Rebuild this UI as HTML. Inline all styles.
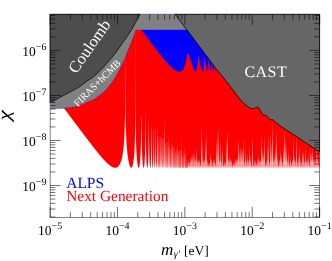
<!DOCTYPE html><html><head><meta charset="utf-8"><style>html,body{margin:0;padding:0;background:#fff}svg{display:block;will-change:transform}.s{font-family:"Liberation Serif",serif;text-rendering:geometricPrecision}</style></head><body><svg width="332" height="261" viewBox="0 0 332 261">
<rect x="0" y="0" width="332" height="261" fill="#fff"/>
<rect x="50.1" y="14.3" width="269.5" height="203.1" fill="none" stroke="#000" stroke-width="0.48"/>
<polygon points="50.40,29.70 50.40,89.98 50.58,90.22 50.76,90.47 50.94,90.71 51.12,90.95 51.30,91.19 51.48,91.43 51.66,91.67 51.84,91.91 52.02,92.15 52.20,92.39 52.38,92.63 52.56,92.87 52.74,93.11 52.92,93.35 53.10,93.59 53.28,93.83 53.46,94.07 53.64,94.31 53.82,94.55 54.00,94.79 54.18,95.03 54.36,95.28 54.54,95.52 54.72,95.76 54.90,96.00 55.08,96.24 55.26,96.48 55.44,96.72 55.62,96.96 55.80,97.20 55.98,97.44 56.16,97.68 56.34,97.92 56.52,98.16 56.70,98.40 56.88,98.64 57.06,98.88 57.24,99.12 57.42,99.36 57.60,99.60 57.78,99.84 57.96,100.09 58.14,100.33 58.32,100.57 58.50,100.81 58.68,101.05 58.86,101.29 59.04,101.53 59.22,101.77 59.40,102.01 59.58,102.25 59.76,102.49 59.94,102.73 60.12,102.97 60.30,103.21 60.48,103.45 60.66,103.69 60.84,103.93 61.02,104.17 61.20,104.41 61.38,104.65 61.56,104.89 61.74,105.13 61.92,105.38 62.10,105.62 62.28,105.86 62.46,106.10 62.64,106.34 62.82,106.58 63.00,106.82 63.18,107.06 63.36,107.30 63.54,107.54 63.72,107.78 63.90,108.02 64.08,108.26 64.26,108.50 64.44,108.74 64.62,108.98 64.80,109.22 64.98,109.46 65.16,109.70 65.34,109.94 65.52,110.18 65.70,110.42 65.88,110.66 66.06,110.90 66.24,111.14 66.42,111.38 66.60,111.62 66.78,111.86 66.96,112.11 67.14,112.35 67.32,112.59 67.50,112.83 67.68,113.07 67.86,113.31 68.04,113.55 68.22,113.79 68.40,114.03 68.58,114.27 68.76,114.51 68.94,114.75 69.12,114.99 69.30,115.23 69.48,115.47 69.66,115.71 69.84,115.95 70.02,116.19 70.20,116.43 70.38,116.67 70.56,116.91 70.74,117.15 70.92,117.39 71.10,117.63 71.28,117.87 71.46,118.11 71.64,118.35 71.82,118.59 72.00,118.83 72.18,119.07 72.36,119.31 72.54,119.55 72.72,119.79 72.90,120.03 73.08,120.28 73.27,120.52 73.45,120.76 73.63,121.00 73.81,121.24 73.99,121.48 74.17,121.72 74.35,121.96 74.53,122.21 74.71,122.45 74.89,122.69 75.08,122.93 75.26,123.17 75.44,123.41 75.62,123.65 75.80,123.89 75.98,124.13 76.16,124.37 76.34,124.62 76.52,124.86 76.70,125.10 76.89,125.34 77.07,125.58 77.25,125.82 77.43,126.06 77.61,126.30 77.79,126.54 77.97,126.78 78.15,127.02 78.33,127.26 78.51,127.50 78.70,127.75 78.88,127.99 79.06,128.23 79.24,128.47 79.42,128.71 79.60,128.95 79.78,129.19 79.96,129.43 80.14,129.67 80.32,129.91 80.51,130.15 80.69,130.39 80.87,130.63 81.05,130.87 81.23,131.11 81.41,131.35 81.59,131.59 81.77,131.83 81.95,132.07 82.13,132.31 82.32,132.55 82.50,132.79 82.68,133.03 82.86,133.27 83.04,133.51 83.22,133.75 83.40,133.98 83.58,134.22 83.76,134.46 83.95,134.70 84.13,134.94 84.31,135.19 84.49,135.43 84.67,135.67 84.86,135.91 85.04,136.15 85.22,136.39 85.40,136.63 85.58,136.87 85.77,137.10 85.95,137.34 86.13,137.58 86.31,137.82 86.49,138.06 86.68,138.30 86.86,138.54 87.04,138.78 87.22,139.02 87.40,139.26 87.59,139.50 87.77,139.73 87.95,139.97 88.13,140.21 88.32,140.45 88.50,140.69 88.68,140.93 88.87,141.17 89.05,141.41 89.23,141.65 89.42,141.89 89.60,142.13 89.78,142.36 89.96,142.60 90.15,142.84 90.33,143.08 90.51,143.32 90.70,143.56 90.88,143.79 91.07,144.03 91.25,144.27 91.43,144.51 91.62,144.75 91.80,144.99 91.99,145.22 92.17,145.46 92.35,145.70 92.54,145.93 92.72,146.17 92.91,146.41 93.09,146.65 93.28,146.88 93.46,147.12 93.65,147.36 93.83,147.59 94.02,147.83 94.21,148.07 94.39,148.30 94.58,148.54 94.76,148.78 94.95,149.01 95.14,149.25 95.32,149.49 95.51,149.72 95.70,149.96 95.89,150.19 96.07,150.43 96.26,150.66 96.45,150.90 96.64,151.13 96.82,151.37 97.01,151.60 97.20,151.84 97.39,152.07 97.58,152.30 97.77,152.54 97.96,152.77 98.15,153.00 98.34,153.24 98.53,153.47 98.72,153.70 98.91,153.94 99.10,154.17 99.29,154.40 99.49,154.63 99.68,154.86 99.87,155.09 100.06,155.32 100.26,155.55 100.45,155.78 100.64,156.01 100.84,156.24 101.03,156.47 101.23,156.70 101.42,156.93 101.62,157.16 101.82,157.38 102.01,157.61 102.21,157.84 102.41,158.06 102.61,158.29 102.81,158.52 103.01,158.74 103.21,158.96 103.41,159.19 103.61,159.41 103.81,159.63 104.02,159.85 104.22,160.08 104.43,160.30 104.63,160.52 104.84,160.73 105.04,160.95 105.25,161.17 105.46,161.39 105.67,161.60 105.88,161.82 106.09,162.03 106.31,162.24 106.52,162.45 106.74,162.66 106.95,162.87 107.17,163.08 107.39,163.28 107.61,163.49 107.83,163.69 108.06,163.89 108.28,164.09 108.51,164.29 108.74,164.48 108.97,164.68 109.20,164.87 109.44,165.06 109.67,165.24 109.91,165.42 110.16,165.60 110.40,165.78 110.65,165.95 110.90,166.12 111.15,166.28 111.41,166.44 111.66,166.59 111.93,166.74 112.19,166.88 112.46,167.01 112.74,167.13 113.02,167.25 113.30,167.35 113.58,167.45 113.87,167.53 114.17,167.60 114.46,167.65 114.76,167.68 115.06,167.70 115.16,167.70 115.46,167.69 115.76,167.66 116.05,167.60 116.34,167.53 116.63,167.43 116.90,167.31 117.17,167.17 117.43,167.01 117.67,166.84 117.91,166.65 118.13,166.45 118.34,166.24 118.54,166.02 118.74,165.79 118.92,165.55 119.10,165.30 119.26,165.05 119.42,164.80 119.57,164.54 119.72,164.28 119.86,164.01 119.99,163.74 120.12,163.47 120.25,163.19 120.37,162.91 120.48,162.63 120.59,162.36 120.70,162.07 120.80,161.79 120.90,161.51 120.99,161.22 121.09,160.93 121.18,160.65 121.26,160.36 121.35,160.07 121.43,159.78 121.51,159.48 121.59,159.19 121.66,158.90 121.74,158.61 121.81,158.31 121.88,158.02 121.94,157.72 122.01,157.43 122.07,157.13 122.13,156.84 122.20,156.54 122.25,156.24 122.31,155.95 122.37,155.65 122.42,155.35 122.48,155.05 122.53,154.75 122.58,154.46 122.63,154.16 122.68,153.86 122.73,153.56 122.77,153.25 122.82,152.95 122.87,152.65 122.91,152.35 122.95,152.04 122.99,151.74 123.04,151.44 123.08,151.14 123.11,150.84 123.15,150.54 123.19,150.24 123.23,149.93 123.26,149.63 123.30,149.33 123.33,149.03 123.37,148.73 123.40,148.43 123.43,148.12 123.47,147.82 123.50,147.52 123.53,147.22 123.56,146.91 123.59,146.61 123.62,146.31 123.65,146.00 123.67,145.69 123.70,145.38 123.73,145.08 123.76,144.77 123.78,144.46 123.81,144.15 123.83,143.85 123.86,143.54 123.88,143.24 123.91,142.93 123.93,142.62 123.95,142.32 123.97,142.02 124.00,141.71 124.02,141.40 124.04,141.10 124.06,140.79 124.08,140.48 124.10,140.18 124.12,139.87 124.14,139.55 124.16,139.25 124.18,138.94 124.20,138.62 124.22,138.31 124.23,138.00 124.25,137.69 124.27,137.38 124.29,137.08 124.30,136.76 124.32,136.46 124.33,136.15 124.35,135.84 124.37,135.52 124.38,135.22 124.40,134.91 124.41,134.60 124.43,134.28 124.44,133.97 124.45,133.67 124.47,133.35 124.48,133.03 124.50,132.73 124.51,132.42 124.52,132.11 124.53,131.79 124.55,131.47 124.56,131.16 124.57,130.85 124.58,130.54 124.60,130.22 124.61,129.89 124.62,129.59 124.63,129.28 124.64,128.97 124.65,128.65 124.66,128.32 124.67,128.02 124.68,127.71 124.69,127.40 124.70,127.09 124.71,126.77 124.72,126.44 124.73,126.14 124.74,125.83 124.75,125.52 124.76,125.21 124.77,124.89 124.78,124.56 124.79,124.23 124.79,123.93 124.80,123.62 124.81,123.31 124.82,123.00 124.83,122.68 124.83,122.35 124.84,122.02 124.85,121.68 124.86,121.38 124.86,121.07 124.87,120.76 124.88,120.45 124.88,120.12 124.89,119.80 124.90,119.46 124.91,119.13 124.91,118.78 124.92,118.48 124.92,118.17 124.93,117.86 124.94,117.55 124.94,117.23 124.95,116.90 124.95,116.57 124.96,116.23 124.97,115.88 124.97,115.53 124.98,115.18 124.98,114.87 124.99,114.56 124.99,114.25 125.00,113.93 125.00,113.61 125.01,113.28 125.01,112.94 125.02,112.60 125.02,112.26 125.03,111.90 125.03,111.54 125.04,111.17 125.04,110.80 125.05,110.50 125.05,110.19 125.06,109.87 125.06,109.55 125.06,109.22 125.07,108.89 125.07,108.56 125.08,108.21 125.08,107.86 125.08,107.51 125.09,107.15 125.09,106.78 125.10,106.40 125.10,106.01 125.10,105.62 125.11,105.22 125.11,104.92 125.11,104.61 125.12,104.29 125.12,103.97 125.12,103.64 125.13,103.31 125.13,102.97 125.13,102.63 125.13,102.28 125.14,101.92 125.14,101.56 125.14,101.19 125.15,100.81 125.15,100.43 125.15,100.03 125.16,99.63 125.16,99.22 125.16,98.80 125.16,98.38 125.17,97.94 125.17,97.49 125.17,97.19 125.17,96.88 125.18,96.57 125.18,96.25 125.18,95.92 125.18,95.59 125.18,95.26 125.19,94.91 125.19,94.57 125.19,94.21 125.19,93.85 125.19,93.48 125.20,93.11 125.20,92.73 125.20,92.34 125.20,91.94 125.20,91.53 125.21,91.12 125.21,90.70 125.21,90.26 125.21,89.82 125.21,89.37 125.22,88.90 125.22,88.43 125.22,87.94 125.22,87.44 125.22,86.93 125.23,86.40 125.23,85.86 125.23,85.30 125.23,84.73 125.23,84.14 125.24,83.83 125.24,83.53 125.24,83.21 125.24,82.90 125.24,82.57 125.24,82.25 125.24,81.91 125.24,81.57 125.24,81.23 125.24,80.88 125.25,80.52 125.25,80.15 125.25,79.78 125.25,79.40 125.25,79.02 125.25,78.62 125.25,78.22 125.25,77.81 125.25,77.39 125.25,76.96 125.26,76.52 125.26,76.07 125.26,75.61 125.26,75.14 125.26,74.66 125.26,74.17 125.26,73.66 125.26,73.14 125.26,72.60 125.26,72.05 125.27,71.49 125.27,70.90 125.27,70.30 125.27,69.68 125.27,69.04 125.27,68.38 125.27,67.69 125.27,66.98 125.27,66.25 125.27,65.48 125.28,64.68 125.28,63.85 125.28,62.98 125.28,62.07 125.28,61.12 125.28,60.12 125.28,59.06 125.28,57.95 125.28,56.76 125.28,55.50 125.29,54.15 125.29,52.70 125.29,51.14 125.29,49.44 125.29,47.58 125.29,45.52 125.29,43.21 125.29,40.60 125.29,37.59 125.29,34.03 125.30,29.70 125.30,29.70 125.30,34.03 125.31,37.60 125.31,40.61 125.31,43.22 125.31,45.53 125.31,47.59 125.31,49.45 125.31,51.15 125.31,52.72 125.31,54.17 125.31,55.52 125.32,56.78 125.32,57.97 125.32,59.09 125.32,60.14 125.32,61.15 125.32,62.10 125.32,63.01 125.32,63.88 125.32,64.72 125.32,65.51 125.33,66.28 125.33,67.02 125.33,67.73 125.33,68.42 125.33,69.08 125.33,69.72 125.33,70.35 125.33,70.95 125.33,71.53 125.33,72.10 125.34,72.65 125.34,73.19 125.34,73.71 125.34,74.22 125.34,74.71 125.34,75.20 125.34,75.67 125.34,76.13 125.34,76.58 125.34,77.02 125.35,77.45 125.35,77.87 125.35,78.28 125.35,78.69 125.35,79.08 125.35,79.47 125.35,79.85 125.35,80.22 125.35,80.59 125.35,80.95 125.36,81.30 125.36,81.65 125.36,81.99 125.36,82.32 125.36,82.65 125.36,82.98 125.36,83.30 125.36,83.61 125.36,83.92 125.36,84.22 125.37,84.82 125.37,85.39 125.37,85.95 125.37,86.50 125.37,87.03 125.38,87.54 125.38,88.05 125.38,88.54 125.38,89.01 125.38,89.48 125.39,89.94 125.39,90.38 125.39,90.82 125.39,91.24 125.39,91.66 125.40,92.07 125.40,92.47 125.40,92.86 125.40,93.25 125.40,93.62 125.41,93.99 125.41,94.36 125.41,94.71 125.41,95.07 125.41,95.41 125.42,95.75 125.42,96.08 125.42,96.41 125.42,96.73 125.42,97.05 125.43,97.36 125.43,97.66 125.43,97.97 125.43,98.41 125.44,98.85 125.44,99.27 125.44,99.69 125.45,100.10 125.45,100.50 125.45,100.89 125.45,101.27 125.46,101.65 125.46,102.02 125.46,102.38 125.47,102.74 125.47,103.09 125.47,103.43 125.48,103.77 125.48,104.10 125.48,104.43 125.48,104.75 125.49,105.06 125.49,105.38 125.49,105.68 125.50,105.98 125.50,106.38 125.50,106.77 125.51,107.15 125.51,107.52 125.52,107.89 125.52,108.25 125.52,108.60 125.53,108.95 125.53,109.29 125.54,109.62 125.54,109.95 125.54,110.28 125.55,110.60 125.55,110.91 125.56,111.22 125.56,111.52 125.57,111.90 125.57,112.26 125.58,112.62 125.58,112.98 125.59,113.33 125.59,113.67 125.60,114.00 125.60,114.33 125.61,114.66 125.61,114.98 125.62,115.29 125.62,115.60 125.63,115.91 125.63,116.21 125.64,116.56 125.64,116.91 125.65,117.25 125.65,117.59 125.66,117.92 125.67,118.25 125.67,118.57 125.68,118.88 125.68,119.19 125.69,119.50 125.70,119.80 125.70,120.15 125.71,120.49 125.72,120.82 125.72,121.15 125.73,121.47 125.74,121.79 125.75,122.10 125.75,122.41 125.76,122.71 125.77,123.06 125.78,123.39 125.78,123.72 125.79,124.05 125.80,124.37 125.81,124.68 125.82,124.99 125.82,125.29 125.83,125.59 125.84,125.93 125.85,126.25 125.86,126.58 125.87,126.89 125.88,127.20 125.89,127.51 125.89,127.81 125.90,128.14 125.91,128.47 125.92,128.79 125.93,129.11 125.94,129.42 125.95,129.72 125.96,130.02 125.98,130.35 125.99,130.67 126.00,130.98 126.01,131.29 126.02,131.60 126.03,131.90 126.04,132.23 126.05,132.54 126.07,132.86 126.08,133.17 126.09,133.47 126.10,133.79 126.12,134.11 126.13,134.43 126.14,134.74 126.16,135.04 126.17,135.34 126.18,135.66 126.20,135.97 126.21,136.28 126.22,136.58 126.24,136.90 126.25,137.22 126.27,137.53 126.28,137.83 126.30,138.13 126.32,138.45 126.33,138.76 126.35,139.07 126.36,139.37 126.38,139.68 126.40,139.99 126.41,140.30 126.43,140.60 126.45,140.91 126.47,141.22 126.49,141.53 126.50,141.84 126.52,142.15 126.54,142.46 126.56,142.76 126.58,143.07 126.60,143.38 126.62,143.68 126.64,143.99 126.66,144.30 126.68,144.60 126.71,144.92 126.73,145.22 126.75,145.53 126.77,145.84 126.80,146.14 126.82,146.45 126.84,146.76 126.87,147.06 126.89,147.36 126.92,147.67 126.94,147.97 126.97,148.28 126.99,148.58 127.02,148.88 127.05,149.19 127.07,149.49 127.10,149.80 127.13,150.10 127.16,150.41 127.19,150.71 127.22,151.02 127.25,151.32 127.28,151.63 127.31,151.93 127.34,152.23 127.37,152.54 127.41,152.84 127.44,153.14 127.47,153.44 127.51,153.74 127.54,154.04 127.58,154.35 127.61,154.65 127.65,154.95 127.69,155.25 127.73,155.55 127.77,155.85 127.81,156.15 127.85,156.46 127.89,156.76 127.93,157.06 127.97,157.36 128.02,157.66 128.06,157.96 128.11,158.26 128.16,158.56 128.20,158.86 128.25,159.16 128.30,159.46 128.35,159.76 128.41,160.06 128.46,160.36 128.51,160.65 128.57,160.95 128.63,161.25 128.69,161.55 128.75,161.85 128.81,162.14 128.87,162.43 128.94,162.73 129.01,163.02 129.08,163.32 129.15,163.61 129.23,163.90 129.31,164.20 129.39,164.49 129.47,164.78 129.56,165.07 129.66,165.35 129.76,165.64 129.86,165.92 129.98,166.20 130.10,166.47 130.23,166.74 130.38,167.00 130.55,167.25 130.75,167.48 131.00,167.65 131.23,167.70 131.52,167.61 131.75,167.42 131.93,167.18 132.08,166.92 132.21,166.65 132.32,166.37 132.43,166.08 132.52,165.80 132.61,165.51 132.69,165.22 132.76,164.92 132.84,164.63 132.90,164.33 132.97,164.04 133.03,163.74 133.08,163.44 133.14,163.15 133.19,162.85 133.24,162.55 133.29,162.24 133.34,161.94 133.38,161.65 133.43,161.34 133.47,161.04 133.51,160.74 133.55,160.44 133.59,160.14 133.63,159.84 133.66,159.54 133.70,159.23 133.73,158.93 133.76,158.63 133.80,158.33 133.83,158.03 133.86,157.72 133.89,157.42 133.92,157.12 133.95,156.82 133.97,156.51 134.00,156.21 134.03,155.91 134.05,155.60 134.08,155.30 134.10,154.99 134.13,154.68 134.15,154.37 134.17,154.07 134.20,153.75 134.22,153.45 134.24,153.14 134.26,152.83 134.28,152.52 134.30,152.22 134.32,151.91 134.34,151.61 134.36,151.31 134.38,150.99 134.40,150.69 134.42,150.38 134.43,150.07 134.45,149.77 134.47,149.46 134.48,149.14 134.50,148.84 134.52,148.53 134.53,148.21 134.55,147.91 134.56,147.61 134.58,147.29 134.59,146.98 134.61,146.67 134.62,146.36 134.63,146.05 134.65,145.73 134.66,145.42 134.67,145.12 134.69,144.80 134.70,144.48 134.71,144.18 134.72,143.87 134.74,143.56 134.75,143.24 134.76,142.91 134.77,142.61 134.78,142.30 134.79,141.99 134.80,141.67 134.82,141.34 134.83,141.04 134.84,140.73 134.85,140.42 134.86,140.10 134.87,139.78 134.88,139.45 134.88,139.15 134.89,138.84 134.90,138.53 134.91,138.21 134.92,137.88 134.93,137.55 134.94,137.22 134.95,136.91 134.95,136.60 134.96,136.29 134.97,135.97 134.98,135.64 134.99,135.31 134.99,134.97 135.00,134.67 135.01,134.36 135.02,134.05 135.02,133.74 135.03,133.41 135.04,133.09 135.04,132.75 135.05,132.41 135.06,132.07 135.06,131.76 135.07,131.46 135.08,131.14 135.08,130.83 135.09,130.50 135.09,130.17 135.10,129.84 135.11,129.50 135.11,129.15 135.12,128.80 135.12,128.44 135.13,128.13 135.13,127.82 135.14,127.51 135.14,127.18 135.15,126.86 135.15,126.52 135.16,126.19 135.16,125.84 135.17,125.49 135.17,125.13 135.18,124.77 135.18,124.40 135.19,124.09 135.19,123.78 135.20,123.47 135.20,123.15 135.20,122.83 135.21,122.50 135.21,122.17 135.22,121.83 135.22,121.48 135.22,121.12 135.23,120.76 135.23,120.40 135.24,120.02 135.24,119.64 135.24,119.25 135.25,118.85 135.25,118.55 135.25,118.24 135.26,117.93 135.26,117.61 135.26,117.28 135.27,116.96 135.27,116.62 135.27,116.28 135.27,115.93 135.28,115.58 135.28,115.22 135.28,114.85 135.29,114.47 135.29,114.09 135.29,113.70 135.30,113.30 135.30,112.90 135.30,112.48 135.30,112.06 135.31,111.62 135.31,111.18 135.31,110.88 135.31,110.57 135.32,110.26 135.32,109.94 135.32,109.62 135.32,109.29 135.32,108.96 135.33,108.62 135.33,108.28 135.33,107.93 135.33,107.57 135.33,107.21 135.34,106.84 135.34,106.46 135.34,106.07 135.34,105.68 135.34,105.28 135.35,104.87 135.35,104.45 135.35,104.02 135.35,103.58 135.35,103.13 135.36,102.67 135.36,102.20 135.36,101.72 135.36,101.23 135.36,100.72 135.37,100.20 135.37,99.67 135.37,99.12 135.37,98.55 135.37,97.97 135.38,97.37 135.38,97.06 135.38,96.75 135.38,96.43 135.38,96.11 135.38,95.78 135.38,95.45 135.38,95.11 135.38,94.76 135.39,94.41 135.39,94.05 135.39,93.69 135.39,93.31 135.39,92.93 135.39,92.55 135.39,92.15 135.39,91.75 135.39,91.34 135.39,90.92 135.40,90.49 135.40,90.05 135.40,89.60 135.40,89.14 135.40,88.67 135.40,88.19 135.40,87.69 135.40,87.18 135.40,86.66 135.40,86.13 135.41,85.58 135.41,85.01 135.41,84.42 135.41,83.82 135.41,83.20 135.41,82.56 135.41,81.90 135.41,81.21 135.41,80.50 135.41,79.76 135.42,78.99 135.42,78.19 135.42,77.36 135.42,76.49 135.42,75.58 135.42,74.62 135.42,73.62 135.42,72.56 135.42,71.44 135.42,70.25 135.43,68.98 135.43,67.63 135.43,66.18 135.43,64.61 135.43,62.90 135.43,61.03 135.43,58.95 135.43,56.64 135.43,54.01 135.43,50.97 135.44,47.37 135.44,42.96 135.44,37.25 135.44,29.70 135.44,29.70 135.44,30.17 135.44,37.93 135.44,43.47 135.45,47.79 135.45,51.32 135.45,54.31 135.45,56.90 135.45,59.19 135.45,61.24 135.45,63.10 135.45,64.79 135.45,66.35 135.45,67.79 135.46,69.14 135.46,70.40 135.46,71.58 135.46,72.70 135.46,73.75 135.46,74.75 135.46,75.70 135.46,76.61 135.46,77.48 135.46,78.31 135.47,79.11 135.47,79.87 135.47,80.61 135.47,81.32 135.47,82.01 135.47,82.67 135.47,83.31 135.47,83.93 135.47,84.53 135.47,85.11 135.48,85.68 135.48,86.23 135.48,86.77 135.48,87.29 135.48,87.80 135.48,88.29 135.48,88.77 135.48,89.24 135.48,89.70 135.48,90.15 135.49,90.59 135.49,91.02 135.49,91.44 135.49,91.86 135.49,92.26 135.49,92.65 135.49,93.04 135.49,93.42 135.49,93.79 135.49,94.16 135.50,94.52 135.50,94.87 135.50,95.22 135.50,95.56 135.50,95.89 135.50,96.22 135.50,96.55 135.50,96.86 135.50,97.18 135.50,97.48 135.51,97.79 135.51,98.38 135.51,98.96 135.51,99.52 135.51,100.06 135.52,100.59 135.52,101.11 135.52,101.61 135.52,102.10 135.52,102.57 135.53,103.04 135.53,103.50 135.53,103.94 135.53,104.38 135.53,104.80 135.54,105.22 135.54,105.63 135.54,106.03 135.54,106.42 135.54,106.80 135.55,107.18 135.55,107.55 135.55,107.91 135.55,108.27 135.55,108.62 135.56,108.96 135.56,109.30 135.56,109.64 135.56,109.96 135.56,110.28 135.57,110.60 135.57,110.91 135.57,111.22 135.57,111.52 135.57,111.96 135.58,112.40 135.58,112.82 135.58,113.24 135.59,113.65 135.59,114.04 135.59,114.44 135.60,114.82 135.60,115.19 135.60,115.56 135.60,115.93 135.61,116.28 135.61,116.63 135.61,116.97 135.62,117.31 135.62,117.64 135.62,117.97 135.63,118.29 135.63,118.61 135.63,118.92 135.63,119.22 135.64,119.52 135.64,119.92 135.65,120.31 135.65,120.69 135.65,121.06 135.66,121.42 135.66,121.78 135.67,122.13 135.67,122.48 135.67,122.82 135.68,123.15 135.68,123.48 135.69,123.81 135.69,124.12 135.69,124.44 135.70,124.75 135.70,125.05 135.71,125.42 135.71,125.79 135.72,126.15 135.72,126.50 135.73,126.84 135.73,127.19 135.74,127.52 135.74,127.85 135.75,128.17 135.75,128.49 135.76,128.80 135.76,129.11 135.77,129.42 135.77,129.77 135.78,130.13 135.78,130.47 135.79,130.81 135.80,131.14 135.80,131.47 135.81,131.79 135.81,132.11 135.82,132.42 135.83,132.73 135.83,133.03 135.84,133.38 135.85,133.72 135.85,134.06 135.86,134.39 135.87,134.71 135.87,135.03 135.88,135.34 135.89,135.65 135.90,135.96 135.90,136.30 135.91,136.63 135.92,136.96 135.93,137.29 135.94,137.61 135.94,137.92 135.95,138.23 135.96,138.53 135.97,138.87 135.98,139.20 135.99,139.52 136.00,139.84 136.00,140.16 136.01,140.47 136.02,140.77 136.03,141.10 136.04,141.43 136.05,141.75 136.06,142.07 136.07,142.38 136.08,142.68 136.09,142.98 136.10,143.31 136.11,143.63 136.13,143.94 136.14,144.25 136.15,144.55 136.16,144.88 136.17,145.20 136.18,145.52 136.20,145.83 136.21,146.13 136.22,146.45 136.23,146.77 136.25,147.09 136.26,147.39 136.27,147.70 136.29,148.02 136.30,148.33 136.31,148.64 136.33,148.94 136.34,149.26 136.36,149.58 136.37,149.89 136.39,150.19 136.40,150.51 136.42,150.82 136.44,151.12 136.45,151.42 136.47,151.74 136.49,152.05 136.50,152.35 136.52,152.66 136.54,152.97 136.56,153.27 136.58,153.59 136.60,153.89 136.61,154.19 136.63,154.51 136.65,154.81 136.68,155.12 136.70,155.43 136.72,155.73 136.74,156.04 136.76,156.34 136.78,156.65 136.81,156.96 136.83,157.27 136.86,157.57 136.88,157.88 136.91,158.18 136.93,158.49 136.96,158.78 136.98,159.09 137.01,159.39 137.04,159.69 137.07,160.00 137.10,160.30 137.13,160.61 137.16,160.91 137.19,161.21 137.23,161.51 137.26,161.81 137.30,162.11 137.33,162.42 137.37,162.72 137.41,163.02 137.45,163.32 137.49,163.62 137.54,163.92 137.58,164.22 137.63,164.52 137.68,164.82 137.74,165.12 137.79,165.42 137.86,165.71 137.92,166.01 137.99,166.30 138.07,166.59 138.16,166.88 138.26,167.16 138.39,167.43 138.59,167.66 138.71,167.70 138.95,167.53 139.09,167.26 139.20,166.98 139.29,166.69 139.36,166.40 139.43,166.10 139.49,165.81 139.55,165.51 139.60,165.20 139.65,164.91 139.69,164.61 139.73,164.30 139.77,164.01 139.81,163.71 139.85,163.40 139.88,163.10 139.92,162.79 139.95,162.49 139.98,162.19 140.01,161.89 140.04,161.58 140.07,161.28 140.10,160.97 140.12,160.67 140.15,160.37 140.17,160.05 140.20,159.75 140.22,159.44 140.24,159.13 140.26,158.82 140.28,158.52 140.31,158.21 140.33,157.90 140.35,157.59 140.36,157.29 140.38,156.98 140.40,156.67 140.42,156.36 140.44,156.06 140.45,155.76 140.47,155.44 140.49,155.14 140.50,154.83 140.52,154.51 140.53,154.20 140.55,153.89 140.56,153.58 140.58,153.27 140.59,152.96 140.61,152.64 140.62,152.34 140.63,152.04 140.64,151.72 140.66,151.40 140.67,151.10 140.68,150.80 140.69,150.48 140.71,150.16 140.72,149.84 140.73,149.53 140.74,149.22 140.75,148.90 140.76,148.58 140.77,148.28 140.78,147.97 140.79,147.66 140.80,147.34 140.81,147.02 140.82,146.69 140.83,146.38 140.84,146.07 140.85,145.76 140.86,145.44 140.87,145.11 140.88,144.78 140.88,144.48 140.89,144.17 140.90,143.86 140.91,143.54 140.92,143.21 140.92,142.88 140.93,142.55 140.94,142.25 140.95,141.94 140.95,141.63 140.96,141.31 140.97,140.99 140.97,140.66 140.98,140.33 140.99,139.99 140.99,139.64 141.00,139.34 141.01,139.03 141.01,138.72 141.02,138.40 141.02,138.07 141.03,137.74 141.04,137.41 141.04,137.06 141.05,136.71 141.05,136.36 141.06,136.05 141.06,135.75 141.07,135.43 141.07,135.12 141.08,134.79 141.08,134.46 141.09,134.13 141.09,133.79 141.10,133.44 141.10,133.08 141.11,132.72 141.11,132.35 141.12,132.05 141.12,131.75 141.13,131.44 141.13,131.12 141.13,130.80 141.14,130.48 141.14,130.14 141.15,129.81 141.15,129.46 141.15,129.11 141.16,128.76 141.16,128.39 141.17,128.02 141.17,127.64 141.17,127.26 141.18,126.86 141.18,126.56 141.18,126.25 141.19,125.94 141.19,125.63 141.19,125.31 141.20,124.98 141.20,124.65 141.20,124.31 141.21,123.96 141.21,123.61 141.21,123.25 141.21,122.89 141.22,122.52 141.22,122.14 141.22,121.75 141.23,121.36 141.23,120.96 141.23,120.54 141.24,120.12 141.24,119.69 141.24,119.25 141.24,118.80 141.25,118.50 141.25,118.19 141.25,117.87 141.25,117.55 141.25,117.22 141.26,116.89 141.26,116.55 141.26,116.50 141.48,116.50 141.49,116.87 141.49,117.21 141.49,117.54 141.49,117.87 141.50,118.19 141.50,118.50 141.50,118.81 141.50,119.12 141.50,119.42 141.51,119.87 141.51,120.30 141.51,120.72 141.52,121.14 141.52,121.55 141.52,121.95 141.52,122.34 141.53,122.72 141.53,123.09 141.53,123.46 141.54,123.82 141.54,124.18 141.54,124.53 141.55,124.87 141.55,125.21 141.55,125.54 141.55,125.86 141.56,126.18 141.56,126.50 141.56,126.81 141.57,127.11 141.57,127.42 141.57,127.81 141.58,128.19 141.58,128.57 141.59,128.94 141.59,129.31 141.59,129.67 141.60,130.02 141.60,130.36 141.61,130.70 141.61,131.03 141.61,131.36 141.62,131.68 141.62,132.00 141.63,132.31 141.63,132.62 141.63,132.92 141.64,133.29 141.64,133.65 141.65,134.01 141.65,134.36 141.66,134.70 141.66,135.04 141.67,135.38 141.67,135.70 141.68,136.02 141.68,136.34 141.69,136.65 141.69,136.96 141.70,137.26 141.70,137.61 141.71,137.96 141.72,138.30 141.72,138.64 141.73,138.97 141.73,139.29 141.74,139.61 141.75,139.93 141.75,140.24 141.76,140.54 141.77,140.89 141.77,141.23 141.78,141.57 141.79,141.90 141.79,142.22 141.80,142.54 141.81,142.85 141.81,143.16 141.82,143.46 141.83,143.80 141.84,144.14 141.85,144.47 141.85,144.79 141.86,145.11 141.87,145.42 141.88,145.72 141.89,146.02 141.89,146.36 141.90,146.68 141.91,147.00 141.92,147.32 141.93,147.63 141.94,147.93 141.95,148.27 141.96,148.59 141.97,148.91 141.98,149.23 141.99,149.53 142.00,149.84 142.01,150.16 142.02,150.48 142.03,150.80 142.04,151.11 142.05,151.41 142.07,151.74 142.08,152.06 142.09,152.37 142.10,152.67 142.11,152.98 142.13,153.29 142.14,153.61 142.15,153.91 142.17,154.22 142.18,154.53 142.19,154.84 142.21,155.15 142.22,155.47 142.24,155.78 142.25,156.09 142.27,156.39 142.28,156.70 142.30,157.01 142.32,157.32 142.33,157.63 142.35,157.94 142.37,158.25 142.39,158.56 142.41,158.87 142.43,159.18 142.44,159.48 142.46,159.79 142.49,160.10 142.51,160.41 142.53,160.72 142.55,161.02 142.57,161.32 142.60,161.63 142.62,161.93 142.65,162.24 142.67,162.54 142.70,162.84 142.73,163.15 142.76,163.45 142.79,163.75 142.82,164.06 142.85,164.36 142.89,164.66 142.92,164.96 142.96,165.26 143.00,165.57 143.05,165.87 143.10,166.17 143.15,166.47 143.21,166.76 143.28,167.06 143.37,167.34 143.50,167.62 143.63,167.70 143.83,167.48 143.93,167.19 144.00,166.90 144.06,166.60 144.12,166.30 144.16,166.00 144.21,165.70 144.25,165.40 144.28,165.10 144.32,164.80 144.35,164.50 144.38,164.19 144.41,163.89 144.44,163.58 144.46,163.28 144.49,162.98 144.51,162.68 144.54,162.38 144.56,162.07 144.58,161.76 144.60,161.45 144.62,161.15 144.64,160.84 144.66,160.53 144.68,160.23 144.70,159.92 144.71,159.62 144.73,159.31 144.75,159.00 144.76,158.69 144.78,158.37 144.80,158.06 144.81,157.75 144.82,157.45 144.84,157.14 144.85,156.83 144.87,156.53 144.88,156.22 144.89,155.91 144.90,155.58 144.92,155.28 144.93,154.97 144.94,154.65 144.95,154.32 144.96,154.01 144.97,153.70 144.99,153.38 145.00,153.05 145.01,152.75 145.02,152.44 145.03,152.12 145.04,151.80 145.05,151.47 145.06,151.17 145.06,150.86 145.07,150.54 145.08,150.22 145.09,149.89 145.10,149.55 145.11,149.25 145.12,148.94 145.12,148.62 145.13,148.30 145.14,147.97 145.15,147.63 145.16,147.33 145.16,147.02 145.17,146.71 145.18,146.39 145.18,146.07 145.19,145.74 145.20,145.41 145.20,145.06 145.21,144.71 145.22,144.41 145.22,144.10 145.23,143.78 145.24,143.46 145.24,143.13 145.25,142.79 145.25,142.45 145.26,142.11 145.27,141.75 145.27,141.45 145.28,141.14 145.28,140.83 145.29,140.51 145.29,140.19 145.30,139.86 145.30,139.53 145.31,139.19 145.31,138.84 145.32,138.48 145.32,138.12 145.33,137.75 145.33,137.45 145.33,137.15 145.34,136.84 145.34,136.52 145.35,136.20 145.35,135.87 145.35,135.54 145.36,135.20 145.36,134.85 145.37,134.50 145.37,134.14 145.37,133.77 145.38,133.40 145.38,133.02 145.39,132.63 145.39,132.23 145.39,131.93 145.40,131.62 145.40,131.31 145.40,130.99 145.40,130.67 145.41,130.34 145.41,130.00 145.41,129.66 145.42,129.31 145.42,128.96 145.42,128.59 145.43,128.23 145.43,127.85 145.43,127.47 145.43,127.08 145.44,126.68 145.44,126.27 145.44,125.85 145.45,125.43 145.45,124.99 145.45,124.54 145.45,124.24 145.46,123.93 145.46,123.62 145.46,123.30 145.46,122.98 145.46,122.65 145.47,122.31 145.47,121.97 145.47,121.63 145.47,121.27 145.47,120.91 145.48,120.54 145.48,120.17 145.48,119.79 145.48,119.40 145.48,119.00 145.49,118.60 145.49,118.18 145.49,117.76 145.49,117.33 145.49,116.88 145.50,116.43 145.50,115.97 145.50,115.49 145.50,115.00 145.50,114.50 145.51,113.99 145.51,113.46 145.51,112.92 145.51,112.36 145.51,111.79 145.52,111.20 145.52,111.00 145.64,111.00 145.65,111.35 145.65,111.94 145.65,112.52 145.65,113.07 145.65,113.62 145.66,114.15 145.66,114.66 145.66,115.16 145.66,115.65 145.66,116.13 145.67,116.59 145.67,117.05 145.67,117.49 145.67,117.93 145.67,118.35 145.68,118.77 145.68,119.17 145.68,119.57 145.68,119.96 145.68,120.35 145.69,120.72 145.69,121.09 145.69,121.45 145.69,121.81 145.69,122.16 145.70,122.50 145.70,122.84 145.70,123.17 145.70,123.50 145.70,123.82 145.71,124.13 145.71,124.44 145.71,124.75 145.71,125.05 145.72,125.49 145.72,125.92 145.72,126.35 145.72,126.76 145.73,127.17 145.73,127.56 145.73,127.95 145.74,128.33 145.74,128.71 145.74,129.08 145.75,129.44 145.75,129.79 145.75,130.14 145.75,130.48 145.76,130.81 145.76,131.14 145.76,131.47 145.77,131.79 145.77,132.10 145.77,132.41 145.78,132.71 145.78,133.11 145.78,133.50 145.79,133.88 145.79,134.26 145.80,134.62 145.80,134.98 145.80,135.34 145.81,135.68 145.81,136.03 145.82,136.36 145.82,136.69 145.82,137.01 145.83,137.33 145.83,137.64 145.84,137.95 145.84,138.26 145.84,138.63 145.85,138.99 145.85,139.35 145.86,139.70 145.86,140.05 145.87,140.38 145.87,140.72 145.88,141.04 145.88,141.36 145.89,141.68 145.89,141.99 145.90,142.30 145.90,142.60 145.91,142.95 145.92,143.30 145.92,143.64 145.93,143.97 145.93,144.30 145.94,144.62 145.95,144.94 145.95,145.25 145.96,145.56 145.96,145.86 145.97,146.21 145.98,146.54 145.99,146.88 145.99,147.20 146.00,147.52 146.01,147.84 146.01,148.15 146.02,148.45 146.03,148.79 146.04,149.12 146.04,149.45 146.05,149.77 146.06,150.09 146.07,150.40 146.08,150.70 146.09,151.04 146.09,151.36 146.10,151.69 146.11,152.00 146.12,152.31 146.13,152.62 146.14,152.95 146.15,153.27 146.16,153.59 146.17,153.90 146.18,154.20 146.19,154.53 146.20,154.85 146.21,155.17 146.22,155.48 146.24,155.78 146.25,156.10 146.26,156.41 146.27,156.72 146.28,157.02 146.30,157.34 146.31,157.65 146.32,157.96 146.34,158.28 146.35,158.59 146.36,158.89 146.38,159.21 146.39,159.52 146.41,159.82 146.43,160.13 146.44,160.43 146.46,160.75 146.48,161.05 146.49,161.36 146.51,161.67 146.53,161.97 146.55,162.29 146.57,162.59 146.59,162.90 146.61,163.21 146.64,163.52 146.66,163.83 146.69,164.13 146.71,164.44 146.74,164.74 146.77,165.04 146.80,165.35 146.83,165.65 146.87,165.96 146.91,166.26 146.95,166.55 147.00,166.86 147.06,167.15 147.14,167.44 147.29,167.70 147.30,167.70 147.47,167.45 147.55,167.16 147.60,166.86 147.65,166.56 147.69,166.26 147.73,165.96 147.76,165.65 147.79,165.35 147.82,165.05 147.85,164.74 147.87,164.44 147.90,164.14 147.92,163.83 147.94,163.52 147.96,163.21 147.98,162.90 148.00,162.59 148.02,162.29 148.04,161.98 148.06,161.67 148.07,161.35 148.09,161.04 148.10,160.74 148.12,160.44 148.13,160.12 148.15,159.81 148.16,159.49 148.18,159.19 148.19,158.88 148.20,158.56 148.21,158.25 148.23,157.94 148.24,157.62 148.25,157.32 148.26,157.01 148.27,156.69 148.28,156.37 148.29,156.07 148.30,155.76 148.31,155.44 148.32,155.12 148.33,154.79 148.34,154.48 148.35,154.17 148.36,153.85 148.37,153.52 148.38,153.19 148.38,152.88 148.39,152.57 148.40,152.26 148.41,151.93 148.42,151.60 148.42,151.27 148.43,150.97 148.44,150.66 148.45,150.34 148.45,150.02 148.46,149.70 148.47,149.37 148.47,149.03 148.48,148.68 148.49,148.37 148.49,148.06 148.50,147.75 148.50,147.43 148.51,147.10 148.52,146.77 148.52,146.43 148.53,146.08 148.53,145.72 148.54,145.42 148.54,145.11 148.55,144.80 148.55,144.48 148.56,144.16 148.56,143.83 148.57,143.49 148.57,143.15 148.58,142.80 148.58,142.44 148.59,142.08 148.59,141.70 148.60,141.40 148.60,141.09 148.61,140.78 148.61,140.46 148.61,140.13 148.62,139.80 148.62,139.46 148.63,139.12 148.63,138.77 148.63,138.41 148.64,138.05 148.64,137.68 148.65,137.30 148.65,136.91 148.65,136.51 148.66,136.21 148.66,135.90 148.66,135.59 148.67,135.27 148.67,134.95 148.67,134.62 148.68,134.29 148.68,133.94 148.68,133.60 148.68,133.24 148.69,132.88 148.69,132.51 148.69,132.14 148.70,131.76 148.70,131.36 148.70,130.97 148.71,130.56 148.71,130.14 148.71,129.71 148.71,129.28 148.72,128.83 148.72,128.53 148.72,128.22 148.72,127.91 148.73,127.59 148.73,127.27 148.73,126.94 148.73,126.60 148.73,126.26 148.74,125.91 148.74,125.56 148.74,125.20 148.74,124.83 148.74,124.45 148.75,124.07 148.75,123.68 148.75,123.28 148.75,122.88 148.75,122.46 148.76,122.04 148.76,121.80 148.93,121.80 148.94,122.14 148.94,122.56 148.94,122.98 148.94,123.39 148.94,123.79 148.95,124.19 148.95,124.57 148.95,124.95 148.95,125.32 148.95,125.68 148.96,126.04 148.96,126.39 148.96,126.74 148.96,127.07 148.96,127.41 148.97,127.73 148.97,128.05 148.97,128.37 148.97,128.68 148.97,128.99 148.98,129.29 148.98,129.73 148.98,130.17 148.99,130.59 148.99,131.01 148.99,131.41 148.99,131.81 149.00,132.20 149.00,132.58 149.00,132.96 149.01,133.32 149.01,133.68 149.01,134.04 149.02,134.38 149.02,134.73 149.02,135.06 149.02,135.39 149.03,135.71 149.03,136.03 149.03,136.35 149.04,136.65 149.04,136.96 149.04,137.35 149.05,137.74 149.05,138.12 149.06,138.50 149.06,138.86 149.06,139.22 149.07,139.57 149.07,139.92 149.08,140.26 149.08,140.59 149.08,140.92 149.09,141.24 149.09,141.56 149.10,141.87 149.10,142.18 149.10,142.48 149.11,142.85 149.11,143.21 149.12,143.56 149.12,143.91 149.13,144.25 149.13,144.59 149.14,144.92 149.14,145.24 149.15,145.56 149.15,145.87 149.16,146.18 149.16,146.48 149.17,146.83 149.18,147.18 149.18,147.52 149.19,147.86 149.19,148.19 149.20,148.51 149.21,148.83 149.21,149.14 149.22,149.44 149.22,149.79 149.23,150.13 149.24,150.47 149.25,150.79 149.25,151.12 149.26,151.43 149.27,151.74 149.27,152.05 149.28,152.39 149.29,152.72 149.30,153.05 149.31,153.37 149.31,153.68 149.32,153.99 149.33,154.29 149.34,154.62 149.35,154.94 149.36,155.26 149.37,155.57 149.37,155.87 149.38,156.20 149.39,156.53 149.40,156.84 149.41,157.15 149.42,157.45 149.44,157.77 149.45,158.09 149.46,158.39 149.47,158.69 149.48,159.01 149.49,159.32 149.50,159.63 149.52,159.95 149.53,160.26 149.54,160.56 149.56,160.87 149.57,161.18 149.59,161.49 149.60,161.80 149.62,162.12 149.63,162.42 149.65,162.74 149.67,163.04 149.69,163.34 149.70,163.65 149.72,163.96 149.75,164.27 149.77,164.58 149.79,164.89 149.81,165.19 149.84,165.50 149.87,165.80 149.90,166.10 149.93,166.41 149.97,166.71 150.01,167.01 150.07,167.30 150.15,167.59 150.24,167.70 150.38,167.43 150.44,167.14 150.49,166.83 150.53,166.53 150.56,166.23 150.59,165.93 150.62,165.62 150.64,165.32 150.67,165.01 150.69,164.70 150.71,164.39 150.73,164.08 150.75,163.77 150.77,163.46 150.79,163.15 150.80,162.85 150.82,162.54 150.83,162.23 150.85,161.91 150.86,161.61 150.88,161.29 150.89,160.98 150.90,160.66 150.91,160.36 150.93,160.05 150.94,159.73 150.95,159.42 150.96,159.11 150.97,158.79 150.98,158.49 150.99,158.18 151.00,157.87 151.01,157.54 151.02,157.21 151.03,156.90 151.04,156.59 151.05,156.26 151.06,155.93 151.06,155.63 151.07,155.32 151.08,155.00 151.09,154.68 151.10,154.35 151.10,154.01 151.11,153.71 151.12,153.40 151.13,153.08 151.13,152.76 151.14,152.43 151.15,152.09 151.15,151.75 151.16,151.45 151.17,151.14 151.17,150.82 151.18,150.50 151.18,150.18 151.19,149.84 151.20,149.50 151.20,149.15 151.21,148.80 151.21,148.49 151.22,148.19 151.22,147.87 151.23,147.55 151.23,147.22 151.24,146.89 151.24,146.55 151.25,146.21 151.25,145.85 151.26,145.49 151.26,145.12 151.27,144.82 151.27,144.51 151.27,144.20 151.28,143.89 151.28,143.56 151.29,143.23 151.29,142.90 151.29,142.56 151.30,142.21 151.30,141.85 151.31,141.49 151.31,141.12 151.31,140.74 151.32,140.36 151.32,139.96 151.33,139.66 151.33,139.35 151.33,139.04 151.33,138.72 151.34,138.40 151.34,138.07 151.34,137.74 151.35,137.40 151.35,137.05 151.35,136.70 151.36,136.34 151.36,135.97 151.36,135.59 151.36,135.21 151.37,134.82 151.37,134.42 151.37,134.01 151.38,133.59 151.38,133.17 151.38,132.73 151.39,132.28 151.39,131.98 151.39,131.67 151.39,131.36 151.39,131.04 151.40,130.71 151.40,130.38 151.40,130.05 151.40,129.70 151.40,129.35 151.41,129.00 151.41,128.64 151.41,128.27 151.41,127.89 151.41,127.51 151.42,127.20 151.61,127.20 151.61,127.65 151.62,128.04 151.62,128.42 151.62,128.79 151.62,129.15 151.62,129.51 151.63,129.86 151.63,130.21 151.63,130.55 151.63,130.88 151.63,131.21 151.64,131.53 151.64,131.84 151.64,132.16 151.64,132.46 151.64,132.76 151.65,133.21 151.65,133.64 151.65,134.06 151.66,134.48 151.66,134.89 151.66,135.28 151.66,135.67 151.67,136.05 151.67,136.43 151.67,136.79 151.68,137.15 151.68,137.51 151.68,137.85 151.69,138.19 151.69,138.53 151.69,138.86 151.69,139.18 151.70,139.50 151.70,139.81 151.70,140.12 151.71,140.42 151.71,140.81 151.71,141.20 151.72,141.58 151.72,141.95 151.73,142.31 151.73,142.67 151.73,143.02 151.74,143.36 151.74,143.70 151.75,144.03 151.75,144.36 151.75,144.68 151.76,144.99 151.76,145.30 151.77,145.60 151.77,145.97 151.78,146.34 151.78,146.69 151.79,147.04 151.79,147.39 151.80,147.72 151.80,148.05 151.81,148.37 151.81,148.69 151.82,149.00 151.82,149.31 151.83,149.61 151.83,149.96 151.84,150.31 151.84,150.65 151.85,150.98 151.86,151.31 151.86,151.63 151.87,151.94 151.87,152.25 151.88,152.55 151.89,152.89 151.89,153.23 151.90,153.56 151.91,153.88 151.92,154.20 151.92,154.51 151.93,154.81 151.94,155.15 151.95,155.48 151.95,155.81 151.96,156.12 151.97,156.43 151.98,156.74 151.99,157.07 152.00,157.39 152.00,157.71 152.01,158.02 152.02,158.32 152.03,158.65 152.04,158.96 152.05,159.27 152.06,159.58 152.07,159.90 152.08,160.21 152.10,160.52 152.11,160.84 152.12,161.15 152.13,161.45 152.14,161.77 152.16,162.08 152.17,162.40 152.19,162.71 152.20,163.02 152.22,163.33 152.23,163.64 152.25,163.95 152.27,164.25 152.28,164.55 152.30,164.86 152.32,165.16 152.34,165.46 152.37,165.78 152.39,166.09 152.42,166.39 152.45,166.69 152.49,166.99 152.54,167.29 152.61,167.58 152.68,167.70 152.80,167.42 152.86,167.12 152.90,166.82 152.93,166.51 152.96,166.21 152.98,165.90 153.01,165.59 153.03,165.28 153.05,164.97 153.07,164.66 153.09,164.35 153.10,164.04 153.12,163.73 153.13,163.42 153.15,163.10 153.16,162.79 153.18,162.49 153.19,162.17 153.20,161.87 153.21,161.56 153.23,161.24 153.24,160.93 153.25,160.61 153.26,160.28 153.27,159.98 153.28,159.66 153.29,159.34 153.30,159.03 153.31,158.72 153.32,158.41 153.32,158.08 153.33,157.74 153.34,157.43 153.35,157.12 153.36,156.79 153.37,156.46 153.37,156.12 153.38,155.82 153.39,155.51 153.39,155.19 153.40,154.86 153.41,154.52 153.42,154.18 153.42,153.88 153.43,153.57 153.43,153.26 153.44,152.94 153.45,152.61 153.45,152.28 153.46,151.94 153.46,151.59 153.47,151.23 153.47,150.92 153.48,150.61 153.48,150.30 153.49,149.97 153.49,149.64 153.50,149.31 153.50,148.96 153.51,148.61 153.51,148.25 153.52,147.89 153.52,147.51 153.53,147.20 153.53,146.89 153.54,146.58 153.54,146.25 153.54,145.92 153.55,145.59 153.55,145.24 153.56,144.89 153.56,144.54 153.56,144.17 153.57,143.80 153.57,143.42 153.58,143.03 153.58,142.63 153.58,142.33 153.59,142.02 153.59,141.70 153.59,141.38 153.60,141.06 153.60,140.73 153.60,140.39 153.60,140.04 153.61,139.69 153.61,139.33 153.61,138.97 153.62,138.59 153.62,138.21 153.62,137.83 153.63,137.43 153.63,137.02 153.63,136.61 153.63,136.18 153.64,135.75 153.64,135.31 153.64,135.00 153.64,134.70 153.65,134.38 153.65,134.07 153.65,133.74 153.65,133.41 153.65,133.08 153.66,132.74 153.66,132.39 153.66,132.04 153.66,131.68 153.66,131.31 153.67,130.94 153.67,130.55 153.67,130.16 153.67,129.77 153.67,129.50 153.86,129.50 153.87,130.00 153.87,130.40 153.87,130.79 153.87,131.17 153.87,131.55 153.88,131.91 153.88,132.28 153.88,132.63 153.88,132.98 153.88,133.32 153.89,133.65 153.89,133.98 153.89,134.31 153.89,134.63 153.89,134.94 153.90,135.25 153.90,135.55 153.90,136.00 153.90,136.44 153.91,136.86 153.91,137.28 153.91,137.69 153.92,138.09 153.92,138.48 153.92,138.86 153.92,139.24 153.93,139.60 153.93,139.96 153.93,140.32 153.94,140.67 153.94,141.01 153.94,141.34 153.95,141.67 153.95,141.99 153.95,142.31 153.95,142.62 153.96,142.93 153.96,143.23 153.96,143.63 153.97,144.01 153.97,144.39 153.98,144.76 153.98,145.12 153.98,145.48 153.99,145.83 153.99,146.17 154.00,146.50 154.00,146.83 154.00,147.16 154.01,147.47 154.01,147.79 154.02,148.09 154.02,148.39 154.03,148.76 154.03,149.12 154.04,149.47 154.04,149.82 154.05,150.16 154.05,150.49 154.06,150.82 154.06,151.14 154.07,151.45 154.07,151.76 154.08,152.06 154.08,152.41 154.09,152.76 154.09,153.10 154.10,153.43 154.11,153.75 154.11,154.07 154.12,154.38 154.12,154.69 154.13,155.03 154.14,155.37 154.14,155.70 154.15,156.03 154.16,156.34 154.17,156.65 154.17,156.96 154.18,157.29 154.19,157.62 154.20,157.94 154.20,158.26 154.21,158.56 154.22,158.90 154.23,159.22 154.24,159.54 154.25,159.85 154.26,160.18 154.27,160.50 154.28,160.81 154.29,161.12 154.30,161.44 154.31,161.75 154.32,162.05 154.33,162.37 154.35,162.68 154.36,163.00 154.37,163.30 154.39,163.62 154.40,163.92 154.41,164.23 154.43,164.54 154.45,164.85 154.47,165.17 154.48,165.47 154.50,165.77 154.53,166.08 154.55,166.38 154.58,166.69 154.61,166.99 154.65,167.29 154.71,167.58 154.78,167.70 154.88,167.42 154.93,167.11 154.96,166.81 154.99,166.50 155.02,166.20 155.04,165.90 155.06,165.59 155.08,165.28 155.10,164.96 155.11,164.66 155.13,164.36 155.14,164.05 155.16,163.73 155.17,163.43 155.18,163.11 155.19,162.80 155.21,162.48 155.22,162.18 155.23,161.86 155.24,161.53 155.25,161.22 155.26,160.90 155.27,160.57 155.28,160.26 155.29,159.94 155.30,159.62 155.30,159.32 155.31,159.01 155.32,158.69 155.33,158.37 155.34,158.03 155.34,157.73 155.35,157.42 155.36,157.10 155.36,156.78 155.37,156.44 155.38,156.10 155.38,155.80 155.39,155.50 155.40,155.18 155.40,154.86 155.41,154.53 155.41,154.19 155.42,153.85 155.43,153.50 155.43,153.20 155.44,152.89 155.44,152.58 155.45,152.26 155.45,151.93 155.46,151.59 155.46,151.25 155.47,150.90 155.47,150.55 155.48,150.18 155.48,149.81 155.48,149.50 155.49,149.19 155.49,148.87 155.50,148.55 155.50,148.22 155.50,147.89 155.51,147.54 155.51,147.19 155.52,146.83 155.52,146.47 155.52,146.09 155.53,145.71 155.53,145.32 155.54,144.92 155.54,144.62 155.54,144.31 155.55,143.99 155.55,143.67 155.55,143.34 155.55,143.00 155.56,142.66 155.56,142.31 155.56,141.96 155.57,141.60 155.57,141.23 155.57,140.85 155.58,140.47 155.58,140.07 155.58,139.67 155.58,139.26 155.59,138.84 155.59,138.41 155.59,137.97 155.60,137.52 155.60,137.21 155.60,136.90 155.60,136.58 155.60,136.26 155.61,135.93 155.61,135.59 155.61,135.25 155.61,134.91 155.61,134.55 155.62,134.19 155.62,133.82 155.62,133.45 155.62,133.07 155.62,132.68 155.63,132.28 155.63,131.87 155.63,131.45 155.63,131.03 155.63,130.59 155.64,130.15 155.64,129.69 155.64,129.22 155.64,128.76 155.80,128.76 155.80,129.17 155.81,129.64 155.81,130.10 155.81,130.56 155.81,131.00 155.81,131.43 155.82,131.85 155.82,132.26 155.82,132.67 155.82,133.06 155.82,133.45 155.83,133.83 155.83,134.21 155.83,134.57 155.83,134.93 155.83,135.28 155.84,135.63 155.84,135.97 155.84,136.30 155.84,136.63 155.84,136.95 155.85,137.27 155.85,137.58 155.85,137.88 155.85,138.19 155.85,138.63 155.86,139.06 155.86,139.49 155.86,139.90 155.87,140.30 155.87,140.70 155.87,141.09 155.88,141.47 155.88,141.84 155.88,142.20 155.88,142.56 155.89,142.91 155.89,143.26 155.89,143.60 155.90,143.93 155.90,144.25 155.90,144.57 155.91,144.89 155.91,145.19 155.91,145.50 155.92,145.89 155.92,146.28 155.92,146.66 155.93,147.03 155.93,147.40 155.94,147.75 155.94,148.10 155.94,148.45 155.95,148.78 155.95,149.11 155.96,149.43 155.96,149.75 155.96,150.06 155.97,150.36 155.97,150.74 155.98,151.10 155.98,151.46 155.99,151.81 155.99,152.15 156.00,152.49 156.00,152.81 156.01,153.13 156.01,153.45 156.02,153.76 156.02,154.06 156.03,154.41 156.03,154.76 156.04,155.10 156.05,155.43 156.05,155.75 156.06,156.06 156.06,156.37 156.07,156.67 156.08,157.02 156.08,157.35 156.09,157.68 156.10,158.00 156.11,158.31 156.11,158.61 156.12,158.95 156.13,159.28 156.14,159.59 156.14,159.90 156.15,160.20 156.16,160.53 156.17,160.85 156.18,161.16 156.19,161.49 156.20,161.82 156.21,162.12 156.22,162.45 156.23,162.77 156.24,163.07 156.25,163.39 156.27,163.70 156.28,164.01 156.29,164.33 156.31,164.64 156.32,164.95 156.34,165.26 156.36,165.56 156.37,165.86 156.39,166.17 156.42,166.47 156.44,166.77 156.47,167.07 156.51,167.37 156.58,167.66 156.61,167.70 156.70,167.41 156.74,167.11 156.77,166.81 156.80,166.51 156.82,166.20 156.84,165.89 156.86,165.58 156.87,165.27 156.89,164.97 156.90,164.65 156.92,164.33 156.93,164.02 156.94,163.72 156.96,163.40 156.97,163.09 156.98,162.77 156.99,162.47 157.00,162.16 157.01,161.83 157.02,161.52 157.03,161.21 157.03,160.88 157.04,160.55 157.05,160.24 157.06,159.92 157.07,159.59 157.08,159.25 157.08,158.94 157.09,158.62 157.10,158.30 157.10,157.97 157.11,157.62 157.12,157.32 157.12,157.01 157.13,156.70 157.13,156.37 157.14,156.04 157.15,155.70 157.15,155.35 157.16,154.99 157.16,154.69 157.17,154.38 157.17,154.06 157.18,153.73 157.18,153.39 157.19,153.05 157.19,152.70 157.20,152.34 157.20,151.98 157.21,151.68 157.21,151.37 157.22,151.06 157.22,150.74 157.22,150.42 157.23,150.08 157.23,149.75 157.24,149.40 157.24,149.05 157.24,148.69 157.25,148.32 157.25,147.94 157.26,147.55 157.26,147.16 157.26,146.86 157.27,146.55 157.27,146.23 157.27,145.91 157.27,145.59 157.28,145.26 157.28,144.92 157.28,144.57 157.29,144.22 157.29,143.86 157.29,143.50 157.30,143.12 157.30,142.74 157.30,142.35 157.30,141.95 157.31,141.54 157.31,141.13 157.31,140.70 157.32,140.26 157.32,139.81 157.32,139.51 157.32,139.20 157.33,138.88 157.33,138.56 157.33,138.23 157.33,137.90 157.33,137.56 157.34,137.21 157.34,136.86 157.34,136.70 157.55,136.70 157.55,137.17 157.56,137.52 157.56,137.86 157.56,138.20 157.56,138.53 157.56,138.86 157.57,139.18 157.57,139.50 157.57,139.81 157.57,140.11 157.57,140.42 157.58,140.86 157.58,141.29 157.58,141.71 157.59,142.12 157.59,142.53 157.59,142.92 157.60,143.31 157.60,143.68 157.60,144.06 157.60,144.42 157.61,144.77 157.61,145.12 157.61,145.46 157.62,145.80 157.62,146.13 157.62,146.45 157.63,146.77 157.63,147.08 157.63,147.39 157.63,147.69 157.64,148.08 157.64,148.47 157.65,148.84 157.65,149.21 157.65,149.57 157.66,149.92 157.66,150.27 157.67,150.60 157.67,150.93 157.67,151.26 157.68,151.58 157.68,151.89 157.69,152.19 157.69,152.57 157.70,152.93 157.70,153.29 157.71,153.64 157.71,153.98 157.72,154.31 157.72,154.64 157.73,154.96 157.73,155.27 157.74,155.58 157.74,155.93 157.75,156.28 157.75,156.62 157.76,156.95 157.77,157.28 157.77,157.59 157.78,157.90 157.78,158.20 157.79,158.55 157.80,158.88 157.81,159.20 157.81,159.52 157.82,159.82 157.83,160.16 157.84,160.49 157.84,160.81 157.85,161.12 157.86,161.46 157.87,161.78 157.88,162.10 157.89,162.40 157.90,162.72 157.91,163.03 157.92,163.36 157.93,163.68 157.94,164.00 157.95,164.31 157.97,164.63 157.98,164.93 157.99,165.23 158.01,165.54 158.02,165.84 158.04,166.15 158.06,166.46 158.09,166.77 158.11,167.07 158.15,167.38 158.21,167.67 158.24,167.70 158.32,167.41 158.36,167.10 158.38,166.80 158.41,166.49 158.43,166.17 158.44,165.86 158.46,165.55 158.48,165.24 158.49,164.92 158.50,164.61 158.51,164.31 158.53,163.98 158.54,163.67 158.55,163.34 158.56,163.03 158.57,162.70 158.58,162.40 158.59,162.08 158.60,161.75 158.60,161.45 158.61,161.13 158.62,160.80 158.63,160.47 158.63,160.16 158.64,159.85 158.65,159.52 158.66,159.19 158.66,158.85 158.67,158.54 158.67,158.23 158.68,157.91 158.69,157.59 158.69,157.25 158.70,156.90 158.70,156.55 158.71,156.24 158.71,155.93 158.72,155.61 158.72,155.29 158.73,154.95 158.73,154.61 158.74,154.26 158.74,153.90 158.75,153.53 158.75,153.23 158.76,152.93 158.76,152.61 158.77,152.29 158.77,151.96 158.77,151.63 158.78,151.29 158.78,150.94 158.79,150.58 158.79,150.21 158.79,149.84 158.80,149.46 158.80,149.07 158.80,148.77 158.81,148.46 158.81,148.15 158.81,147.83 158.82,147.51 158.82,147.18 158.82,146.84 158.83,146.50 158.83,146.15 158.83,145.79 158.83,145.42 158.84,145.05 158.84,144.67 158.84,144.28 158.85,143.88 158.85,143.47 158.85,143.06 158.86,142.63 158.86,142.19 158.86,141.74 158.86,141.44 158.87,141.13 158.87,140.81 158.87,140.49 158.87,140.16 158.87,139.83 158.88,139.49 158.88,139.14 158.88,138.79 158.88,138.43 158.88,138.07 158.89,137.69 158.89,137.31 158.89,136.92 158.89,136.52 158.89,136.18 159.08,136.18 159.08,136.65 159.08,137.05 159.09,137.44 159.09,137.82 159.09,138.20 159.09,138.57 159.09,138.93 159.10,139.29 159.10,139.64 159.10,139.98 159.10,140.31 159.10,140.64 159.11,140.97 159.11,141.29 159.11,141.60 159.11,141.91 159.11,142.21 159.12,142.66 159.12,143.09 159.12,143.51 159.13,143.93 159.13,144.33 159.13,144.73 159.14,145.12 159.14,145.50 159.14,145.87 159.14,146.23 159.15,146.59 159.15,146.94 159.15,147.28 159.16,147.61 159.16,147.94 159.16,148.27 159.17,148.58 159.17,148.89 159.17,149.20 159.17,149.50 159.18,149.89 159.18,150.27 159.19,150.65 159.19,151.01 159.19,151.37 159.20,151.72 159.20,152.06 159.21,152.40 159.21,152.73 159.21,153.05 159.22,153.36 159.22,153.67 159.23,153.97 159.23,154.34 159.24,154.70 159.24,155.06 159.25,155.40 159.25,155.73 159.26,156.06 159.26,156.38 159.27,156.69 159.27,157.00 159.28,157.36 159.28,157.70 159.29,158.04 159.30,158.37 159.30,158.69 159.31,159.00 159.31,159.31 159.32,159.65 159.33,159.99 159.33,160.31 159.34,160.63 159.35,160.93 159.36,161.27 159.36,161.60 159.37,161.91 159.38,162.22 159.39,162.55 159.40,162.87 159.41,163.17 159.42,163.49 159.43,163.80 159.44,164.13 159.45,164.44 159.46,164.76 159.47,165.08 159.49,165.38 159.50,165.68 159.52,166.00 159.53,166.31 159.55,166.61 159.58,166.92 159.60,167.22 159.64,167.52 159.70,167.70 159.78,167.40 159.81,167.10 159.83,166.80 159.85,166.49 159.87,166.18 159.89,165.87 159.90,165.55 159.92,165.23 159.93,164.91 159.94,164.59 159.95,164.28 159.96,163.95 159.97,163.63 159.98,163.30 159.99,162.99 160.00,162.67 160.01,162.36 160.02,162.05 160.03,161.73 160.03,161.39 160.04,161.08 160.05,160.77 160.06,160.44 160.06,160.10 160.07,159.76 160.08,159.45 160.08,159.13 160.09,158.80 160.09,158.47 160.10,158.12 160.11,157.77 160.11,157.46 160.12,157.15 160.12,156.83 160.13,156.50 160.13,156.17 160.14,155.82 160.14,155.47 160.15,155.10 160.15,154.73 160.15,154.42 160.16,154.11 160.16,153.79 160.17,153.47 160.17,153.13 160.17,152.79 160.18,152.44 160.18,152.08 160.19,151.72 160.19,151.34 160.19,150.96 160.20,150.57 160.20,150.26 160.20,149.96 160.21,149.64 160.21,149.32 160.21,149.00 160.22,148.67 160.22,148.33 160.22,147.98 160.23,147.63 160.23,147.26 160.23,146.90 160.23,146.52 160.24,146.13 160.24,145.74 160.24,145.34 160.25,144.92 160.25,144.50 160.25,144.07 160.26,143.62 160.26,143.32 160.26,143.01 160.26,142.70 160.26,142.38 160.27,142.05 160.27,141.72 160.27,141.39 160.27,141.04 160.27,140.69 160.28,140.34 160.28,139.97 160.28,139.60 160.28,139.22 160.28,138.83 160.29,138.44 160.29,138.04 160.29,137.62 160.29,137.20 160.29,136.77 160.29,136.73 160.47,136.73 160.47,137.14 160.47,137.57 160.47,137.99 160.48,138.40 160.48,138.80 160.48,139.19 160.48,139.58 160.48,139.95 160.49,140.32 160.49,140.68 160.49,141.04 160.49,141.39 160.49,141.73 160.50,142.07 160.50,142.40 160.50,142.72 160.50,143.04 160.50,143.35 160.51,143.66 160.51,143.96 160.51,144.40 160.51,144.84 160.52,145.26 160.52,145.67 160.52,146.08 160.53,146.47 160.53,146.86 160.53,147.23 160.54,147.60 160.54,147.96 160.54,148.32 160.54,148.67 160.55,149.01 160.55,149.34 160.55,149.67 160.56,149.99 160.56,150.30 160.56,150.61 160.57,150.91 160.57,151.31 160.57,151.69 160.58,152.07 160.58,152.44 160.59,152.80 160.59,153.15 160.59,153.49 160.60,153.83 160.60,154.15 160.61,154.47 160.61,154.79 160.61,155.10 160.62,155.40 160.62,155.77 160.63,156.12 160.63,156.47 160.64,156.81 160.64,157.15 160.65,157.47 160.65,157.78 160.66,158.09 160.66,158.39 160.67,158.74 160.67,159.09 160.68,159.42 160.69,159.74 160.69,160.05 160.70,160.36 160.71,160.70 160.71,161.03 160.72,161.35 160.73,161.66 160.73,161.97 160.74,162.30 160.75,162.62 160.76,162.92 160.77,163.25 160.78,163.57 160.78,163.87 160.79,164.19 160.80,164.50 160.82,164.81 160.83,165.14 160.84,165.44 160.85,165.74 160.87,166.04 160.88,166.35 160.90,166.66 160.92,166.97 160.95,167.28 160.99,167.58 161.03,167.70 161.10,167.41 161.13,167.10 161.15,166.80 161.17,166.48 161.19,166.18 161.20,165.86 161.22,165.56 161.23,165.26 161.24,164.94 161.25,164.62 161.26,164.31 161.27,163.99 161.28,163.68 161.29,163.36 161.30,163.06 161.31,162.74 161.31,162.42 161.32,162.08 161.33,161.77 161.34,161.45 161.34,161.11 161.35,160.77 161.36,160.46 161.36,160.15 161.37,159.82 161.37,159.49 161.38,159.14 161.39,158.79 161.39,158.48 161.40,158.17 161.40,157.85 161.41,157.51 161.41,157.17 161.42,156.83 161.42,156.47 161.43,156.10 161.43,155.79 161.43,155.49 161.44,155.17 161.44,154.84 161.45,154.51 161.45,154.17 161.45,153.83 161.46,153.47 161.46,153.10 161.47,152.73 161.47,152.35 161.47,151.95 161.48,151.65 161.48,151.34 161.48,151.03 161.49,150.71 161.49,150.38 161.49,150.05 161.49,149.71 161.50,149.36 161.50,149.01 161.50,148.64 161.51,148.27 161.51,147.89 161.51,147.50 161.52,147.11 161.52,146.70 161.52,146.28 161.52,145.85 161.53,145.42 161.53,144.97 161.53,144.66 161.53,144.35 161.54,144.03 161.54,143.71 161.54,143.38 161.54,143.04 161.54,142.70 161.55,142.35 161.55,142.00 161.55,141.64 161.55,141.27 161.55,140.89 161.56,140.50 161.56,140.11 161.56,139.71 161.56,139.30 161.56,138.97 161.74,138.97 161.75,139.45 161.75,139.86 161.75,140.27 161.75,140.66 161.75,141.05 161.76,141.43 161.76,141.80 161.76,142.17 161.76,142.52 161.76,142.87 161.77,143.22 161.77,143.55 161.77,143.89 161.77,144.21 161.77,144.53 161.78,144.84 161.78,145.15 161.78,145.45 161.78,145.90 161.79,146.33 161.79,146.76 161.79,147.17 161.80,147.57 161.80,147.97 161.80,148.35 161.80,148.73 161.81,149.10 161.81,149.46 161.81,149.81 161.82,150.16 161.82,150.50 161.82,150.83 161.83,151.15 161.83,151.47 161.83,151.79 161.83,152.09 161.84,152.39 161.84,152.79 161.85,153.17 161.85,153.54 161.85,153.91 161.86,154.26 161.86,154.61 161.87,154.95 161.87,155.28 161.87,155.60 161.88,155.92 161.88,156.23 161.89,156.53 161.89,156.90 161.90,157.26 161.90,157.61 161.91,157.95 161.91,158.28 161.92,158.60 161.92,158.91 161.93,159.22 161.93,159.58 161.94,159.92 161.94,160.25 161.95,160.58 161.96,160.89 161.96,161.20 161.97,161.54 161.98,161.87 161.98,162.19 161.99,162.50 162.00,162.84 162.01,163.16 162.01,163.47 162.02,163.81 162.03,164.12 162.04,164.43 162.05,164.74 162.06,165.07 162.07,165.38 162.08,165.69 162.10,165.99 162.11,166.30 162.13,166.60 162.15,166.92 162.17,167.22 162.20,167.52 162.25,167.70 162.32,167.40 162.34,167.10 162.36,166.78 162.38,166.48 162.40,166.17 162.41,165.85 162.42,165.54 162.43,165.24 162.44,164.92 162.45,164.60 162.46,164.30 162.47,163.98 162.48,163.65 162.49,163.34 162.50,163.01 162.51,162.66 162.51,162.35 162.52,162.03 162.53,161.69 162.53,161.39 162.54,161.08 162.54,160.76 162.55,160.42 162.56,160.08 162.56,159.72 162.57,159.42 162.57,159.10 162.58,158.78 162.58,158.45 162.59,158.11 162.59,157.76 162.60,157.39 162.60,157.02 162.61,156.71 162.61,156.40 162.61,156.08 162.62,155.75 162.62,155.41 162.63,155.07 162.63,154.71 162.63,154.35 162.64,153.98 162.64,153.59 162.65,153.20 162.65,152.90 162.65,152.59 162.66,152.28 162.66,151.96 162.66,151.63 162.66,151.30 162.67,150.95 162.67,150.61 162.67,150.25 162.68,149.88 162.68,149.51 162.68,149.13 162.69,148.74 162.69,148.34 162.69,147.93 162.69,147.51 162.70,147.07 162.70,146.63 162.70,146.33 162.70,146.02 162.71,145.71 162.71,145.39 162.71,145.07 162.71,144.74 162.71,144.40 162.72,144.06 162.72,143.71 162.72,143.35 162.72,142.99 162.72,142.61 162.73,142.23 162.73,141.85 162.73,141.45 162.73,141.05 162.73,140.63 162.74,140.21 162.74,139.77 162.74,139.33 162.74,138.87 162.74,138.84 162.91,138.84 162.91,139.23 162.91,139.68 162.91,140.12 162.92,140.55 162.92,140.97 162.92,141.39 162.92,141.79 162.92,142.18 162.93,142.57 162.93,142.95 162.93,143.32 162.93,143.68 162.93,144.04 162.94,144.38 162.94,144.73 162.94,145.06 162.94,145.39 162.94,145.71 162.95,146.03 162.95,146.34 162.95,146.65 162.95,146.95 162.95,147.39 162.96,147.82 162.96,148.24 162.96,148.66 162.97,149.06 162.97,149.45 162.97,149.83 162.98,150.20 162.98,150.57 162.98,150.93 162.98,151.28 162.99,151.62 162.99,151.95 162.99,152.28 163.00,152.60 163.00,152.92 163.00,153.23 163.01,153.53 163.01,153.92 163.01,154.31 163.02,154.68 163.02,155.04 163.03,155.40 163.03,155.75 163.03,156.09 163.04,156.42 163.04,156.74 163.05,157.05 163.05,157.36 163.05,157.66 163.06,158.03 163.06,158.38 163.07,158.73 163.07,159.06 163.08,159.39 163.08,159.71 163.09,160.01 163.09,160.37 163.10,160.72 163.11,161.05 163.11,161.38 163.12,161.69 163.12,161.99 163.13,162.33 163.14,162.66 163.15,162.98 163.15,163.28 163.16,163.61 163.17,163.92 163.18,164.26 163.19,164.58 163.20,164.88 163.21,165.19 163.22,165.51 163.23,165.83 163.24,166.15 163.26,166.46 163.27,166.77 163.29,167.07 163.32,167.38 163.36,167.68 163.38,167.70 163.44,167.40 163.46,167.10 163.48,166.79 163.50,166.48 163.51,166.17 163.52,165.85 163.54,165.52 163.55,165.20 163.56,164.88 163.57,164.57 163.58,164.24 163.58,163.93 163.59,163.61 163.60,163.27 163.61,162.96 163.61,162.63 163.62,162.29 163.63,161.99 163.63,161.68 163.64,161.35 163.64,161.01 163.65,160.66 163.66,160.36 163.66,160.05 163.67,159.73 163.67,159.41 163.68,159.07 163.68,158.72 163.69,158.36 163.69,157.98 163.69,157.68 163.70,157.36 163.70,157.04 163.71,156.71 163.71,156.37 163.71,156.03 163.72,155.67 163.72,155.30 163.73,154.93 163.73,154.54 163.73,154.14 163.74,153.84 163.74,153.53 163.74,153.21 163.75,152.89 163.75,152.55 163.75,152.21 163.76,151.87 163.76,151.51 163.76,151.15 163.76,150.78 163.77,150.39 163.77,150.00 163.77,149.60 163.78,149.19 163.78,148.77 163.78,148.34 163.79,147.90 163.79,147.60 163.79,147.29 163.79,146.98 163.79,146.66 163.80,146.34 163.80,146.01 163.80,145.67 163.80,145.32 163.80,144.97 163.81,144.61 163.81,144.25 163.81,143.88 163.81,143.49 163.81,143.11 163.82,142.71 163.82,142.30 163.82,141.88 163.82,141.46 163.82,141.02 163.83,140.57 163.83,140.11 163.83,139.64 163.83,139.16 163.83,138.66 163.83,138.61 163.98,138.61 163.99,138.92 163.99,139.41 163.99,139.90 163.99,140.37 163.99,140.82 164.00,141.27 164.00,141.71 164.00,142.13 164.00,142.55 164.00,142.96 164.01,143.35 164.01,143.74 164.01,144.12 164.01,144.50 164.01,144.86 164.02,145.22 164.02,145.57 164.02,145.92 164.02,146.25 164.02,146.59 164.03,146.91 164.03,147.23 164.03,147.54 164.03,147.85 164.03,148.15 164.04,148.60 164.04,149.03 164.04,149.45 164.05,149.86 164.05,150.26 164.05,150.65 164.06,151.04 164.06,151.41 164.06,151.77 164.06,152.13 164.07,152.48 164.07,152.82 164.07,153.15 164.08,153.48 164.08,153.80 164.08,154.11 164.09,154.42 164.09,154.72 164.09,155.11 164.10,155.49 164.10,155.86 164.10,156.22 164.11,156.57 164.11,156.92 164.12,157.25 164.12,157.58 164.12,157.89 164.13,158.20 164.13,158.51 164.14,158.87 164.14,159.23 164.15,159.57 164.15,159.91 164.16,160.23 164.16,160.55 164.17,160.86 164.17,161.21 164.18,161.55 164.19,161.88 164.19,162.20 164.20,162.51 164.20,162.85 164.21,163.18 164.22,163.50 164.23,163.80 164.23,164.12 164.24,164.44 164.25,164.77 164.26,165.08 164.27,165.40 164.28,165.73 164.29,166.03 164.30,166.35 164.32,166.65 164.34,166.97 164.36,167.28 164.39,167.58 164.42,167.70 164.48,167.40 164.50,167.09 164.52,166.78 164.54,166.47 164.55,166.16 164.56,165.83 164.57,165.51 164.58,165.19 164.59,164.88 164.60,164.55 164.61,164.24 164.62,163.91 164.62,163.60 164.63,163.28 164.64,162.95 164.64,162.60 164.65,162.28 164.66,161.96 164.66,161.62 164.67,161.27 164.67,160.97 164.68,160.65 164.68,160.33 164.69,160.00 164.69,159.65 164.70,159.29 164.70,158.93 164.71,158.62 164.71,158.31 164.71,157.99 164.72,157.66 164.72,157.33 164.73,156.98 164.73,156.62 164.73,156.26 164.74,155.88 164.74,155.50 164.75,155.10 164.75,154.79 164.75,154.48 164.76,154.16 164.76,153.83 164.76,153.50 164.76,153.16 164.77,152.81 164.77,152.45 164.77,152.08 164.78,151.70 164.78,151.32 164.78,150.92 164.79,150.52 164.79,150.10 164.79,149.68 164.79,149.24 164.80,148.79 164.80,148.48 164.80,148.17 164.80,147.85 164.81,147.53 164.81,147.20 164.81,146.86 164.81,146.52 164.81,146.16 164.82,145.81 164.82,145.44 164.82,145.07 164.82,144.68 164.82,144.29 164.83,143.89 164.83,143.48 164.83,143.07 164.83,142.64 164.83,142.20 164.84,141.75 164.84,141.29 164.84,140.82 164.84,140.33 164.84,139.83 164.85,139.32 164.85,138.79 164.85,138.25 164.85,137.69 164.85,137.65 164.99,137.65 164.99,138.02 164.99,138.57 164.99,139.11 164.99,139.64 165.00,140.15 165.00,140.64 165.00,141.12 165.00,141.59 165.00,142.05 165.01,142.50 165.01,142.94 165.01,143.36 165.01,143.78 165.01,144.19 165.02,144.58 165.02,144.97 165.02,145.36 165.02,145.73 165.02,146.09 165.03,146.45 165.03,146.80 165.03,147.15 165.03,147.48 165.03,147.81 165.04,148.14 165.04,148.45 165.04,148.77 165.04,149.07 165.04,149.37 165.05,149.82 165.05,150.25 165.05,150.67 165.06,151.07 165.06,151.47 165.06,151.86 165.06,152.24 165.07,152.61 165.07,152.97 165.07,153.33 165.08,153.67 165.08,154.01 165.08,154.34 165.09,154.66 165.09,154.98 165.09,155.29 165.09,155.59 165.10,155.98 165.10,156.37 165.11,156.74 165.11,157.10 165.11,157.45 165.12,157.80 165.12,158.13 165.13,158.46 165.13,158.77 165.13,159.08 165.14,159.38 165.14,159.74 165.15,160.10 165.15,160.44 165.16,160.77 165.16,161.09 165.17,161.40 165.17,161.76 165.18,162.10 165.19,162.43 165.19,162.75 165.20,163.06 165.21,163.40 165.21,163.73 165.22,164.04 165.23,164.37 165.24,164.69 165.24,164.99 165.25,165.31 165.26,165.64 165.27,165.96 165.29,166.29 165.30,166.60 165.31,166.91 165.33,167.21 165.36,167.52 165.40,167.70 165.45,167.40 165.47,167.09 165.49,166.77 165.50,166.46 165.52,166.15 165.53,165.83 165.54,165.52 165.55,165.21 165.56,164.88 165.56,164.57 165.57,164.23 165.58,163.92 165.59,163.60 165.59,163.26 165.60,162.95 165.60,162.63 165.61,162.30 165.62,161.95 165.62,161.65 165.63,161.34 165.63,161.02 165.64,160.68 165.64,160.34 165.65,159.98 165.65,159.61 165.66,159.31 165.66,158.99 165.66,158.67 165.67,158.34 165.67,158.00 165.68,157.65 165.68,157.29 165.68,156.92 165.69,156.54 165.69,156.14 165.69,155.84 165.70,155.53 165.70,155.21 165.70,154.89 165.71,154.56 165.71,154.22 165.71,153.87 165.72,153.51 165.72,153.15 165.72,152.77 165.72,152.39 165.73,151.99 165.73,151.59 165.73,151.18 165.74,150.75 165.74,150.31 165.74,149.86 165.74,149.56 165.75,149.25 165.75,148.93 165.75,148.60 165.75,148.27 165.75,147.93 165.76,147.59 165.76,147.24 165.76,146.88 165.76,146.51 165.76,146.13 165.77,145.75 165.77,145.36 165.77,144.96 165.77,144.61 165.95,144.61 165.96,144.96 165.96,145.36 165.96,145.76 165.96,146.15 165.96,146.53 165.97,146.90 165.97,147.26 165.97,147.62 165.97,147.97 165.97,148.31 165.98,148.65 165.98,148.98 165.98,149.30 165.98,149.62 165.98,149.93 165.99,150.23 165.99,150.68 165.99,151.11 165.99,151.54 166.00,151.95 166.00,152.35 166.00,152.74 166.01,153.13 166.01,153.50 166.01,153.86 166.02,154.22 166.02,154.56 166.02,154.90 166.02,155.23 166.03,155.56 166.03,155.87 166.03,156.18 166.04,156.49 166.04,156.88 166.04,157.26 166.05,157.63 166.05,157.99 166.06,158.34 166.06,158.68 166.06,159.01 166.07,159.33 166.07,159.65 166.08,159.95 166.08,160.32 166.09,160.67 166.09,161.02 166.10,161.35 166.10,161.67 166.11,161.98 166.11,162.34 166.12,162.68 166.12,163.01 166.13,163.33 166.14,163.63 166.14,163.96 166.15,164.28 166.16,164.58 166.17,164.91 166.17,165.21 166.18,165.53 166.19,165.86 166.20,166.19 166.22,166.51 166.23,166.81 166.24,167.11 166.27,167.42 166.31,167.70 166.36,167.40 166.38,167.09 166.40,166.77 166.41,166.46 166.42,166.13 166.43,165.83 166.44,165.53 166.45,165.20 166.46,164.89 166.47,164.55 166.48,164.24 166.48,163.92 166.49,163.57 166.50,163.26 166.50,162.93 166.51,162.59 166.51,162.23 166.52,161.92 166.52,161.60 166.53,161.27 166.53,160.92 166.54,160.57 166.54,160.19 166.55,159.89 166.55,159.57 166.56,159.25 166.56,158.91 166.56,158.57 166.57,158.21 166.57,157.84 166.58,157.47 166.58,157.08 166.58,156.78 166.59,156.47 166.59,156.15 166.59,155.83 166.59,155.50 166.60,155.16 166.60,154.82 166.60,154.46 166.61,154.10 166.61,153.73 166.61,153.34 166.62,152.95 166.62,152.55 166.62,152.13 166.62,151.71 166.63,151.27 166.63,150.82 166.63,150.51 166.63,150.20 166.64,149.88 166.64,149.55 166.64,149.22 166.64,148.88 166.64,148.53 166.65,148.18 166.65,147.82 166.65,147.45 166.65,147.07 166.65,146.69 166.66,146.29 166.66,145.89 166.66,145.47 166.66,145.05 166.66,144.61 166.67,144.17 166.67,143.71 166.67,143.24 166.67,142.76 166.67,142.27 166.68,142.15 166.82,142.15 166.83,142.49 166.83,142.99 166.83,143.47 166.83,143.94 166.83,144.39 166.84,144.84 166.84,145.27 166.84,145.69 166.84,146.11 166.84,146.51 166.85,146.91 166.85,147.29 166.85,147.67 166.85,148.04 166.85,148.40 166.86,148.76 166.86,149.10 166.86,149.44 166.86,149.78 166.86,150.10 166.87,150.42 166.87,150.74 166.87,151.05 166.87,151.35 166.88,151.79 166.88,152.22 166.88,152.64 166.88,153.05 166.89,153.45 166.89,153.83 166.89,154.21 166.90,154.58 166.90,154.94 166.90,155.29 166.91,155.63 166.91,155.97 166.91,156.29 166.91,156.61 166.92,156.92 166.92,157.22 166.92,157.62 166.93,158.00 166.93,158.37 166.94,158.73 166.94,159.08 166.94,159.42 166.95,159.75 166.95,160.07 166.96,160.38 166.96,160.68 166.97,161.04 166.97,161.40 166.98,161.73 166.98,162.06 166.99,162.37 166.99,162.68 167.00,163.03 167.00,163.36 167.01,163.68 167.01,163.98 167.02,164.32 167.03,164.64 167.04,164.94 167.04,165.26 167.05,165.59 167.06,165.90 167.07,166.21 167.08,166.52 167.10,166.83 167.11,167.13 167.13,167.43 167.17,167.70 167.22,167.40 167.24,167.09 167.26,166.77 167.27,166.47 167.28,166.15 167.29,165.83 167.30,165.51 167.31,165.20 167.31,164.87 167.32,164.56 167.33,164.23 167.33,163.88 167.34,163.56 167.35,163.23 167.35,162.88 167.36,162.58 167.36,162.26 167.37,161.94 167.37,161.60 167.38,161.24 167.38,160.88 167.39,160.57 167.39,160.26 167.39,159.94 167.40,159.60 167.40,159.26 167.41,158.90 167.41,158.54 167.41,158.16 167.42,157.77 167.42,157.47 167.42,157.16 167.43,156.84 167.43,156.52 167.43,156.19 167.44,155.84 167.44,155.50 167.44,155.14 167.45,154.77 167.45,154.39 167.45,154.00 167.45,153.61 167.46,153.20 167.46,152.78 167.46,152.34 167.47,151.90 167.47,151.59 167.47,151.28 167.47,150.97 167.47,150.64 167.48,150.31 167.48,149.98 167.48,149.64 167.48,149.28 167.48,148.93 167.49,148.56 167.49,148.19 167.49,147.80 167.49,147.41 167.49,147.01 167.50,146.60 167.50,146.18 167.50,145.75 167.50,145.30 167.50,144.85 167.51,144.39 167.51,143.91 167.51,143.42 167.51,142.91 167.51,142.47 167.66,142.47 167.66,143.01 167.66,143.52 167.66,144.01 167.67,144.49 167.67,144.96 167.67,145.42 167.67,145.86 167.67,146.29 167.68,146.72 167.68,147.13 167.68,147.53 167.68,147.93 167.68,148.31 167.69,148.69 167.69,149.06 167.69,149.42 167.69,149.77 167.69,150.12 167.70,150.46 167.70,150.79 167.70,151.11 167.70,151.43 167.70,151.74 167.71,152.05 167.71,152.35 167.71,152.79 167.71,153.22 167.72,153.63 167.72,154.04 167.72,154.43 167.73,154.81 167.73,155.19 167.73,155.55 167.74,155.91 167.74,156.25 167.74,156.59 167.74,156.92 167.75,157.24 167.75,157.55 167.75,157.86 167.76,158.26 167.76,158.64 167.77,159.01 167.77,159.37 167.77,159.72 167.78,160.06 167.78,160.39 167.79,160.71 167.79,161.02 167.79,161.39 167.80,161.75 167.80,162.09 167.81,162.42 167.81,162.74 167.82,163.05 167.83,163.40 167.83,163.73 167.84,164.05 167.84,164.35 167.85,164.69 167.86,165.00 167.87,165.33 167.87,165.64 167.88,165.97 167.89,166.29 167.90,166.60 167.92,166.92 167.93,167.23 167.95,167.53 167.99,167.70 168.03,167.40 168.05,167.10 168.06,166.79 168.08,166.47 168.09,166.16 168.09,165.86 168.10,165.52 168.11,165.20 168.12,164.89 168.13,164.56 168.13,164.22 168.14,163.90 168.14,163.57 168.15,163.22 168.16,162.91 168.16,162.59 168.17,162.26 168.17,161.91 168.18,161.55 168.18,161.17 168.18,160.86 168.19,160.54 168.19,160.21 168.20,159.86 168.20,159.51 168.20,159.14 168.21,158.76 168.21,158.37 168.22,158.07 168.22,157.76 168.22,157.44 168.22,157.11 168.23,156.78 168.23,156.43 168.23,156.08 168.24,155.72 168.24,155.34 168.24,154.96 168.25,154.57 168.25,154.16 168.25,153.75 168.25,153.32 168.26,152.88 168.26,152.58 168.26,152.27 168.26,151.95 168.27,151.63 168.27,151.31 168.27,150.97 168.27,150.63 168.27,150.28 168.28,149.93 168.28,149.57 168.28,149.19 168.28,148.81 168.28,148.42 168.29,148.02 168.29,147.62 168.29,147.20 168.29,146.79 168.46,146.79 168.46,147.09 168.47,147.52 168.47,147.93 168.47,148.34 168.47,148.73 168.47,149.12 168.48,149.50 168.48,149.87 168.48,150.23 168.48,150.59 168.48,150.93 168.49,151.27 168.49,151.61 168.49,151.93 168.49,152.25 168.49,152.56 168.50,152.87 168.50,153.17 168.50,153.61 168.50,154.04 168.51,154.45 168.51,154.86 168.51,155.25 168.52,155.63 168.52,156.00 168.52,156.37 168.53,156.72 168.53,157.06 168.53,157.40 168.53,157.72 168.54,158.04 168.54,158.35 168.54,158.65 168.55,159.05 168.55,159.43 168.56,159.79 168.56,160.15 168.56,160.49 168.57,160.82 168.57,161.14 168.58,161.45 168.58,161.75 168.58,162.12 168.59,162.46 168.59,162.80 168.60,163.12 168.60,163.42 168.61,163.78 168.62,164.11 168.62,164.42 168.63,164.77 168.64,165.10 168.64,165.40 168.65,165.72 168.66,166.05 168.67,166.38 168.68,166.70 168.69,167.01 168.71,167.32 168.74,167.62 168.76,167.70 168.80,167.40 168.82,167.10 168.83,166.79 168.84,166.49 168.85,166.17 168.86,165.85 168.87,165.53 168.88,165.19 168.88,164.87 168.89,164.52 168.90,164.20 168.90,163.87 168.91,163.52 168.91,163.21 168.92,162.88 168.92,162.55 168.93,162.19 168.93,161.83 168.94,161.52 168.94,161.20 168.94,160.88 168.95,160.54 168.95,160.19 168.96,159.82 168.96,159.45 168.96,159.06 168.97,158.76 168.97,158.45 168.97,158.13 168.98,157.80 168.98,157.47 168.98,157.13 168.99,156.77 168.99,156.41 168.99,156.04 168.99,155.65 169.00,155.26 169.00,154.85 169.00,154.44 169.01,154.01 169.01,153.56 169.01,153.26 169.01,152.95 169.02,152.63 169.02,152.31 169.02,151.98 169.02,151.64 169.02,151.30 169.03,150.95 169.03,150.59 169.03,150.22 169.03,150.04 169.22,150.04 169.23,150.36 169.23,150.73 169.23,151.09 169.23,151.45 169.23,151.79 169.24,152.13 169.24,152.46 169.24,152.79 169.24,153.11 169.24,153.42 169.25,153.72 169.25,154.17 169.25,154.60 169.26,155.02 169.26,155.43 169.26,155.83 169.26,156.21 169.27,156.59 169.27,156.95 169.27,157.31 169.28,157.65 169.28,157.99 169.28,158.32 169.29,158.64 169.29,158.95 169.29,159.25 169.30,159.64 169.30,160.02 169.30,160.38 169.31,160.74 169.31,161.08 169.32,161.41 169.32,161.72 169.32,162.03 169.33,162.40 169.33,162.75 169.34,163.09 169.34,163.41 169.35,163.72 169.35,164.08 169.36,164.41 169.37,164.72 169.37,165.07 169.38,165.39 169.39,165.73 169.40,166.04 169.41,166.35 169.42,166.66 169.43,166.97 169.44,167.29 169.46,167.58 169.49,167.70 169.53,167.39 169.55,167.07 169.56,166.74 169.57,166.41 169.58,166.10 169.59,165.80 169.60,165.46 169.60,165.14 169.61,164.80 169.62,164.48 169.62,164.14 169.63,163.79 169.63,163.48 169.64,163.15 169.64,162.81 169.65,162.45 169.65,162.07 169.66,161.76 169.66,161.44 169.66,161.10 169.67,160.75 169.67,160.39 169.68,160.02 169.68,159.63 169.68,159.33 169.69,159.02 169.69,158.70 169.69,158.38 169.70,158.04 169.70,157.70 169.70,157.34 169.70,156.98 169.71,156.60 169.71,156.21 169.71,155.82 169.72,155.41 169.72,154.98 169.72,154.55 169.73,154.10 169.73,153.79 169.73,153.48 169.73,153.16 169.73,152.83 169.74,152.50 169.74,152.15 169.74,151.80 169.74,151.45 169.74,151.08 169.75,150.71 169.75,150.32 169.75,149.93 169.75,149.53 169.75,149.11 169.76,148.69 169.76,148.25 169.76,147.81 169.76,147.35 169.76,146.88 169.77,146.39 169.77,145.90 169.77,145.38 169.77,144.85 169.77,144.31 169.78,143.75 169.78,143.17 169.78,142.57 169.78,142.26 169.78,141.95 169.78,141.87 169.90,141.87 169.90,142.17 169.90,142.49 169.90,142.79 169.91,143.09 169.91,143.68 169.91,144.25 169.91,144.80 169.91,145.34 169.92,145.86 169.92,146.36 169.92,146.85 169.92,147.33 169.92,147.79 169.93,148.24 169.93,148.68 169.93,149.11 169.93,149.53 169.93,149.94 169.94,150.34 169.94,150.73 169.94,151.10 169.94,151.48 169.94,151.84 169.95,152.19 169.95,152.54 169.95,152.88 169.95,153.21 169.95,153.53 169.96,153.85 169.96,154.16 169.96,154.46 169.96,154.91 169.97,155.34 169.97,155.76 169.97,156.17 169.97,156.56 169.98,156.95 169.98,157.32 169.98,157.68 169.99,158.03 169.99,158.37 169.99,158.71 170.00,159.03 170.00,159.35 170.00,159.65 170.01,160.05 170.01,160.43 170.01,160.80 170.02,161.15 170.02,161.50 170.03,161.83 170.03,162.14 170.03,162.45 170.04,162.82 170.04,163.17 170.05,163.50 170.05,163.82 170.06,164.13 170.06,164.48 170.07,164.80 170.08,165.11 170.08,165.44 170.09,165.75 170.10,166.07 170.11,166.39 170.12,166.71 170.13,167.03 170.14,167.34 170.17,167.64 170.19,167.70 170.22,167.39 170.24,167.07 170.25,166.76 170.26,166.45 170.27,166.13 170.28,165.81 170.29,165.50 170.29,165.17 170.30,164.86 170.31,164.53 170.31,164.19 170.32,163.88 170.32,163.56 170.33,163.22 170.33,162.86 170.34,162.49 170.34,162.17 170.34,161.85 170.35,161.51 170.35,161.16 170.36,160.80 170.36,160.42 170.36,160.03 170.37,159.73 170.37,159.42 170.37,159.10 170.38,158.76 170.38,158.42 170.38,158.07 170.39,157.71 170.39,157.34 170.39,156.96 170.39,156.57 170.40,156.16 170.40,155.74 170.40,155.31 170.41,154.86 170.41,154.56 170.41,154.24 170.41,153.92 170.41,153.60 170.42,153.27 170.42,152.92 170.42,152.58 170.42,152.22 170.42,151.85 170.43,151.48 170.43,151.10 170.43,150.70 170.43,150.30 170.43,149.89 170.44,149.46 170.44,149.03 170.44,148.58 170.44,148.49 170.60,148.49 170.61,148.97 170.61,149.42 170.61,149.85 170.61,150.26 170.61,150.67 170.62,151.07 170.62,151.46 170.62,151.84 170.62,152.21 170.62,152.57 170.63,152.93 170.63,153.27 170.63,153.61 170.63,153.94 170.63,154.26 170.64,154.58 170.64,154.89 170.64,155.19 170.64,155.64 170.65,156.06 170.65,156.48 170.65,156.88 170.65,157.28 170.66,157.66 170.66,158.03 170.66,158.38 170.67,158.73 170.67,159.07 170.67,159.40 170.68,159.72 170.68,160.03 170.68,160.33 170.69,160.72 170.69,161.09 170.69,161.45 170.70,161.80 170.70,162.13 170.71,162.46 170.71,162.76 170.71,163.13 170.72,163.49 170.72,163.82 170.73,164.14 170.73,164.44 170.74,164.79 170.75,165.11 170.75,165.45 170.76,165.77 170.77,166.11 170.78,166.44 170.79,166.76 170.80,167.09 170.81,167.39 170.85,167.69 170.85,167.70 170.89,167.40 170.90,167.09 170.91,166.77 170.92,166.44 170.93,166.10 170.94,165.76 170.95,165.44 170.95,165.13 170.96,164.81 170.97,164.47 170.97,164.16 170.98,163.84 170.98,163.50 170.99,163.14 170.99,162.84 170.99,162.52 171.00,162.20 171.00,161.86 171.01,161.51 171.01,161.14 171.01,160.76 171.02,160.36 171.02,160.06 171.02,159.74 171.03,159.41 171.03,159.08 171.03,158.73 171.04,158.37 171.04,158.01 171.04,157.63 171.05,157.23 171.05,156.83 171.05,156.41 171.05,155.98 171.06,155.54 171.06,155.24 171.06,154.92 171.06,154.61 171.07,154.28 171.07,153.95 171.07,153.61 171.07,153.26 171.07,152.90 171.08,152.54 171.08,152.16 171.08,151.78 171.08,151.38 171.08,150.98 171.09,150.57 171.09,150.14 171.09,149.71 171.09,149.26 171.09,148.85 171.25,148.85 171.25,149.27 171.26,149.72 171.26,150.16 171.26,150.59 171.26,151.01 171.26,151.42 171.27,151.81 171.27,152.20 171.27,152.58 171.27,152.95 171.27,153.31 171.28,153.66 171.28,154.01 171.28,154.34 171.28,154.67 171.28,154.99 171.29,155.31 171.29,155.61 171.29,155.91 171.29,156.35 171.30,156.78 171.30,157.19 171.30,157.59 171.30,157.98 171.31,158.35 171.31,158.72 171.31,159.07 171.32,159.42 171.32,159.75 171.32,160.07 171.33,160.39 171.33,160.69 171.33,161.08 171.34,161.46 171.34,161.82 171.34,162.17 171.35,162.50 171.35,162.82 171.36,163.13 171.36,163.50 171.37,163.85 171.37,164.18 171.38,164.49 171.38,164.85 171.39,165.18 171.39,165.49 171.40,165.82 171.41,166.12 171.42,166.43 171.43,166.74 171.44,167.05 171.45,167.36 171.48,167.67 171.49,167.70 171.52,167.39 171.54,167.09 171.55,166.78 171.56,166.48 171.56,166.17 171.57,165.87 171.58,165.54 171.58,165.23 171.59,164.90 171.60,164.55 171.60,164.23 171.61,163.90 171.61,163.54 171.62,163.17 171.62,162.86 171.62,162.53 171.63,162.20 171.63,161.84 171.64,161.47 171.64,161.09 171.64,160.69 171.65,160.38 171.65,160.06 171.65,159.73 171.66,159.38 171.66,159.03 171.66,158.67 171.67,158.29 171.67,157.91 171.67,157.51 171.67,157.09 171.68,156.67 171.68,156.23 171.68,155.92 171.68,155.61 171.69,155.30 171.69,154.97 171.69,154.64 171.69,154.30 171.69,153.96 171.70,153.60 171.70,153.24 171.70,152.87 171.70,152.48 171.70,152.09 171.71,151.69 171.71,151.27 171.71,150.85 171.71,150.41 171.71,149.97 171.72,149.51 171.72,149.03 171.72,148.54 171.72,148.04 171.72,147.52 171.73,146.99 171.73,146.44 171.73,145.87 171.73,145.28 171.73,144.98 171.73,144.67 171.74,144.36 171.74,144.12 171.85,144.12 171.86,144.52 171.86,144.83 171.86,145.14 171.86,145.44 171.86,146.03 171.86,146.60 171.86,147.15 171.87,147.69 171.87,148.20 171.87,148.71 171.87,149.19 171.87,149.67 171.88,150.13 171.88,150.58 171.88,151.01 171.88,151.44 171.88,151.85 171.89,152.26 171.89,152.65 171.89,153.03 171.89,153.41 171.89,153.77 171.90,154.13 171.90,154.48 171.90,154.82 171.90,155.15 171.90,155.47 171.91,155.79 171.91,156.10 171.91,156.40 171.91,156.84 171.92,157.27 171.92,157.69 171.92,158.09 171.93,158.47 171.93,158.85 171.93,159.21 171.93,159.57 171.94,159.91 171.94,160.24 171.94,160.56 171.95,160.88 171.95,161.18 171.95,161.57 171.96,161.94 171.96,162.30 171.97,162.64 171.97,162.97 171.97,163.28 171.98,163.59 171.98,163.94 171.99,164.28 171.99,164.60 172.00,164.91 172.00,165.25 172.01,165.56 172.02,165.90 172.02,166.21 172.03,166.52 172.04,166.83 172.05,167.14 172.07,167.45 172.10,167.70 172.13,167.39 172.14,167.08 172.16,166.76 172.16,166.44 172.17,166.11 172.18,165.79 172.19,165.49 172.19,165.16 172.20,164.81 172.20,164.50 172.21,164.17 172.21,163.81 172.22,163.44 172.22,163.13 172.23,162.80 172.23,162.46 172.23,162.10 172.24,161.73 172.24,161.34 172.24,161.03 172.25,160.72 172.25,160.40 172.25,160.06 172.26,159.72 172.26,159.36 172.26,158.99 172.27,158.61 172.27,158.22 172.27,157.81 172.27,157.39 172.28,156.96 172.28,156.51 172.28,156.20 172.28,155.89 172.29,155.56 172.29,155.23 172.29,154.89 172.29,154.55 172.29,154.19 172.30,153.83 172.30,153.45 172.30,153.07 172.30,152.68 172.30,152.27 172.31,151.86 172.31,151.43 172.31,150.99 172.31,150.54 172.31,150.08 172.32,149.60 172.32,149.11 172.32,148.61 172.32,148.08 172.32,147.55 172.33,147.32 172.46,147.32 172.46,147.85 172.46,148.38 172.47,148.90 172.47,149.40 172.47,149.89 172.47,150.36 172.47,150.82 172.48,151.27 172.48,151.71 172.48,152.13 172.48,152.54 172.48,152.94 172.49,153.34 172.49,153.72 172.49,154.09 172.49,154.45 172.49,154.81 172.50,155.15 172.50,155.49 172.50,155.82 172.50,156.14 172.50,156.46 172.51,156.76 172.51,157.06 172.51,157.50 172.51,157.92 172.52,158.33 172.52,158.73 172.52,159.11 172.53,159.48 172.53,159.84 172.53,160.19 172.53,160.53 172.54,160.85 172.54,161.17 172.54,161.47 172.55,161.86 172.55,162.24 172.56,162.60 172.56,162.94 172.56,163.27 172.57,163.59 172.57,163.89 172.58,164.24 172.58,164.58 172.59,164.89 172.59,165.25 172.60,165.58 172.60,165.88 172.61,166.20 172.62,166.52 172.63,166.84 172.64,167.16 172.65,167.47 172.68,167.70 172.71,167.39 172.73,167.09 172.74,166.79 172.75,166.46 172.75,166.12 172.76,165.79 172.77,165.48 172.77,165.14 172.78,164.83 172.78,164.51 172.79,164.16 172.79,163.80 172.80,163.49 172.80,163.16 172.81,162.82 172.81,162.47 172.81,162.10 172.82,161.71 172.82,161.40 172.82,161.09 172.83,160.77 172.83,160.43 172.83,160.08 172.84,159.73 172.84,159.36 172.84,158.97 172.84,158.58 172.85,158.17 172.85,157.74 172.85,157.30 172.86,157.00 172.86,156.69 172.86,156.37 172.86,156.05 172.86,155.72 172.87,155.38 172.87,155.03 172.87,154.67 172.87,154.30 172.87,153.93 172.88,153.54 172.88,153.14 172.88,152.74 172.88,152.32 172.88,151.89 172.89,151.44 172.89,150.99 172.89,150.52 172.89,150.04 172.89,149.54 172.90,149.03 172.90,148.75 173.04,148.75 173.04,149.16 173.04,149.67 173.04,150.17 173.04,150.66 173.05,151.13 173.05,151.58 173.05,152.03 173.05,152.46 173.05,152.88 173.06,153.29 173.06,153.68 173.06,154.07 173.06,154.45 173.06,154.82 173.07,155.18 173.07,155.53 173.07,155.87 173.07,156.20 173.07,156.53 173.08,156.84 173.08,157.15 173.08,157.46 173.08,157.90 173.09,158.32 173.09,158.74 173.09,159.13 173.09,159.52 173.10,159.89 173.10,160.25 173.10,160.60 173.11,160.93 173.11,161.26 173.11,161.57 173.12,161.88 173.12,162.26 173.12,162.64 173.13,162.99 173.13,163.33 173.14,163.66 173.14,163.96 173.14,164.33 173.15,164.67 173.15,165.00 173.16,165.30 173.17,165.63 173.17,165.94 173.18,166.27 173.19,166.60 173.20,166.91 173.21,167.23 173.22,167.54 173.25,167.70 173.28,167.39 173.29,167.07 173.30,166.74 173.31,166.43 173.31,166.13 173.32,165.78 173.33,165.45 173.33,165.10 173.34,164.78 173.34,164.44 173.35,164.07 173.35,163.76 173.36,163.44 173.36,163.10 173.36,162.75 173.37,162.37 173.37,161.98 173.38,161.68 173.38,161.36 173.38,161.03 173.38,160.69 173.39,160.34 173.39,159.98 173.39,159.60 173.40,159.21 173.40,158.81 173.40,158.39 173.41,157.96 173.41,157.51 173.41,157.20 173.41,156.88 173.41,156.56 173.42,156.23 173.42,155.89 173.42,155.54 173.42,155.18 173.42,154.81 173.43,154.43 173.43,154.05 173.43,153.65 173.43,153.24 173.43,152.82 173.44,152.38 173.44,151.94 173.44,151.48 173.44,151.01 173.44,150.52 173.45,150.02 173.45,149.50 173.45,148.97 173.45,148.42 173.45,147.84 173.46,147.25 173.46,146.95 173.46,146.64 173.46,146.42 173.58,146.42 173.58,146.99 173.58,147.29 173.58,147.89 173.58,148.46 173.59,149.02 173.59,149.56 173.59,150.08 173.59,150.58 173.59,151.07 173.60,151.55 173.60,152.01 173.60,152.46 173.60,152.89 173.60,153.31 173.61,153.73 173.61,154.13 173.61,154.52 173.61,154.90 173.61,155.27 173.62,155.63 173.62,155.98 173.62,156.32 173.62,156.66 173.62,156.99 173.63,157.30 173.63,157.61 173.63,157.92 173.63,158.36 173.64,158.79 173.64,159.20 173.64,159.59 173.65,159.98 173.65,160.35 173.65,160.70 173.65,161.05 173.66,161.38 173.66,161.70 173.66,162.01 173.67,162.41 173.67,162.79 173.68,163.15 173.68,163.50 173.68,163.82 173.69,164.14 173.69,164.50 173.70,164.85 173.70,165.17 173.71,165.47 173.71,165.81 173.72,166.11 173.73,166.43 173.73,166.75 173.74,167.05 173.76,167.36 173.78,167.66 173.79,167.70 173.82,167.38 173.83,167.08 173.84,166.74 173.85,166.42 173.85,166.10 173.86,165.79 173.87,165.45 173.87,165.14 173.88,164.81 173.88,164.46 173.89,164.09 173.89,163.77 173.89,163.43 173.90,163.08 173.90,162.71 173.91,162.32 173.91,162.01 173.91,161.70 173.92,161.37 173.92,161.03 173.92,160.68 173.92,160.31 173.93,159.94 173.93,159.54 173.93,159.14 173.94,158.71 173.94,158.28 173.94,157.98 173.94,157.67 173.95,157.35 173.95,157.03 173.95,156.69 173.95,156.35 173.95,156.00 173.96,155.64 173.96,155.27 173.96,154.90 173.96,154.51 173.96,154.11 173.97,153.69 173.97,153.48 174.13,153.48 174.14,153.95 174.14,154.36 174.14,154.76 174.14,155.14 174.14,155.52 174.15,155.89 174.15,156.25 174.15,156.60 174.15,156.94 174.15,157.27 174.16,157.59 174.16,157.90 174.16,158.21 174.16,158.66 174.17,159.09 174.17,159.50 174.17,159.90 174.18,160.29 174.18,160.66 174.18,161.02 174.18,161.37 174.19,161.70 174.19,162.02 174.19,162.33 174.20,162.73 174.20,163.11 174.21,163.46 174.21,163.81 174.21,164.13 174.22,164.44 174.22,164.80 174.23,165.14 174.23,165.45 174.24,165.80 174.24,166.11 174.25,166.44 174.26,166.77 174.27,167.08 174.28,167.39 174.30,167.69 174.31,167.70 174.34,167.39 174.35,167.08 174.36,166.77 174.37,166.44 174.37,166.11 174.38,165.79 174.39,165.44 174.39,165.12 174.40,164.77 174.40,164.41 174.41,164.09 174.41,163.76 174.41,163.41 174.42,163.05 174.42,162.66 174.42,162.36 174.43,162.04 174.43,161.72 174.43,161.38 174.44,161.03 174.44,160.66 174.44,160.28 174.45,159.89 174.45,159.48 174.45,159.06 174.45,158.62 174.46,158.31 174.46,158.00 174.46,157.68 174.46,157.36 174.46,157.02 174.47,156.68 174.47,156.32 174.47,155.96 174.47,155.58 174.47,155.20 174.48,154.81 174.48,154.40 174.48,153.98 174.48,153.55 174.48,153.11 174.49,152.65 174.49,152.18 174.49,151.69 174.49,151.19 174.49,150.68 174.50,150.14 174.50,149.59 174.50,149.02 174.50,148.42 174.50,148.12 174.50,147.81 174.51,147.73 174.62,147.73 174.62,148.18 174.63,148.48 174.63,148.78 174.63,149.37 174.63,149.93 174.63,150.48 174.63,151.01 174.64,151.52 174.64,152.02 174.64,152.50 174.64,152.96 174.64,153.41 174.65,153.85 174.65,154.28 174.65,154.69 174.65,155.10 174.65,155.49 174.66,155.87 174.66,156.24 174.66,156.60 174.66,156.95 174.66,157.30 174.67,157.63 174.67,157.95 174.67,158.27 174.67,158.58 174.67,158.88 174.68,159.32 174.68,159.74 174.68,160.14 174.69,160.53 174.69,160.91 174.69,161.27 174.70,161.62 174.70,161.96 174.70,162.28 174.70,162.59 174.71,162.99 174.71,163.37 174.72,163.72 174.72,164.06 174.72,164.38 174.73,164.69 174.73,165.05 174.74,165.38 174.74,165.68 174.75,166.02 174.76,166.33 174.76,166.64 174.77,166.95 174.78,167.25 174.80,167.56 174.81,167.70 174.84,167.38 174.85,167.05 174.86,166.72 174.87,166.42 174.88,166.07 174.88,165.74 174.89,165.43 174.89,165.10 174.90,164.75 174.90,164.44 174.91,164.12 174.91,163.78 174.91,163.42 174.92,163.04 174.92,162.64 174.93,162.32 174.93,162.00 174.93,161.66 174.93,161.30 174.94,160.94 174.94,160.55 174.94,160.16 174.95,159.74 174.95,159.32 174.95,158.87 174.95,158.56 174.96,158.25 174.96,157.93 174.96,157.59 174.96,157.25 174.96,156.90 174.97,156.54 174.97,156.17 174.97,155.79 174.97,155.40 174.97,154.99 174.98,154.58 174.98,154.15 174.98,153.71 174.98,153.26 174.98,152.79 174.99,152.31 174.99,151.81 174.99,151.29 174.99,151.05 175.13,151.05 175.13,151.37 175.13,151.89 175.13,152.39 175.14,152.87 175.14,153.34 175.14,153.80 175.14,154.24 175.14,154.67 175.15,155.09 175.15,155.49 175.15,155.89 175.15,156.27 175.15,156.64 175.16,157.00 175.16,157.36 175.16,157.70 175.16,158.03 175.16,158.36 175.17,158.68 175.17,158.98 175.17,159.28 175.17,159.72 175.18,160.14 175.18,160.54 175.18,160.93 175.18,161.31 175.19,161.66 175.19,162.01 175.19,162.34 175.20,162.66 175.20,162.97 175.20,163.36 175.21,163.73 175.21,164.08 175.22,164.41 175.22,164.72 175.22,165.09 175.23,165.43 175.23,165.74 175.24,166.08 175.25,166.39 175.25,166.71 175.26,167.01 175.27,167.31 175.29,167.61 175.30,167.70 175.33,167.40 175.34,167.10 175.35,166.77 175.36,166.46 175.36,166.16 175.37,165.83 175.37,165.52 175.38,165.18 175.38,164.82 175.39,164.51 175.39,164.18 175.39,163.83 175.40,163.46 175.40,163.07 175.41,162.76 175.41,162.44 175.41,162.11 175.41,161.76 175.42,161.40 175.42,161.02 175.42,160.63 175.43,160.23 175.43,159.80 175.43,159.36 175.43,159.06 175.44,158.75 175.44,158.43 175.44,158.10 175.44,157.76 175.44,157.41 175.45,157.05 175.45,156.68 175.45,156.30 175.45,155.91 175.45,155.51 175.46,155.10 175.46,154.67 175.46,154.23 175.46,153.91 175.62,153.91 175.62,154.22 175.62,154.66 175.62,155.09 175.62,155.51 175.63,155.92 175.63,156.31 175.63,156.69 175.63,157.07 175.63,157.43 175.64,157.78 175.64,158.12 175.64,158.46 175.64,158.78 175.64,159.10 175.65,159.41 175.65,159.85 175.65,160.28 175.66,160.69 175.66,161.09 175.66,161.46 175.66,161.83 175.67,162.18 175.67,162.52 175.67,162.84 175.68,163.15 175.68,163.54 175.68,163.91 175.69,164.27 175.69,164.60 175.70,164.91 175.70,165.27 175.71,165.61 175.71,165.92 175.72,166.25 175.72,166.59 175.73,166.93 175.74,167.23 175.75,167.53 175.77,167.70 175.80,167.38 175.81,167.06 175.82,166.75 175.83,166.43 175.83,166.11 175.84,165.76 175.84,165.43 175.85,165.08 175.85,164.77 175.86,164.45 175.86,164.11 175.86,163.74 175.87,163.35 175.87,163.05 175.87,162.73 175.88,162.40 175.88,162.05 175.88,161.69 175.89,161.31 175.89,160.92 175.89,160.51 175.90,160.09 175.90,159.65 175.90,159.34 175.90,159.03 175.90,158.70 175.91,158.37 175.91,158.03 175.91,157.67 175.91,157.31 175.91,156.94 175.92,156.56 175.92,156.16 175.92,155.75 175.92,155.33 175.92,154.90 175.93,154.45 175.93,153.99 175.93,153.52 175.93,153.03 175.93,152.52 175.94,152.00 175.94,151.45 175.94,150.89 175.94,150.31 175.94,149.70 175.95,149.39 175.95,149.08 176.06,149.08 176.06,149.63 176.06,149.94 176.07,150.24 176.07,150.83 176.07,151.40 176.07,151.95 176.07,152.48 176.08,153.00 176.08,153.49 176.08,153.97 176.08,154.44 176.08,154.89 176.09,155.33 176.09,155.75 176.09,156.16 176.09,156.56 176.09,156.95 176.10,157.33 176.10,157.70 176.10,158.05 176.10,158.40 176.10,158.73 176.11,159.06 176.11,159.38 176.11,159.69 176.11,159.99 176.11,160.42 176.12,160.84 176.12,161.24 176.12,161.63 176.13,162.00 176.13,162.35 176.13,162.69 176.14,163.02 176.14,163.33 176.14,163.73 176.15,164.10 176.15,164.45 176.15,164.78 176.16,165.09 176.16,165.45 176.17,165.78 176.17,166.08 176.18,166.41 176.19,166.74 176.19,167.06 176.20,167.36 176.22,167.67 176.23,167.70 176.26,167.39 176.27,167.06 176.28,166.74 176.28,166.41 176.29,166.08 176.29,165.77 176.30,165.44 176.30,165.07 176.31,164.76 176.31,164.42 176.32,164.07 176.32,163.69 176.32,163.39 176.33,163.07 176.33,162.75 176.33,162.40 176.33,162.05 176.34,161.67 176.34,161.29 176.34,160.88 176.35,160.46 176.35,160.01 176.35,159.71 176.35,159.40 176.36,159.07 176.36,158.74 176.36,158.40 176.36,158.05 176.36,157.68 176.37,157.31 176.37,156.93 176.37,156.53 176.37,156.12 176.37,155.70 176.38,155.26 176.38,154.82 176.38,154.35 176.38,153.87 176.38,153.38 176.39,152.87 176.39,152.34 176.39,151.79 176.39,151.22 176.39,150.63 176.39,150.33 176.40,150.02 176.40,149.71 176.40,149.38 176.40,149.06 176.40,148.72 176.40,148.38 176.40,148.04 176.40,147.68 176.40,147.32 176.40,146.95 176.41,146.92 176.50,146.92 176.51,147.43 176.51,147.79 176.51,148.15 176.51,148.49 176.51,148.83 176.51,149.17 176.51,149.50 176.51,149.82 176.51,150.13 176.51,150.44 176.52,150.75 176.52,151.34 176.52,151.90 176.52,152.45 176.52,152.98 176.53,153.50 176.53,153.99 176.53,154.47 176.53,154.94 176.53,155.39 176.54,155.82 176.54,156.24 176.54,156.65 176.54,157.05 176.54,157.44 176.55,157.81 176.55,158.17 176.55,158.53 176.55,158.87 176.55,159.20 176.56,159.53 176.56,159.84 176.56,160.15 176.56,160.59 176.57,161.01 176.57,161.42 176.57,161.81 176.57,162.18 176.58,162.54 176.58,162.88 176.58,163.21 176.59,163.52 176.59,163.92 176.59,164.29 176.60,164.64 176.60,164.97 176.61,165.28 176.61,165.63 176.62,165.96 176.62,166.31 176.63,166.62 176.64,166.92 176.64,167.24 176.66,167.55 176.67,167.70 176.70,167.38 176.71,167.07 176.72,166.74 176.72,166.40 176.73,166.06 176.74,165.74 176.74,165.39 176.74,165.09 176.75,164.77 176.75,164.42 176.76,164.05 176.76,163.66 176.76,163.35 176.77,163.03 176.77,162.69 176.77,162.33 176.78,161.96 176.78,161.57 176.78,161.16 176.78,160.74 176.79,160.30 176.79,159.99 176.79,159.68 176.79,159.35 176.80,159.02 176.80,158.67 176.80,158.32 176.80,157.95 176.80,157.58 176.81,157.19 176.81,156.79 176.81,156.38 176.81,155.95 176.81,155.51 176.82,155.05 176.82,154.58 176.82,154.10 176.82,153.71 176.96,153.71 176.96,154.09 176.96,154.58 176.97,155.05 176.97,155.51 176.97,155.96 176.97,156.39 176.97,156.81 176.98,157.21 176.98,157.60 176.98,157.98 176.98,158.35 176.98,158.71 176.99,159.06 176.99,159.40 176.99,159.72 176.99,160.04 176.99,160.35 177.00,160.80 177.00,161.22 177.00,161.63 177.01,162.02 177.01,162.40 177.01,162.76 177.02,163.10 177.02,163.43 177.02,163.74 177.03,164.13 177.03,164.50 177.03,164.85 177.04,165.18 177.04,165.48 177.05,165.83 177.05,166.14 177.06,166.48 177.06,166.82 177.07,167.14 177.08,167.46 177.10,167.70 177.13,167.40 177.14,167.08 177.15,166.75 177.15,166.45 177.16,166.10 177.16,165.78 177.17,165.43 177.17,165.12 177.18,164.78 177.18,164.43 177.18,164.05 177.19,163.75 177.19,163.43 177.19,163.10 177.20,162.76 177.20,162.39 177.20,162.01 177.21,161.62 177.21,161.20 177.21,160.76 177.21,160.46 177.22,160.15 177.22,159.83 177.22,159.50 177.22,159.16 177.22,158.81 177.23,158.45 177.23,158.08 177.23,157.70 177.23,157.30 177.23,156.89 177.24,156.47 177.24,156.03 177.24,155.58 177.24,155.12 177.24,154.64 177.25,154.14 177.25,153.62 177.25,153.09 177.25,152.53 177.25,151.96 177.26,151.36 177.26,151.05 177.26,150.74 177.26,150.42 177.26,150.16 177.37,150.16 177.37,150.63 177.37,150.94 177.37,151.26 177.38,151.56 177.38,152.16 177.38,152.73 177.38,153.28 177.38,153.81 177.39,154.33 177.39,154.82 177.39,155.30 177.39,155.77 177.39,156.22 177.40,156.65 177.40,157.07 177.40,157.48 177.40,157.88 177.40,158.26 177.41,158.63 177.41,158.99 177.41,159.34 177.41,159.68 177.41,160.01 177.42,160.33 177.42,160.64 177.42,160.94 177.42,161.37 177.43,161.78 177.43,162.18 177.43,162.56 177.43,162.92 177.44,163.26 177.44,163.59 177.44,163.91 177.45,164.30 177.45,164.67 177.46,165.02 177.46,165.34 177.46,165.71 177.47,166.04 177.47,166.35 177.48,166.67 177.49,166.98 177.50,167.30 177.51,167.61 177.52,167.70 177.55,167.38 177.56,167.05 177.56,166.74 177.57,166.43 177.58,166.07 177.58,165.74 177.59,165.37 177.59,165.04 177.59,164.70 177.60,164.33 177.60,163.93 177.60,163.61 177.61,163.28 177.61,162.93 177.61,162.57 177.62,162.18 177.62,161.78 177.62,161.36 177.63,160.92 177.63,160.62 177.63,160.30 177.63,159.98 177.63,159.64 177.64,159.30 177.64,158.94 177.64,158.57 177.64,158.20 177.64,157.80 177.65,157.40 177.65,156.98 177.65,156.55 177.65,156.10 177.65,155.64 177.66,155.17 177.66,154.67 177.66,154.16 177.66,153.63 177.66,153.39 177.79,153.39 177.79,153.74 177.80,154.27 177.80,154.79 177.80,155.28 177.80,155.76 177.80,156.22 177.81,156.67 177.81,157.10 177.81,157.52 177.81,157.92 177.81,158.32 177.82,158.70 177.82,159.06 177.82,159.42 177.82,159.77 177.82,160.10 177.83,160.43 177.83,160.74 177.83,161.05 177.83,161.49 177.84,161.91 177.84,162.31 177.84,162.69 177.84,163.06 177.85,163.40 177.85,163.74 177.85,164.05 177.86,164.45 177.86,164.82 177.87,165.16 177.87,165.48 177.87,165.85 177.88,166.18 177.89,166.53 177.89,166.83 177.90,167.17 177.91,167.47 177.93,167.70 177.95,167.40 177.96,167.07 177.97,166.76 177.97,166.44 177.98,166.14 177.98,165.80 177.99,165.42 177.99,165.10 178.00,164.74 178.00,164.36 178.00,164.06 178.01,163.74 178.01,163.41 178.01,163.06 178.02,162.69 178.02,162.30 178.02,161.89 178.03,161.46 178.03,161.02 178.03,160.71 178.03,160.39 178.03,160.06 178.04,159.71 178.04,159.36 178.04,159.00 178.04,158.62 178.04,158.23 178.05,157.83 178.05,157.42 178.05,156.99 178.05,156.54 178.05,156.08 178.06,155.61 178.06,155.12 178.06,154.61 178.06,154.08 178.06,153.53 178.07,152.96 178.07,152.37 178.07,152.07 178.07,151.76 178.07,151.44 178.07,151.11 178.07,150.78 178.07,150.45 178.08,150.10 178.08,149.75 178.08,149.63 178.18,149.63 178.18,149.96 178.18,150.31 178.18,150.65 178.18,150.99 178.18,151.32 178.19,151.64 178.19,151.95 178.19,152.26 178.19,152.57 178.19,153.16 178.19,153.72 178.19,154.27 178.20,154.80 178.20,155.30 178.20,155.79 178.20,156.27 178.20,156.72 178.21,157.17 178.21,157.59 178.21,158.01 178.21,158.41 178.21,158.80 178.22,159.17 178.22,159.53 178.22,159.88 178.22,160.23 178.22,160.55 178.23,160.87 178.23,161.18 178.23,161.63 178.23,162.05 178.24,162.46 178.24,162.85 178.24,163.21 178.25,163.56 178.25,163.90 178.25,164.21 178.26,164.61 178.26,164.98 178.26,165.32 178.27,165.64 178.27,166.00 178.28,166.32 178.28,166.66 178.29,167.00 178.30,167.30 178.31,167.61 178.32,167.70 178.35,167.40 178.36,167.09 178.36,166.78 178.37,166.45 178.37,166.14 178.38,165.80 178.38,165.49 178.39,165.16 178.39,164.80 178.39,164.42 178.40,164.11 178.40,163.78 178.40,163.44 178.41,163.08 178.41,162.70 178.41,162.30 178.42,161.89 178.42,161.45 178.42,161.14 178.42,160.83 178.42,160.50 178.43,160.17 178.43,159.82 178.43,159.46 178.43,159.09 178.43,158.70 178.44,158.31 178.44,157.90 178.44,157.47 178.44,157.04 178.44,156.58 178.45,156.11 178.45,155.62 178.45,155.12 178.45,154.59 178.45,154.05 178.46,153.49 178.46,152.90 178.46,152.60 178.46,152.29 178.46,151.98 178.46,151.65 178.46,151.33 178.46,150.99 178.47,150.65 178.47,150.30 178.47,150.03 178.57,150.03 178.57,150.39 178.57,150.74 178.57,151.09 178.57,151.42 178.57,151.75 178.58,152.07 178.58,152.39 178.58,152.70 178.58,153.00 178.58,153.59 178.58,154.15 178.58,154.70 178.59,155.22 178.59,155.73 178.59,156.22 178.59,156.69 178.59,157.14 178.60,157.58 178.60,158.01 178.60,158.42 178.60,158.81 178.60,159.20 178.61,159.57 178.61,159.93 178.61,160.28 178.61,160.61 178.61,160.94 178.62,161.26 178.62,161.56 178.62,162.00 178.62,162.42 178.63,162.82 178.63,163.20 178.63,163.56 178.64,163.90 178.64,164.22 178.64,164.53 178.65,164.91 178.65,165.27 178.65,165.60 178.66,165.90 178.66,166.24 178.67,166.55 178.67,166.86 178.68,167.16 178.69,167.48 178.71,167.70 178.73,167.38 178.74,167.06 178.75,166.73 178.75,166.39 178.76,166.06 178.76,165.69 178.77,165.37 178.77,165.02 178.78,164.64 178.78,164.33 178.78,164.01 178.78,163.67 178.79,163.32 178.79,162.94 178.79,162.55 178.80,162.13 178.80,161.69 178.80,161.38 178.80,161.07 178.81,160.74 178.81,160.41 178.81,160.06 178.81,159.70 178.81,159.33 178.82,158.94 178.82,158.54 178.82,158.13 178.82,157.70 178.82,157.26 178.83,156.80 178.83,156.33 178.83,155.83 178.83,155.32 178.83,154.79 178.83,154.77 178.96,154.77 178.96,155.14 178.97,155.67 178.97,156.17 178.97,156.65 178.97,157.12 178.97,157.57 178.98,158.01 178.98,158.43 178.98,158.84 178.98,159.23 178.98,159.61 178.99,159.98 178.99,160.33 178.99,160.68 178.99,161.01 178.99,161.33 179.00,161.64 179.00,161.94 179.00,162.37 179.00,162.78 179.01,163.17 179.01,163.54 179.01,163.90 179.02,164.23 179.02,164.54 179.02,164.93 179.03,165.30 179.03,165.63 179.04,165.94 179.04,166.29 179.05,166.59 179.05,166.91 179.06,167.24 179.07,167.55 179.08,167.70 179.11,167.40 179.11,167.07 179.12,166.74 179.13,166.39 179.13,166.05 179.14,165.68 179.14,165.34 179.15,164.98 179.15,164.59 179.15,164.27 179.16,163.94 179.16,163.59 179.16,163.22 179.16,162.82 179.17,162.41 179.17,161.98 179.17,161.67 179.17,161.36 179.18,161.03 179.18,160.70 179.18,160.35 179.18,159.99 179.18,159.62 179.19,159.23 179.19,158.84 179.19,158.42 179.19,158.00 179.19,157.55 179.20,157.09 179.20,156.62 179.20,156.12 179.20,155.61 179.20,155.08 179.21,154.52 179.21,153.95 179.21,153.35 179.21,153.04 179.21,152.72 179.21,152.40 179.21,152.07 179.22,151.74 179.22,151.39 179.22,151.04 179.22,150.68 179.22,150.32 179.22,149.94 179.22,149.56 179.22,149.48 179.32,149.48 179.32,150.08 179.32,150.45 179.32,150.82 179.32,151.18 179.32,151.53 179.32,151.87 179.32,152.21 179.32,152.54 179.33,152.86 179.33,153.17 179.33,153.48 179.33,153.78 179.33,154.37 179.33,154.94 179.33,155.48 179.34,156.00 179.34,156.50 179.34,156.99 179.34,157.46 179.34,157.91 179.35,158.34 179.35,158.76 179.35,159.17 179.35,159.56 179.35,159.94 179.36,160.31 179.36,160.66 179.36,161.00 179.36,161.33 179.36,161.65 179.37,161.96 179.37,162.40 179.37,162.82 179.38,163.21 179.38,163.59 179.38,163.95 179.38,164.29 179.39,164.61 179.39,164.91 179.39,165.28 179.40,165.62 179.40,165.94 179.41,166.29 179.41,166.61 179.42,166.93 179.43,167.23 179.44,167.53 179.45,167.70 179.47,167.38 179.48,167.03 179.49,166.73 179.49,166.37 179.50,166.02 179.50,165.71 179.51,165.38 179.51,165.01 179.51,164.61 179.52,164.28 179.52,163.94 179.52,163.58 179.53,163.20 179.53,162.80 179.53,162.37 179.53,161.92 179.54,161.61 179.54,161.29 179.54,160.95 179.54,160.61 179.54,160.25 179.55,159.87 179.55,159.49 179.55,159.09 179.55,158.67 179.55,158.24 179.56,157.80 179.56,157.34 179.56,156.86 179.56,156.36 179.56,155.84 179.57,155.31 179.57,154.75 179.57,154.17 179.57,153.56 179.57,153.25 179.57,152.93 179.58,152.60 179.58,152.27 179.58,151.93 179.58,151.58 179.58,151.23 179.58,151.23 179.68,151.23 179.68,151.54 179.68,151.89 179.68,152.23 179.68,152.57 179.69,152.90 179.69,153.22 179.69,153.53 179.69,153.84 179.69,154.15 179.69,154.73 179.69,155.30 179.70,155.84 179.70,156.36 179.70,156.86 179.70,157.35 179.70,157.81 179.71,158.26 179.71,158.69 179.71,159.11 179.71,159.52 179.71,159.91 179.72,160.28 179.72,160.64 179.72,160.99 179.72,161.33 179.72,161.66 179.73,161.97 179.73,162.28 179.73,162.71 179.73,163.13 179.74,163.52 179.74,163.89 179.74,164.24 179.75,164.56 179.75,164.88 179.75,165.26 179.76,165.62 179.76,165.94 179.77,166.30 179.77,166.62 179.78,166.95 179.78,167.25 179.79,167.57 179.81,167.70 179.83,167.39 179.84,167.08 179.84,166.73 179.85,166.43 179.85,166.08 179.86,165.77 179.86,165.42 179.86,165.05 179.87,164.75 179.87,164.43 179.87,164.09 179.88,163.72 179.88,163.34 179.88,162.94 179.89,162.51 179.89,162.06 179.89,161.74 179.89,161.41 179.89,161.07 179.90,160.72 179.90,160.36 179.90,159.98 179.90,159.59 179.90,159.18 179.91,158.76 179.91,158.32 179.91,157.87 179.91,157.40 179.91,156.91 179.92,156.40 179.92,155.88 179.92,155.33 179.92,154.75 179.92,154.16 179.93,153.85 179.93,153.54 179.93,153.22 179.93,152.89 179.93,152.56 179.93,152.21 179.93,151.86 179.93,151.51 179.93,151.19 180.03,151.19 180.03,151.78 180.03,152.13 180.04,152.48 180.04,152.82 180.04,153.15 180.04,153.47 180.04,153.79 180.04,154.10 180.04,154.41 180.04,155.00 180.05,155.56 180.05,156.11 180.05,156.63 180.05,157.14 180.05,157.62 180.06,158.09 180.06,158.54 180.06,158.97 180.06,159.39 180.06,159.79 180.07,160.18 180.07,160.56 180.07,160.92 180.07,161.27 180.07,161.60 180.08,161.93 180.08,162.24 180.08,162.54 180.08,162.97 180.09,163.38 180.09,163.77 180.09,164.13 180.09,164.47 180.10,164.80 180.10,165.10 180.10,165.48 180.11,165.82 180.11,166.13 180.12,166.48 180.12,166.78 180.13,167.09 180.14,167.39 180.15,167.70 180.16,167.70 180.18,167.38 180.18,167.07 180.19,166.76 180.19,166.45 180.20,166.10 180.20,165.78 180.21,165.43 180.21,165.05 180.21,164.74 180.22,164.41 180.22,164.06 180.22,163.69 180.23,163.30 180.23,162.88 180.23,162.44 180.23,162.13 180.24,161.81 180.24,161.47 180.24,161.13 180.24,160.77 180.24,160.40 180.25,160.02 180.25,159.62 180.25,159.20 180.25,158.77 180.25,158.32 180.26,157.86 180.26,157.37 180.26,156.87 180.26,156.35 180.26,155.81 180.27,155.24 180.27,154.65 180.27,154.35 180.27,154.04 180.27,153.72 180.27,153.40 180.27,153.07 180.27,152.73 180.28,152.38 180.28,152.03 180.28,151.66 180.28,151.29 180.28,150.91 180.28,150.52 180.28,150.14 180.37,150.14 180.37,150.61 180.37,151.00 180.38,151.38 180.38,151.75 180.38,152.11 180.38,152.47 180.38,152.81 180.38,153.15 180.38,153.48 180.38,153.81 180.38,154.13 180.38,154.44 180.39,154.74 180.39,155.33 180.39,155.90 180.39,156.44 180.39,156.97 180.40,157.47 180.40,157.95 180.40,158.42 180.40,158.87 180.40,159.30 180.41,159.71 180.41,160.11 180.41,160.50 180.41,160.87 180.41,161.23 180.42,161.58 180.42,161.91 180.42,162.23 180.42,162.54 180.42,162.98 180.43,163.40 180.43,163.79 180.43,164.16 180.44,164.51 180.44,164.84 180.44,165.15 180.45,165.53 180.45,165.88 180.45,166.19 180.46,166.54 180.46,166.84 180.47,167.18 180.48,167.49 180.50,167.70 180.52,167.38 180.52,167.05 180.53,166.73 180.53,166.41 180.54,166.04 180.54,165.71 180.55,165.35 180.55,164.95 180.55,164.62 180.56,164.28 180.56,163.91 180.56,163.52 180.57,163.10 180.57,162.67 180.57,162.36 180.57,162.04 180.58,161.71 180.58,161.36 180.58,161.01 180.58,160.63 180.58,160.25 180.59,159.85 180.59,159.43 180.59,159.00 180.59,158.55 180.59,158.09 180.60,157.60 180.60,157.10 180.60,156.57 180.60,156.02 180.60,155.45 180.61,154.86 180.61,154.55 180.61,154.24 180.61,153.92 180.61,153.84 180.72,153.84 180.72,154.43 180.72,154.74 180.72,155.04 180.72,155.63 180.73,156.20 180.73,156.75 180.73,157.27 180.73,157.77 180.73,158.25 180.74,158.72 180.74,159.17 180.74,159.60 180.74,160.01 180.74,160.41 180.75,160.79 180.75,161.16 180.75,161.52 180.75,161.86 180.75,162.19 180.76,162.51 180.76,162.81 180.76,163.25 180.76,163.66 180.77,164.05 180.77,164.41 180.77,164.75 180.78,165.07 180.78,165.47 180.78,165.83 180.79,166.15 180.79,166.51 180.80,166.82 180.80,167.13 180.81,167.44 180.83,167.70 180.85,167.38 180.86,167.05 180.86,166.72 180.87,166.39 180.87,166.09 180.87,165.75 180.88,165.38 180.88,165.08 180.88,164.76 180.89,164.41 180.89,164.05 180.89,163.66 180.90,163.24 180.90,162.80 180.90,162.49 180.90,162.17 180.91,161.83 180.91,161.49 180.91,161.13 180.91,160.75 180.91,160.36 180.92,159.96 180.92,159.54 180.92,159.10 180.92,158.64 180.92,158.17 180.93,157.67 180.93,157.16 180.93,156.63 180.93,156.07 180.93,155.49 180.94,154.88 180.94,154.57 180.94,154.25 180.94,153.92 180.94,153.59 180.94,153.24 180.94,152.89 180.94,152.53 180.94,152.17 180.94,151.79 180.95,151.40 180.95,151.04 181.04,151.04 181.04,151.39 181.04,151.78 181.04,152.15 181.04,152.52 181.04,152.89 181.04,153.24 181.04,153.58 181.05,153.92 181.05,154.25 181.05,154.57 181.05,154.89 181.05,155.20 181.05,155.50 181.05,156.09 181.05,156.65 181.06,157.19 181.06,157.70 181.06,158.20 181.06,158.68 181.06,159.13 181.07,159.58 181.07,160.00 181.07,160.41 181.07,160.80 181.07,161.18 181.08,161.54 181.08,161.89 181.08,162.23 181.08,162.55 181.08,162.86 181.09,163.30 181.09,163.72 181.09,164.11 181.10,164.48 181.10,164.82 181.10,165.15 181.11,165.45 181.11,165.82 181.11,166.15 181.12,166.52 181.12,166.83 181.13,167.15 181.14,167.45 181.15,167.70 181.17,167.37 181.18,167.02 181.19,166.68 181.19,166.34 181.20,166.02 181.20,165.67 181.20,165.29 181.21,164.97 181.21,164.63 181.21,164.27 181.22,163.89 181.22,163.48 181.22,163.04 181.22,162.73 181.23,162.41 181.23,162.08 181.23,161.74 181.23,161.38 181.23,161.01 181.24,160.62 181.24,160.21 181.24,159.79 181.24,159.35 181.24,158.90 181.25,158.42 181.25,157.93 181.25,157.42 181.25,156.88 181.25,156.32 181.26,155.74 181.26,155.44 181.26,155.13 181.26,154.82 181.26,154.49 181.26,154.16 181.26,153.83 181.26,153.48 181.26,153.13 181.26,152.77 181.27,152.40 181.27,152.02 181.27,151.63 181.27,151.23 181.27,150.82 181.27,150.41 181.27,150.12 181.36,150.12 181.36,150.75 181.36,151.16 181.36,151.57 181.36,151.96 181.36,152.34 181.36,152.72 181.36,153.08 181.36,153.44 181.37,153.79 181.37,154.13 181.37,154.46 181.37,154.78 181.37,155.10 181.37,155.41 181.37,155.72 181.37,156.30 181.38,156.87 181.38,157.41 181.38,157.93 181.38,158.43 181.38,158.91 181.39,159.36 181.39,159.81 181.39,160.23 181.39,160.64 181.39,161.03 181.40,161.41 181.40,161.77 181.40,162.12 181.40,162.45 181.40,162.77 181.41,163.08 181.41,163.52 181.41,163.93 181.41,164.32 181.42,164.68 181.42,165.02 181.42,165.34 181.43,165.73 181.43,166.08 181.44,166.39 181.44,166.73 181.45,167.07 181.45,167.37 181.47,167.67 181.47,167.70 181.49,167.39 181.50,167.05 181.50,166.70 181.51,166.35 181.51,166.04 181.52,165.68 181.52,165.28 181.52,164.96 181.53,164.62 181.53,164.25 181.53,163.85 181.54,163.43 181.54,162.98 181.54,162.66 181.54,162.34 181.54,161.99 181.55,161.64 181.55,161.26 181.55,160.88 181.55,160.48 181.55,160.06 181.56,159.62 181.56,159.17 181.56,158.69 181.56,158.20 181.56,157.69 181.57,157.27 181.69,157.27 181.69,157.60 181.69,158.12 181.70,158.62 181.70,159.10 181.70,159.57 181.70,160.01 181.70,160.43 181.71,160.84 181.71,161.23 181.71,161.61 181.71,161.97 181.71,162.32 181.72,162.65 181.72,162.97 181.72,163.28 181.72,163.72 181.73,164.12 181.73,164.51 181.73,164.87 181.73,165.20 181.74,165.51 181.74,165.89 181.75,166.23 181.75,166.53 181.75,166.86 181.76,167.18 181.77,167.48 181.78,167.70 181.80,167.39 181.81,167.09 181.81,166.74 181.82,166.39 181.82,166.07 181.83,165.71 181.83,165.31 181.83,164.99 181.84,164.63 181.84,164.26 181.84,163.85 181.85,163.42 181.85,163.12 181.85,162.80 181.85,162.47 181.85,162.13 181.86,161.77 181.86,161.40 181.86,161.01 181.86,160.60 181.86,160.18 181.87,159.74 181.87,159.28 181.87,158.80 181.87,158.30 181.87,157.78 181.88,157.23 181.88,156.67 181.88,156.07 181.88,155.77 181.88,155.45 181.88,155.13 181.88,154.80 181.88,154.47 181.89,154.12 181.89,153.77 181.89,153.41 181.89,153.04 181.89,152.66 181.89,152.27 181.89,151.87 181.89,151.46 181.89,151.04 181.89,150.69 181.98,150.69 181.98,151.25 181.98,151.67 181.98,152.08 181.98,152.47 181.98,152.86 181.98,153.24 181.99,153.60 181.99,153.96 181.99,154.31 181.99,154.66 181.99,154.99 181.99,155.32 181.99,155.64 181.99,155.95 181.99,156.25 182.00,156.84 182.00,157.41 182.00,157.95 182.00,158.47 182.00,158.96 182.01,159.44 182.01,159.90 182.01,160.34 182.01,160.76 182.01,161.16 182.02,161.55 182.02,161.92 182.02,162.28 182.02,162.62 182.02,162.95 182.03,163.26 182.03,163.56 182.03,163.99 182.03,164.39 182.04,164.76 182.04,165.11 182.04,165.43 182.05,165.83 182.05,166.18 182.05,166.49 182.06,166.83 182.07,167.16 182.07,167.48 182.09,167.70 182.11,167.37 182.11,167.05 182.12,166.69 182.12,166.32 182.13,165.99 182.13,165.61 182.13,165.30 182.14,164.96 182.14,164.60 182.14,164.21 182.15,163.79 182.15,163.35 182.15,163.04 182.15,162.71 182.16,162.37 182.16,162.01 182.16,161.64 182.16,161.25 182.16,160.85 182.17,160.43 182.17,159.99 182.17,159.53 182.17,159.05 182.17,158.56 182.18,158.03 182.18,157.49 182.18,156.92 182.18,156.33 182.18,156.02 182.18,155.71 182.18,155.38 182.19,155.05 182.19,154.95 182.29,154.95 182.29,155.46 182.29,155.78 182.29,156.10 182.29,156.41 182.30,156.71 182.30,157.29 182.30,157.85 182.30,158.38 182.30,158.89 182.31,159.38 182.31,159.85 182.31,160.30 182.31,160.73 182.31,161.14 182.32,161.54 182.32,161.92 182.32,162.28 182.32,162.63 182.32,162.96 182.33,163.28 182.33,163.59 182.33,164.02 182.33,164.43 182.34,164.81 182.34,165.16 182.34,165.48 182.35,165.79 182.35,166.15 182.35,166.47 182.36,166.82 182.36,167.16 182.37,167.48 182.39,167.70 182.40,167.38 182.41,167.06 182.42,166.75 182.42,166.39 182.42,166.06 182.43,165.68 182.43,165.37 182.43,165.03 182.44,164.66 182.44,164.27 182.44,163.85 182.45,163.40 182.45,163.09 182.45,162.76 182.45,162.41 182.45,162.05 182.46,161.67 182.46,161.28 182.46,160.86 182.46,160.44 182.46,159.99 182.47,159.52 182.47,159.03 182.47,158.52 182.47,157.99 182.47,157.43 182.48,156.85 182.48,156.54 182.48,156.23 182.48,155.92 182.48,155.60 182.48,155.26 182.48,154.92 182.48,154.58 182.48,154.32 182.58,154.32 182.58,154.95 182.59,155.29 182.59,155.62 182.59,155.95 182.59,156.27 182.59,156.58 182.59,156.88 182.59,157.47 182.59,158.03 182.60,158.56 182.60,159.08 182.60,159.57 182.60,160.04 182.60,160.49 182.61,160.92 182.61,161.33 182.61,161.73 182.61,162.11 182.61,162.47 182.62,162.82 182.62,163.15 182.62,163.47 182.62,163.77 182.63,164.20 182.63,164.60 182.63,164.98 182.63,165.32 182.64,165.64 182.64,166.03 182.65,166.37 182.65,166.68 182.65,167.00 182.66,167.30 182.67,167.61 182.68,167.70 182.70,167.39 182.70,167.06 182.71,166.76 182.71,166.39 182.72,166.04 182.72,165.66 182.72,165.34 182.73,164.99 182.73,164.61 182.73,164.21 182.74,163.78 182.74,163.47 182.74,163.15 182.74,162.82 182.74,162.47 182.75,162.10 182.75,161.72 182.75,161.32 182.75,160.90 182.75,160.46 182.76,160.00 182.76,159.53 182.76,159.03 182.76,158.51 182.76,157.96 182.77,157.46 182.88,157.46 182.88,157.88 182.88,158.43 182.89,158.96 182.89,159.47 182.89,159.95 182.89,160.41 182.89,160.86 182.90,161.28 182.90,161.69 182.90,162.07 182.90,162.45 182.90,162.80 182.91,163.14 182.91,163.47 182.91,163.78 182.91,164.21 182.92,164.62 182.92,165.00 182.92,165.35 182.93,165.67 182.93,166.07 182.93,166.41 182.94,166.71 182.94,167.03 182.95,167.37 182.96,167.68 182.97,167.70 182.98,167.37 182.99,167.03 182.99,166.71 183.00,166.41 183.00,166.06 183.01,165.66 183.01,165.34 183.01,164.98 183.02,164.60 183.02,164.19 183.02,163.74 183.02,163.43 183.03,163.10 183.03,162.76 183.03,162.40 183.03,162.02 183.03,161.63 183.04,161.21 183.04,160.78 183.04,160.33 183.04,159.86 183.04,159.37 183.05,158.85 183.05,158.31 183.05,157.75 183.05,157.15 183.05,156.85 183.05,156.53 183.05,156.21 183.06,155.88 183.06,155.55 183.06,155.20 183.06,154.85 183.06,154.48 183.06,154.11 183.06,153.73 183.06,153.33 183.06,152.93 183.06,152.62 183.15,152.62 183.15,153.09 183.15,153.50 183.15,153.89 183.15,154.27 183.16,154.64 183.16,155.00 183.16,155.36 183.16,155.70 183.16,156.04 183.16,156.36 183.16,156.68 183.16,157.00 183.16,157.30 183.17,157.89 183.17,158.46 183.17,158.99 183.17,159.51 183.17,160.00 183.18,160.47 183.18,160.92 183.18,161.35 183.18,161.76 183.18,162.15 183.19,162.52 183.19,162.88 183.19,163.23 183.19,163.55 183.19,163.86 183.20,164.30 183.20,164.71 183.20,165.09 183.21,165.44 183.21,165.77 183.21,166.15 183.22,166.49 183.22,166.86 183.23,167.21 183.24,167.52 183.25,167.70 183.26,167.37 183.27,167.03 183.28,166.70 183.28,166.39 183.28,166.03 183.29,165.62 183.29,165.28 183.29,164.92 183.30,164.52 183.30,164.10 183.30,163.79 183.30,163.47 183.31,163.14 183.31,162.79 183.31,162.43 183.31,162.04 183.31,161.64 183.32,161.22 183.32,160.78 183.32,160.32 183.32,159.84 183.32,159.34 183.33,158.81 183.33,158.26 183.33,157.68 183.33,157.07 183.33,156.76 183.33,156.44 183.33,156.41 183.44,156.41 183.44,156.79 183.44,157.11 183.44,157.42 183.44,157.72 183.44,158.30 183.45,158.86 183.45,159.39 183.45,159.89 183.45,160.37 183.45,160.84 183.46,161.28 183.46,161.70 183.46,162.10 183.46,162.49 183.46,162.85 183.47,163.20 183.47,163.54 183.47,163.85 183.47,164.16 183.48,164.59 183.48,164.98 183.48,165.35 183.48,165.68 183.49,165.99 183.49,166.36 183.50,166.68 183.50,167.02 183.51,167.33 183.52,167.64 183.52,167.70 183.54,167.36 183.55,167.06 183.55,166.74 183.55,166.42 183.56,166.06 183.56,165.76 183.56,165.43 183.57,165.07 183.57,164.68 183.57,164.26 183.58,163.95 183.58,163.64 183.58,163.31 183.58,162.96 183.58,162.59 183.59,162.21 183.59,161.81 183.59,161.39 183.59,160.95 183.59,160.49 183.60,160.01 183.60,159.50 183.60,158.97 183.60,158.42 183.60,157.84 183.60,157.53 183.61,157.23 183.61,156.91 183.61,156.58 183.61,156.25 183.61,155.91 183.61,155.56 183.61,155.20 183.61,154.83 183.61,154.45 183.61,154.07 183.62,153.67 183.62,153.26 183.62,152.83 183.62,152.40 183.62,151.95 183.62,151.50 183.62,151.33 183.70,151.33 183.70,151.99 183.70,152.44 183.70,152.87 183.70,153.30 183.70,153.71 183.70,154.11 183.71,154.50 183.71,154.88 183.71,155.25 183.71,155.61 183.71,155.96 183.71,156.30 183.71,156.63 183.71,156.96 183.71,157.28 183.71,157.59 183.72,157.89 183.72,158.48 183.72,159.03 183.72,159.56 183.72,160.07 183.73,160.55 183.73,161.02 183.73,161.46 183.73,161.88 183.73,162.28 183.74,162.66 183.74,163.03 183.74,163.38 183.74,163.71 183.74,164.02 183.75,164.33 183.75,164.75 183.75,165.14 183.75,165.50 183.76,165.83 183.76,166.13 183.76,166.48 183.77,166.79 183.77,167.11 183.78,167.44 183.79,167.70 183.81,167.39 183.82,167.04 183.82,166.69 183.83,166.37 183.83,165.99 183.83,165.68 183.84,165.33 183.84,164.96 183.84,164.55 183.84,164.11 183.85,163.79 183.85,163.46 183.85,163.12 183.85,162.75 183.85,162.37 183.86,161.97 183.86,161.55 183.86,161.11 183.86,160.65 183.86,160.16 183.87,159.66 183.87,159.12 183.87,158.57 183.87,157.98 183.87,157.68 183.87,157.36 183.88,157.04 183.88,156.81 183.98,156.81 183.98,157.13 183.98,157.45 183.98,157.76 183.98,158.06 183.99,158.65 183.99,159.21 183.99,159.74 183.99,160.25 183.99,160.73 184.00,161.19 184.00,161.63 184.00,162.05 184.00,162.46 184.00,162.84 184.01,163.20 184.01,163.55 184.01,163.88 184.01,164.19 184.01,164.63 184.02,165.04 184.02,165.41 184.02,165.75 184.03,166.07 184.03,166.44 184.03,166.76 184.04,167.09 184.05,167.39 184.06,167.70 184.06,167.70 184.08,167.38 184.08,167.07 184.09,166.73 184.09,166.41 184.09,166.03 184.10,165.71 184.10,165.37 184.10,164.99 184.11,164.57 184.11,164.12 184.11,163.81 184.11,163.47 184.12,163.12 184.12,162.75 184.12,162.36 184.12,161.95 184.12,161.52 184.13,161.07 184.13,160.60 184.13,160.10 184.13,159.58 184.13,159.03 184.14,158.46 184.14,157.86 184.14,157.55 184.14,157.23 184.14,156.90 184.14,156.56 184.14,156.21 184.14,155.86 184.14,155.49 184.15,155.12 184.15,154.74 184.15,154.35 184.24,154.35 184.24,154.72 184.24,155.11 184.24,155.49 184.24,155.85 184.24,156.21 184.24,156.56 184.24,156.90 184.24,157.23 184.24,157.55 184.25,157.87 184.25,158.18 184.25,158.77 184.25,159.33 184.25,159.87 184.25,160.38 184.26,160.86 184.26,161.33 184.26,161.77 184.26,162.19 184.26,162.59 184.27,162.97 184.27,163.34 184.27,163.68 184.27,164.01 184.27,164.32 184.28,164.76 184.28,165.16 184.28,165.53 184.29,165.87 184.29,166.18 184.29,166.54 184.30,166.85 184.30,167.17 184.31,167.49 184.32,167.70 184.34,167.38 184.34,167.07 184.35,166.72 184.35,166.38 184.36,166.00 184.36,165.67 184.36,165.31 184.36,164.92 184.37,164.49 184.37,164.19 184.37,163.87 184.37,163.53 184.38,163.17 184.38,162.80 184.38,162.40 184.38,161.99 184.38,161.55 184.39,161.10 184.39,160.62 184.39,160.11 184.39,159.58 184.39,159.03 184.40,158.44 184.40,158.14 184.40,157.83 184.40,157.51 184.40,157.18 184.40,156.85 184.40,156.50 184.40,156.15 184.40,155.93 184.50,155.93 184.50,156.53 184.50,156.88 184.50,157.22 184.50,157.55 184.50,157.87 184.50,158.18 184.51,158.48 184.51,159.07 184.51,159.63 184.51,160.16 184.51,160.67 184.52,161.15 184.52,161.61 184.52,162.04 184.52,162.46 184.52,162.85 184.53,163.23 184.53,163.59 184.53,163.92 184.53,164.25 184.53,164.55 184.54,164.98 184.54,165.37 184.54,165.73 184.55,166.05 184.55,166.44 184.55,166.77 184.56,167.11 184.56,167.41 184.58,167.70 184.59,167.40 184.60,167.09 184.60,166.74 184.61,166.40 184.61,166.01 184.61,165.67 184.62,165.31 184.62,164.91 184.62,164.47 184.63,164.16 184.63,163.83 184.63,163.49 184.63,163.12 184.63,162.74 184.64,162.33 184.64,161.91 184.64,161.46 184.64,160.99 184.64,160.50 184.65,159.98 184.65,159.43 184.65,158.86 184.65,158.26 184.65,157.94 184.65,157.62 184.65,157.29 184.66,156.95 184.66,156.60 184.66,156.25 184.66,155.88 184.66,155.50 184.66,155.12 184.66,154.72 184.66,154.31 184.66,154.12 184.75,154.12 184.75,154.78 184.75,155.18 184.75,155.57 184.75,155.95 184.75,156.32 184.75,156.68 184.75,157.02 184.76,157.36 184.76,157.69 184.76,158.02 184.76,158.33 184.76,158.64 184.76,159.22 184.76,159.78 184.77,160.32 184.77,160.82 184.77,161.31 184.77,161.76 184.77,162.20 184.78,162.62 184.78,163.01 184.78,163.38 184.78,163.74 184.78,164.08 184.79,164.40 184.79,164.70 184.79,165.12 184.79,165.51 184.80,165.86 184.80,166.18 184.80,166.55 184.81,166.87 184.81,167.19 184.82,167.51 184.83,167.70 184.84,167.40 184.85,167.08 184.86,166.72 184.86,166.38 184.86,165.97 184.87,165.63 184.87,165.25 184.87,164.84 184.88,164.39 184.88,164.07 184.88,163.73 184.88,163.37 184.88,163.00 184.89,162.60 184.89,162.18 184.89,161.74 184.89,161.28 184.89,160.79 184.90,160.27 184.90,159.74 184.90,159.17 184.90,158.57 184.90,158.26 184.90,157.98 185.01,157.98 185.01,158.58 185.01,158.89 185.01,159.47 185.01,160.03 185.02,160.56 185.02,161.06 185.02,161.54 185.02,162.00 185.02,162.43 185.03,162.84 185.03,163.23 185.03,163.60 185.03,163.95 185.03,164.28 185.04,164.59 185.04,165.03 185.04,165.43 185.04,165.79 185.05,166.12 185.05,166.51 185.06,166.84 185.06,167.18 185.07,167.50 185.08,167.70 185.09,167.39 185.10,167.06 185.10,166.69 185.11,166.33 185.11,166.02 185.11,165.68 185.12,165.30 185.12,164.88 185.12,164.43 185.12,164.10 185.13,163.76 185.13,163.40 185.13,163.01 185.13,162.61 185.13,162.18 185.14,161.74 185.14,161.26 185.14,160.77 185.14,160.24 185.14,159.69 185.15,159.11 185.15,158.81 185.15,158.50 185.15,158.23 185.25,158.23 185.25,158.58 185.25,158.89 185.26,159.19 185.26,159.77 185.26,160.32 185.26,160.85 185.26,161.34 185.27,161.82 185.27,162.26 185.27,162.69 185.27,163.09 185.27,163.47 185.28,163.84 185.28,164.18 185.28,164.50 185.28,164.81 185.28,165.24 185.29,165.62 185.29,165.98 185.29,166.29 185.30,166.66 185.30,166.97 185.31,167.28 185.31,167.60 185.32,167.70 185.34,167.37 185.34,167.02 185.35,166.72 185.35,166.36 185.35,166.05 185.36,165.71 185.36,165.33 185.36,164.91 185.36,164.61 185.37,164.29 185.37,163.95 185.37,163.59 185.37,163.21 185.37,162.81 185.38,162.39 185.38,161.94 185.38,161.47 185.38,160.98 185.38,160.46 185.39,159.91 185.39,159.33 185.39,159.03 185.39,158.72 185.39,158.40 185.39,158.08 185.39,157.74 185.39,157.40 185.40,157.04 185.40,156.68 185.40,156.31 185.40,155.92 185.40,155.53 185.40,155.12 185.40,154.70 185.40,154.27 185.40,153.82 185.40,153.36 185.41,153.24 185.48,153.24 185.48,153.60 185.48,154.05 185.48,154.49 185.48,154.92 185.49,155.34 185.49,155.74 185.49,156.13 185.49,156.51 185.49,156.88 185.49,157.24 185.49,157.59 185.49,157.94 185.49,158.27 185.49,158.59 185.50,158.91 185.50,159.21 185.50,159.80 185.50,160.36 185.50,160.89 185.50,161.39 185.51,161.87 185.51,162.32 185.51,162.75 185.51,163.16 185.51,163.54 185.52,163.91 185.52,164.25 185.52,164.58 185.52,164.88 185.53,165.31 185.53,165.70 185.53,166.05 185.53,166.36 185.54,166.73 185.54,167.03 185.55,167.38 185.56,167.69 185.56,167.70 185.58,167.40 185.58,167.06 185.59,166.68 185.59,166.30 185.59,165.98 185.60,165.62 185.60,165.22 185.60,164.79 185.60,164.47 185.61,164.14 185.61,163.78 185.61,163.41 185.61,163.01 185.61,162.60 185.62,162.16 185.62,161.69 185.62,161.20 185.62,160.68 185.62,160.14 185.63,159.56 185.63,158.95 185.63,158.64 185.63,158.31 185.63,157.98 185.63,157.64 185.63,157.28 185.63,156.92 185.64,156.55 185.64,156.16 185.64,155.77 185.64,155.36 185.64,154.94 185.64,154.51 185.64,154.06 185.64,153.60 185.64,153.29 185.72,153.29 185.72,153.93 185.72,154.38 185.72,154.82 185.72,155.25 185.72,155.66 185.72,156.06 185.73,156.45 185.73,156.83 185.73,157.20 185.73,157.55 185.73,157.90 185.73,158.24 185.73,158.57 185.73,158.89 185.73,159.20 185.73,159.51 185.74,160.09 185.74,160.64 185.74,161.16 185.74,161.66 185.74,162.13 185.75,162.58 185.75,163.00 185.75,163.40 185.75,163.78 185.75,164.13 185.76,164.47 185.76,164.79 185.76,165.23 185.76,165.63 185.77,165.99 185.77,166.32 185.77,166.69 185.78,167.01 185.78,167.32 185.79,167.62 185.80,167.70 185.81,167.39 185.82,167.04 185.82,166.73 185.83,166.36 185.83,166.03 185.83,165.68 185.83,165.28 185.84,164.84 185.84,164.52 185.84,164.18 185.84,163.83 185.85,163.45 185.85,163.05 185.85,162.63 185.85,162.18 185.85,161.71 185.86,161.21 185.86,160.69 185.86,160.13 185.86,159.55 185.86,159.24 185.86,158.93 185.86,158.61 185.87,158.28 185.87,157.94 185.87,157.59 185.87,157.22 185.87,156.85 185.87,156.47 185.87,156.08 185.87,155.68 185.87,155.26 185.87,155.06 185.95,155.06 185.96,155.49 185.96,155.90 185.96,156.30 185.96,156.69 185.96,157.07 185.96,157.44 185.96,157.79 185.96,158.14 185.96,158.48 185.97,158.80 185.97,159.12 185.97,159.43 185.97,159.73 185.97,160.31 185.97,160.86 185.97,161.38 185.98,161.88 185.98,162.34 185.98,162.78 185.98,163.20 185.98,163.60 185.99,163.97 185.99,164.32 185.99,164.65 185.99,164.97 186.00,165.40 186.00,165.79 186.00,166.14 186.00,166.45 186.01,166.81 186.01,167.17 186.02,167.48 186.03,167.70 186.04,167.39 186.05,167.03 186.05,166.72 186.06,166.34 186.06,166.01 186.06,165.64 186.07,165.23 186.07,164.78 186.07,164.45 186.07,164.11 186.08,163.74 186.08,163.35 186.08,162.94 186.08,162.50 186.08,162.04 186.09,161.55 186.09,161.04 186.09,160.49 186.09,159.92 186.09,159.31 186.09,159.00 186.10,158.67 186.10,158.34 186.10,157.99 186.10,157.64 186.10,157.27 186.10,156.90 186.10,156.51 186.10,156.11 186.10,155.70 186.10,155.28 186.11,154.84 186.11,154.40 186.11,153.93 186.11,153.45 186.11,152.96 186.11,152.45 186.11,151.97 186.18,151.97 186.18,152.29 186.18,152.81 186.18,153.31 186.18,153.80 186.18,154.27 186.18,154.72 186.19,155.17 186.19,155.59 186.19,156.01 186.19,156.41 186.19,156.80 186.19,157.18 186.19,157.55 186.19,157.91 186.19,158.26 186.19,158.60 186.20,158.93 186.20,159.25 186.20,159.56 186.20,159.87 186.20,160.45 186.20,161.00 186.20,161.52 186.21,162.01 186.21,162.48 186.21,162.92 186.21,163.34 186.21,163.73 186.22,164.10 186.22,164.45 186.22,164.78 186.22,165.09 186.23,165.51 186.23,165.90 186.23,166.24 186.23,166.55 186.24,166.90 186.24,167.24 186.25,167.56 186.26,167.70 186.27,167.36 186.28,167.05 186.28,166.74 186.29,166.35 186.29,166.02 186.29,165.65 186.29,165.23 186.30,164.93 186.30,164.61 186.30,164.27 186.30,163.91 186.30,163.52 186.31,163.12 186.31,162.68 186.31,162.23 186.31,161.74 186.31,161.23 186.32,160.69 186.32,160.11 186.32,159.51 186.32,159.19 186.32,158.87 186.32,158.53 186.32,158.50 186.42,158.50 186.42,158.91 186.42,159.24 186.42,159.55 186.42,159.86 186.43,160.45 186.43,161.01 186.43,161.54 186.43,162.04 186.43,162.51 186.44,162.96 186.44,163.38 186.44,163.77 186.44,164.15 186.44,164.50 186.45,164.83 186.45,165.14 186.45,165.57 186.45,165.95 186.46,166.30 186.46,166.60 186.46,166.95 186.47,167.28 186.48,167.59 186.48,167.70 186.50,167.35 186.50,167.04 186.51,166.71 186.51,166.32 186.51,165.98 186.52,165.59 186.52,165.17 186.52,164.86 186.52,164.53 186.53,164.17 186.53,163.80 186.53,163.40 186.53,162.98 186.53,162.53 186.54,162.06 186.54,161.55 186.54,161.02 186.54,160.46 186.54,159.87 186.54,159.56 186.55,159.24 186.55,158.91 186.55,158.57 186.55,158.22 186.55,157.86 186.55,157.49 186.55,157.11 186.55,156.72 186.55,156.32 186.55,155.90 186.56,155.47 186.56,155.03 186.56,154.57 186.56,154.10 186.56,153.61 186.56,153.10 186.56,152.79 186.63,152.79 186.63,153.26 186.63,153.77 186.63,154.25 186.63,154.72 186.63,155.18 186.64,155.62 186.64,156.04 186.64,156.46 186.64,156.86 186.64,157.25 186.64,157.63 186.64,158.00 186.64,158.35 186.64,158.70 186.64,159.04 186.65,159.37 186.65,159.68 186.65,159.99 186.65,160.29 186.65,160.87 186.65,161.41 186.65,161.93 186.66,162.41 186.66,162.87 186.66,163.30 186.66,163.71 186.66,164.09 186.67,164.45 186.67,164.79 186.67,165.11 186.67,165.55 186.68,165.94 186.68,166.29 186.68,166.60 186.69,166.95 186.69,167.29 186.70,167.59 186.71,167.70 186.72,167.38 186.72,167.07 186.73,166.74 186.73,166.35 186.73,166.01 186.74,165.62 186.74,165.19 186.74,164.88 186.74,164.54 186.75,164.18 186.75,163.80 186.75,163.40 186.75,162.97 186.75,162.52 186.76,162.03 186.76,161.52 186.76,160.98 186.76,160.41 186.76,159.80 186.77,159.48 186.77,159.16 186.77,159.02 186.86,159.02 186.87,159.60 186.87,159.92 186.87,160.23 186.87,160.81 186.87,161.37 186.87,161.89 186.88,162.39 186.88,162.85 186.88,163.29 186.88,163.71 186.88,164.10 186.89,164.46 186.89,164.81 186.89,165.13 186.89,165.57 186.90,165.96 186.90,166.32 186.90,166.63 186.91,166.98 186.91,167.31 186.92,167.63 186.92,167.70 186.94,167.39 186.94,167.08 186.95,166.75 186.95,166.35 186.95,166.00 186.96,165.61 186.96,165.17 186.96,164.85 186.96,164.50 186.96,164.14 186.97,163.75 186.97,163.34 186.97,162.90 186.97,162.43 186.97,161.94 186.98,161.41 186.98,160.85 186.98,160.26 186.98,159.96 186.98,159.64 186.98,159.31 186.98,158.98 186.99,158.63 186.99,158.27 186.99,157.90 186.99,157.52 186.99,157.13 186.99,156.73 186.99,156.31 186.99,155.88 186.99,155.44 186.99,154.98 187.00,154.51 187.00,154.02 187.00,153.51 187.00,152.99 187.00,152.45 187.00,151.95 187.06,151.95 187.06,152.33 187.07,152.88 187.07,153.41 187.07,153.92 187.07,154.41 187.07,154.89 187.07,155.36 187.07,155.80 187.07,156.24 187.07,156.66 187.07,157.07 187.08,157.46 187.08,157.85 187.08,158.22 187.08,158.58 187.08,158.93 187.08,159.27 187.08,159.60 187.08,159.92 187.08,160.23 187.08,160.53 187.09,161.11 187.09,161.66 187.09,162.17 187.09,162.66 187.09,163.12 187.10,163.55 187.10,163.95 187.10,164.33 187.10,164.69 187.10,165.02 187.11,165.33 187.11,165.76 187.11,166.14 187.12,166.48 187.12,166.86 187.12,167.17 187.13,167.50 187.14,167.70 187.15,167.38 187.16,167.07 187.16,166.73 187.16,166.33 187.17,165.97 187.17,165.56 187.17,165.11 187.18,164.78 187.18,164.43 187.18,164.06 187.18,163.66 187.18,163.23 187.19,162.78 187.19,162.30 187.19,161.79 187.19,161.24 187.19,160.67 187.19,160.37 187.20,160.06 187.20,159.74 187.20,159.41 187.20,159.07 187.20,158.72 187.20,158.36 187.20,157.99 187.20,157.61 187.20,157.21 187.20,156.81 187.21,156.39 187.21,155.95 187.21,155.51 187.21,155.10 187.28,155.10 187.28,155.80 187.29,156.24 187.29,156.67 187.29,157.08 187.29,157.48 187.29,157.87 187.29,158.24 187.29,158.61 187.29,158.96 187.29,159.31 187.29,159.64 187.30,159.97 187.30,160.28 187.30,160.59 187.30,161.17 187.30,161.72 187.30,162.24 187.31,162.73 187.31,163.19 187.31,163.62 187.31,164.03 187.31,164.41 187.32,164.76 187.32,165.10 187.32,165.41 187.32,165.83 187.33,166.21 187.33,166.54 187.33,166.92 187.34,167.28 187.34,167.60 187.35,167.70 187.36,167.38 187.37,167.05 187.37,166.71 187.38,166.40 187.38,166.05 187.38,165.65 187.38,165.20 187.39,164.87 187.39,164.52 187.39,164.15 187.39,163.75 187.39,163.32 187.40,162.87 187.40,162.38 187.40,161.87 187.40,161.32 187.40,160.75 187.41,160.44 187.41,160.13 187.41,159.81 187.41,159.48 187.41,159.14 187.41,158.78 187.41,158.42 187.41,158.05 187.41,157.66 187.41,157.26 187.42,156.85 187.42,156.43 187.42,155.99 187.42,155.53 187.42,155.33 187.49,155.33 187.49,155.82 187.50,156.26 187.50,156.69 187.50,157.11 187.50,157.52 187.50,29.70" fill="#ff0000" stroke="#ff0000" stroke-width="0.1" stroke-linejoin="bevel"/>
<rect x="187.0" y="164.2" width="132.60000000000002" height="3.5" fill="#ff0000" fill-opacity="0.3"/>
<polygon points="187.00,29.70 187.00,167.70 187.02,159.13 187.14,167.77 187.50,161.70 187.86,167.62 188.02,161.63 188.09,167.05 188.50,160.00 188.91,167.36 189.02,160.68 189.05,167.63 189.50,162.77 189.95,166.85 190.02,161.38 190.14,166.62 190.50,156.60 190.86,167.55 191.02,159.50 191.14,167.52 191.50,154.90 191.86,166.84 192.02,162.12 192.18,167.70 192.50,153.20 192.82,166.72 193.02,164.50 193.19,166.72 193.50,151.50 193.81,167.54 194.02,162.66 194.15,166.71 194.50,153.60 194.85,166.96 195.02,164.37 195.08,167.25 195.50,157.78 195.92,166.97 196.02,164.16 196.14,167.43 196.50,146.40 196.86,167.42 197.02,160.26 197.10,167.24 197.50,159.58 197.90,167.65 198.02,159.87 198.14,166.73 198.50,159.24 198.86,167.77 199.02,161.74 199.22,167.45 199.50,158.85 199.78,166.93 200.02,158.83 200.05,167.42 200.50,163.18 200.95,167.49 201.02,162.08 201.08,166.67 201.50,125.00 201.92,167.39 202.02,163.23 202.21,167.72 202.50,140.35 202.79,167.32 203.02,160.55 203.05,167.15 203.50,159.51 203.95,167.01 204.02,163.84 204.05,167.62 204.50,158.21 204.95,167.05 205.02,162.54 205.09,166.89 205.50,138.78 205.91,167.76 206.02,164.33 206.20,167.51 206.50,129.75 206.80,167.37 207.02,164.23 207.05,167.61 207.50,160.25 207.95,167.20 208.02,161.37 208.05,167.75 208.50,163.08 208.95,167.66 209.02,163.92 209.05,167.03 209.50,162.43 209.95,167.38 210.02,161.33 210.09,167.66 210.50,152.24 210.91,167.70 211.02,159.86 211.05,166.96 211.50,158.35 211.95,167.72 212.02,159.89 212.05,167.24 212.50,163.69 212.95,167.74 213.02,159.96 213.05,166.89 213.50,159.07 213.95,167.48 214.02,161.07 214.17,167.20 214.50,158.16 214.83,167.46 215.02,160.29 215.05,167.05 215.50,163.02 215.95,167.37 216.02,161.59 216.16,167.14 216.50,138.28 216.84,166.99 217.02,164.53 217.21,167.41 217.50,130.62 217.79,167.14 218.02,160.00 218.08,167.61 218.50,127.00 218.92,166.84 219.02,160.83 219.05,166.89 219.50,158.39 219.95,167.44 220.02,160.56 220.17,167.62 220.50,140.22 220.83,166.75 221.02,161.31 221.05,166.86 221.50,160.78 221.95,167.26 222.02,161.72 222.11,166.95 222.50,147.29 222.89,166.84 223.02,164.15 223.05,166.75 223.50,163.94 223.95,167.35 224.02,163.87 224.05,167.29 224.50,161.52 224.95,166.78 225.02,163.90 225.05,167.17 225.50,161.80 225.95,167.20 226.02,161.94 226.20,167.79 226.50,135.69 226.80,167.72 227.02,158.75 227.08,166.63 227.50,130.00 227.92,167.75 228.02,161.45 228.16,167.55 228.50,158.45 228.84,166.94 229.02,162.27 229.10,166.88 229.50,155.83 229.90,167.28 230.02,162.53 230.05,167.70 230.50,157.90 230.95,167.61 231.02,160.26 231.21,167.54 231.50,159.13 231.79,167.34 232.02,159.45 232.05,167.75 232.50,164.50 232.95,167.26 233.02,162.26 233.05,166.74 233.50,162.14 233.95,166.69 234.02,164.18 234.05,167.62 234.50,162.14 234.95,167.11 235.02,164.00 235.05,166.70 235.50,159.04 235.95,167.26 236.02,160.66 236.05,166.64 236.50,158.61 236.95,167.09 237.02,160.55 237.18,166.94 237.50,157.35 237.82,167.41 238.02,158.89 238.08,167.20 238.50,137.00 238.92,167.26 239.02,162.71 239.20,166.68 239.50,149.50 239.80,167.21 240.02,162.35 240.16,167.65 240.50,145.96 240.84,167.76 241.02,159.90 241.09,166.71 241.50,148.49 241.91,166.68 242.02,159.91 242.16,167.32 242.50,148.33 242.84,167.75 243.02,161.90 243.08,167.50 243.50,138.70 243.92,167.76 244.02,163.72 244.05,167.36 244.50,161.65 244.95,167.01 245.02,159.98 245.15,166.76 245.50,146.02 245.85,167.30 246.02,163.93 246.14,167.53 246.50,159.56 246.86,167.72 247.02,163.60 247.14,166.73 247.50,153.83 247.86,167.36 248.02,164.40 248.17,167.42 248.50,159.70 248.83,167.34 249.02,160.76 249.12,166.65 249.50,144.91 249.88,167.37 250.02,159.77 250.10,166.90 250.50,156.71 250.90,166.67 251.02,162.23 251.05,167.78 251.50,163.80 251.95,167.56 252.02,161.62 252.08,166.97 252.50,136.00 252.92,167.27 253.02,163.21 253.05,166.99 253.50,164.21 253.95,167.74 254.02,159.73 254.05,167.31 254.50,159.92 254.95,167.45 255.02,163.97 255.19,167.77 255.50,159.53 255.81,166.83 256.02,162.85 256.05,167.43 256.50,163.21 256.95,167.10 257.02,159.24 257.17,167.77 257.50,158.69 257.83,167.53 258.02,162.44 258.12,166.74 258.50,155.47 258.88,167.44 259.02,163.62 259.05,167.06 259.50,159.15 259.95,167.59 260.02,162.17 260.05,166.72 260.50,159.75 260.95,166.86 261.02,162.39 261.12,167.11 261.50,134.49 261.88,166.98 262.02,159.62 262.15,166.95 262.50,146.60 262.85,166.68 263.02,164.14 263.09,167.33 263.50,152.88 263.91,166.84 264.02,159.85 264.08,167.26 264.50,135.00 264.92,167.18 265.02,163.79 265.05,167.06 265.50,163.63 265.95,167.05 266.02,161.55 266.05,166.65 266.50,160.83 266.95,167.58 267.02,161.68 267.13,167.19 267.50,144.25 267.87,167.41 268.02,163.18 268.16,167.23 268.50,134.48 268.84,167.49 269.02,158.82 269.05,166.76 269.50,162.50 269.95,167.09 270.02,160.37 270.11,167.12 270.50,132.29 270.89,166.95 271.02,161.85 271.19,167.77 271.50,144.54 271.81,166.99 272.02,159.79 272.08,166.71 272.50,122.00 272.92,167.48 273.02,163.71 273.05,166.64 273.50,158.41 273.95,167.61 274.02,159.10 274.20,167.62 274.50,153.18 274.80,167.78 275.02,162.40 275.16,166.91 275.50,144.84 275.84,166.83 276.02,162.99 276.08,167.16 276.50,130.00 276.92,167.68 277.02,162.74 277.17,167.11 277.50,154.56 277.83,167.40 278.02,159.51 278.05,167.79 278.50,164.61 278.95,167.73 279.02,159.18 279.05,166.65 279.50,159.60 279.95,167.54 280.02,161.84 280.12,166.84 280.50,148.49 280.88,167.50 281.02,159.98 281.08,166.71 281.50,155.07 281.92,167.10 282.02,163.75 282.05,166.62 282.50,162.38 282.95,167.26 283.02,160.87 283.12,166.99 283.50,145.98 283.88,167.75 284.02,158.85 284.08,166.69 284.50,129.00 284.92,167.00 285.02,159.44 285.20,166.73 285.50,137.82 285.80,167.28 286.02,158.88 286.10,166.95 286.50,144.90 286.90,167.06 287.02,162.84 287.14,166.65 287.50,158.72 287.86,166.98 288.02,163.06 288.15,167.24 288.50,150.70 288.85,167.06 289.02,159.09 289.05,167.67 289.50,162.68 289.95,167.38 290.02,164.43 290.09,167.38 290.50,155.31 290.91,166.79 291.02,158.76 291.05,167.58 291.50,163.04 291.95,166.91 292.02,161.38 292.05,166.70 292.50,159.43 292.95,166.62 293.02,164.49 293.16,167.42 293.50,136.22 293.84,167.20 294.02,159.79 294.14,166.90 294.50,155.62 294.86,166.65 295.02,164.21 295.05,166.92 295.50,160.25 295.95,167.10 296.02,163.49 296.08,167.73 296.50,136.00 296.92,166.89 297.02,162.04 297.05,167.79 297.50,161.45 297.95,167.13 298.02,163.70 298.18,167.39 298.50,155.70 298.82,166.95 299.02,163.55 299.09,167.66 299.50,145.52 299.91,167.70 300.02,161.82 300.21,167.55 300.50,157.73 300.79,167.53 301.02,163.12 301.05,167.60 301.50,162.15 301.95,167.69 302.02,164.49 302.10,166.94 302.50,149.69 302.90,167.56 303.02,163.17 303.17,166.98 303.50,151.07 303.83,167.70 304.02,164.02 304.05,167.18 304.50,160.72 304.95,166.72 305.02,161.18 305.14,166.62 305.50,146.94 305.86,166.63 306.02,162.87 306.05,167.64 306.50,159.82 306.95,167.08 307.02,160.19 307.22,166.78 307.50,157.85 307.78,166.94 308.02,160.03 308.20,167.08 308.50,151.61 308.80,166.79 309.02,161.48 309.05,166.96 309.50,162.88 309.95,167.65 310.02,160.43 310.14,167.38 310.50,147.78 310.86,167.38 311.02,158.87 311.20,167.46 311.50,151.89 311.80,166.78 312.02,159.46 312.08,167.35 312.50,148.00 312.92,166.76 313.02,162.51 313.12,167.43 313.50,155.40 313.88,166.65 314.02,162.73 314.05,167.54 314.50,159.75 314.95,166.76 315.02,159.65 315.16,167.04 315.50,159.36 315.84,167.47 316.02,162.01 316.22,167.48 316.50,136.29 316.78,167.61 317.02,162.36 317.10,167.10 317.50,152.26 317.90,167.07 318.02,161.03 318.05,166.90 318.50,161.19 318.95,166.70 319.60,167.70 319.60,29.70" fill="#ff0000"/>
<path d="M135.44,29.7V125M125.3,29.7V100" stroke="#fff" stroke-width="0.09" fill="none"/>
<polygon points="157.05,167.90 157.30,121.70 157.55,167.90" fill="#ffffff"/>
<polygon points="163.90,167.90 164.20,116.50 164.50,167.90" fill="#ffffff"/>
<polygon points="168.05,167.90 168.30,134.00 168.55,167.90" fill="#ffffff"/>
<polygon points="172.35,167.90 172.60,137.00 172.85,167.90" fill="#ffffff"/>
<polygon points="177.15,167.90 177.40,142.00 177.65,167.90" fill="#ffffff"/>
<polygon points="181.25,167.90 181.50,136.00 181.75,167.90" fill="#ffffff"/>
<polygon points="183.95,167.90 184.20,146.00 184.45,167.90" fill="#ffffff"/>
<polygon points="135.00,29.70 135.00,29.70 135.30,29.70 135.60,29.70 135.90,29.70 136.20,29.70 136.50,29.70 136.80,29.70 137.10,29.70 137.40,29.70 137.70,29.70 138.00,29.70 138.30,29.70 138.60,29.70 138.90,29.70 139.20,29.70 139.50,29.70 139.80,29.70 140.10,29.70 140.40,29.70 140.70,29.70 141.00,29.70 141.14,29.70 141.34,29.94 141.54,30.21 141.74,30.47 141.94,30.74 142.14,31.01 142.34,31.27 142.54,31.54 142.74,31.80 142.94,32.07 143.14,32.33 143.34,32.60 143.54,32.87 143.74,33.13 143.94,33.40 144.14,33.66 144.34,33.93 144.54,34.19 144.74,34.46 144.94,34.72 145.14,34.99 145.34,35.25 145.54,35.52 145.74,35.78 145.94,36.05 146.14,36.31 146.34,36.58 146.54,36.84 146.74,37.11 146.94,37.37 147.14,37.64 147.34,37.90 147.54,38.17 147.74,38.43 147.94,38.70 148.14,38.96 148.34,39.22 148.54,39.49 148.74,39.75 148.94,40.02 149.14,40.28 149.34,40.54 149.54,40.81 149.74,41.07 149.94,41.33 150.14,41.60 150.34,41.86 150.54,42.12 150.74,42.38 150.94,42.65 151.14,42.91 151.34,43.17 151.54,43.43 151.74,43.70 151.94,43.96 152.14,44.22 152.34,44.48 152.54,44.74 152.74,45.01 152.94,45.27 153.14,45.53 153.34,45.79 153.54,46.05 153.74,46.31 153.94,46.57 154.14,46.83 154.34,47.09 154.54,47.35 154.74,47.61 154.94,47.87 155.14,48.13 155.34,48.39 155.54,48.65 155.74,48.90 155.94,49.16 156.14,49.42 156.34,49.68 156.54,49.93 156.74,50.19 156.94,50.45 157.14,50.71 157.34,50.96 157.54,51.22 157.74,51.47 157.94,51.73 158.14,51.98 158.34,52.24 158.54,52.49 158.74,52.75 158.94,53.00 159.14,53.25 159.34,53.50 159.54,53.76 159.74,54.01 159.94,54.26 160.14,54.51 160.34,54.76 160.54,55.01 160.74,55.26 160.94,55.51 161.14,55.76 161.34,56.01 161.54,56.25 161.74,56.50 161.94,56.75 162.14,56.99 162.34,57.24 162.54,57.48 162.74,57.73 162.94,57.97 163.14,58.21 163.34,58.45 163.54,58.70 163.74,58.94 163.94,59.18 164.14,59.41 164.34,59.65 164.54,59.89 164.74,60.13 164.94,60.36 165.14,60.60 165.34,60.83 165.54,61.06 165.74,61.29 165.94,61.53 166.14,61.76 166.34,61.98 166.54,62.21 166.74,62.44 166.94,62.66 167.14,62.89 167.36,63.13 167.58,63.37 167.80,63.62 168.02,63.86 168.24,64.10 168.46,64.33 168.68,64.57 168.90,64.80 169.12,65.03 169.34,65.26 169.56,65.49 169.78,65.71 170.00,65.93 170.22,66.15 170.44,66.37 170.66,66.59 170.88,66.80 171.10,67.01 171.32,67.22 171.54,67.42 171.78,67.64 172.02,67.86 172.26,68.07 172.50,68.28 172.74,68.49 172.98,68.69 173.22,68.88 173.46,69.07 173.70,69.26 173.94,69.44 174.20,69.63 174.46,69.82 174.72,70.00 174.98,70.17 175.24,70.34 175.50,70.49 175.76,70.64 176.04,70.80 176.32,70.94 176.60,71.07 176.88,71.19 177.16,71.30 177.46,71.41 177.76,71.50 178.06,71.57 178.36,71.63 178.66,71.67 178.96,71.70 179.16,71.70 179.46,71.69 179.76,71.66 180.06,71.60 180.36,71.52 180.66,71.42 180.94,71.29 181.22,71.14 181.48,70.98 181.74,70.79 181.98,70.59 182.20,70.38 182.42,70.16 182.62,69.93 182.82,69.68 183.00,69.44 183.18,69.18 183.36,68.90 183.52,68.63 183.68,68.35 183.84,68.05 183.98,67.77 184.12,67.47 184.26,67.16 184.38,66.88 184.50,66.59 184.62,66.28 184.74,65.96 184.86,65.62 184.96,65.33 185.06,65.02 185.16,64.70 185.26,64.37 185.36,64.03 185.46,63.67 185.54,63.38 185.62,63.07 185.70,62.76 185.78,62.43 185.86,62.09 185.94,61.74 186.02,61.38 186.10,61.01 186.18,60.62 186.24,60.32 186.30,60.01 186.36,59.70 186.42,59.37 186.48,59.04 186.54,58.70 186.60,58.34 186.66,57.98 186.72,57.61 186.78,57.22 186.84,56.82 186.90,56.42 186.96,55.99 187.02,55.56 187.06,55.26 187.10,54.96 187.14,54.64 187.18,54.33 187.22,54.00 187.26,53.67 187.30,52.70 187.46,52.96 187.62,53.23 187.78,53.50 187.94,53.77 188.10,54.05 188.26,54.34 188.42,54.65 188.56,54.92 188.70,55.20 188.84,55.50 188.98,55.80 189.12,56.12 189.24,56.40 189.36,56.69 189.48,56.98 189.60,57.29 189.72,57.60 189.84,57.93 189.96,58.25 190.08,58.59 190.18,58.88 190.28,59.17 190.38,59.46 190.48,59.76 190.58,60.07 190.68,60.37 190.78,60.68 190.88,60.99 190.98,61.30 191.08,61.61 191.18,61.93 191.28,62.24 191.38,62.56 191.48,62.87 191.58,63.19 191.68,63.50 191.78,63.81 191.88,64.11 191.98,64.42 192.08,64.72 192.18,65.02 192.28,65.31 192.38,65.60 192.48,65.89 192.60,66.22 192.72,66.55 192.84,66.87 192.96,67.18 193.08,67.49 193.20,67.78 193.32,68.07 193.44,68.35 193.58,68.66 193.72,68.96 193.86,69.25 194.00,69.54 194.14,69.81 194.30,70.11 194.46,70.40 194.62,70.68 194.78,70.95 194.94,71.22 195.10,71.48 195.24,71.70 195.54,71.60 195.78,71.38 195.96,71.13 196.12,70.84 196.26,70.53 196.38,70.22 196.48,69.93 196.58,69.60 196.68,69.25 196.76,68.94 196.84,68.61 196.92,68.26 197.00,67.88 197.06,67.57 197.12,67.25 197.18,66.92 197.24,66.57 197.30,66.20 197.36,65.81 197.42,65.41 197.48,64.98 197.54,64.53 197.58,64.22 197.62,63.89 197.66,63.56 197.70,63.22 197.74,62.86 197.78,62.49 197.82,62.11 197.86,61.71 197.90,61.30 197.94,60.88 197.98,60.44 198.02,59.99 198.06,59.51 198.10,59.02 198.14,58.52 198.18,57.99 198.22,57.44 198.26,56.86 198.30,56.27 198.32,55.96 198.34,55.64 198.36,55.32 198.38,54.99 198.40,54.66 198.42,54.31 198.44,54.30 198.48,54.30 198.56,54.70 198.62,55.09 198.68,55.48 198.74,55.86 198.80,56.24 198.86,56.62 198.92,57.00 198.98,57.37 199.04,57.73 199.10,58.10 199.16,58.46 199.22,58.82 199.28,59.17 199.34,59.52 199.40,59.86 199.46,60.21 199.52,60.54 199.58,60.88 199.64,61.21 199.70,61.53 199.76,61.86 199.82,62.18 199.88,62.49 199.94,62.80 200.00,63.11 200.06,63.41 200.12,63.71 200.18,64.01 200.26,64.39 200.34,64.77 200.42,65.14 200.50,65.50 200.58,65.86 200.66,66.21 200.74,66.55 200.82,66.88 200.90,67.20 200.98,67.52 201.06,67.82 201.14,68.12 201.24,68.48 201.34,68.82 201.44,69.15 201.54,69.47 201.64,69.77 201.76,70.10 201.88,70.41 202.00,70.70 202.14,71.00 202.30,71.29 202.48,71.54 202.70,71.70 202.96,71.51 203.10,71.25 203.22,70.92 203.32,70.57 203.40,70.24 203.48,69.86 203.54,69.54 203.60,69.20 203.66,68.82 203.72,68.41 203.78,67.97 203.82,67.65 203.86,67.32 203.90,66.97 203.94,66.60 203.98,66.21 204.02,65.80 204.06,65.37 204.10,64.92 204.14,64.45 204.18,63.95 204.22,63.43 204.26,62.88 204.30,62.30 204.32,62.00 204.34,61.69 204.36,61.37 204.38,61.04 204.40,60.71 204.42,60.36 204.44,60.01 204.46,59.64 204.48,59.27 204.50,58.89 204.52,58.49 204.54,58.08 204.56,57.66 204.58,57.23 204.60,55.30 204.64,55.65 204.68,55.99 204.72,56.33 204.76,56.66 204.80,57.00 204.84,57.33 204.88,57.66 204.92,57.98 204.96,58.31 205.00,58.63 205.04,58.94 205.08,59.26 205.12,59.57 205.16,59.88 205.20,60.18 205.24,60.48 205.28,60.78 205.34,61.23 205.40,61.66 205.46,62.09 205.52,62.51 205.58,62.93 205.64,63.33 205.70,63.73 205.76,64.13 205.82,64.51 205.88,64.89 205.94,65.26 206.00,65.62 206.06,65.98 206.12,66.32 206.18,66.66 206.24,66.99 206.30,67.31 206.36,67.63 206.42,67.93 206.48,68.22 206.56,68.60 206.64,68.97 206.72,69.31 206.80,69.64 206.88,69.95 206.96,70.24 207.06,70.57 207.16,70.87 207.28,71.18 207.42,71.47 207.62,71.70 207.64,71.70 207.84,71.45 207.94,71.15 208.02,70.82 208.08,70.51 208.14,70.16 208.20,69.76 208.24,69.46 208.28,69.14 208.30,57.50 208.34,57.80 208.38,58.10 208.44,58.54 208.50,58.98 208.56,59.41 208.60,60.00 208.64,60.00 208.70,60.40 208.76,60.81 208.82,61.22 208.88,61.62 208.94,62.02 209.00,62.41 209.06,62.79 209.12,63.17 209.18,63.54 209.24,63.91 209.30,64.27 209.36,64.62 209.42,64.97 209.48,65.31 209.54,65.64 209.60,65.97 209.66,66.28 209.72,66.60 209.78,66.90 209.84,67.20 209.92,67.59 210.00,67.96 210.08,68.32 210.16,68.67 210.24,69.00 210.32,69.32 210.40,69.62 210.50,69.97 210.60,70.30 210.70,70.61 210.82,70.93 210.94,71.21 211.10,71.51 211.30,71.70 211.48,71.42 211.56,71.09 211.60,62.50 211.90,62.50 211.96,62.50 212.02,62.83 212.08,63.21 212.14,63.59 212.20,63.95 212.26,64.31 212.32,64.67 212.38,65.02 212.44,65.36 212.50,65.69 212.56,66.02 212.62,66.34 212.68,66.66 212.74,66.96 212.80,67.26 212.88,67.65 212.96,68.02 213.04,68.38 213.12,68.73 213.20,69.06 213.28,69.38 213.36,69.68 213.46,70.03 213.56,70.36 213.66,70.66 213.78,70.98 213.92,71.30 214.08,71.57 214.18,71.67 214.20,65.00 214.50,65.00 214.64,65.00 214.72,65.38 214.78,65.69 214.84,65.99 214.90,66.28 214.98,66.66 215.06,67.04 215.14,67.40 215.22,67.75 215.30,68.09 215.38,68.42 215.46,68.73 215.54,69.04 215.62,69.33 215.72,69.67 215.82,70.00 215.92,70.30 216.04,70.64 216.16,70.94 216.28,71.20 216.30,67.00 216.60,67.00 216.78,67.00 216.88,67.33 216.96,67.62 217.06,67.97 217.16,68.31 217.26,68.64 217.36,68.96 217.46,69.26 217.56,69.55 217.68,69.88 217.80,70.19 217.92,70.47 218.06,70.78 218.20,71.05 218.28,71.19 218.30,67.00 218.40,67.32 218.50,67.63 218.60,67.94 218.70,68.23 218.80,68.52 218.92,68.85 219.00,71.70 219.30,71.70 219.60,71.70 219.90,71.70 220.20,71.70 220.50,71.70 220.80,71.70 220.98,71.70 220.98,29.70" fill="#0000ff"/>
<polygon points="50.10,108.80 50.44,108.79 50.86,108.78 51.35,108.77 51.91,108.75 52.52,108.74 53.16,108.72 53.82,108.70 54.49,108.68 55.16,108.66 55.80,108.64 56.42,108.62 57.00,108.60 57.54,108.58 58.06,108.57 58.56,108.55 59.06,108.54 59.55,108.52 60.04,108.51 60.54,108.49 61.04,108.46 61.57,108.43 62.12,108.40 62.69,108.35 63.30,108.30 63.95,108.24 64.63,108.17 65.35,108.09 66.10,108.01 66.86,107.92 67.62,107.82 68.40,107.73 69.16,107.63 69.91,107.52 70.64,107.42 71.34,107.31 72.00,107.20 72.62,107.10 73.20,107.00 73.76,106.91 74.29,106.81 74.81,106.72 75.32,106.62 75.83,106.51 76.36,106.39 76.90,106.25 77.46,106.09 78.06,105.91 78.70,105.70 79.39,105.46 80.12,105.19 80.89,104.89 81.69,104.57 82.50,104.23 83.33,103.88 84.15,103.53 84.96,103.18 85.75,102.83 86.51,102.50 87.23,102.19 87.90,101.90 88.53,101.64 89.12,101.39 89.68,101.16 90.22,100.94 90.74,100.73 91.24,100.53 91.74,100.32 92.22,100.10 92.71,99.88 93.20,99.64 93.69,99.38 94.20,99.10 94.72,98.80 95.23,98.50 95.74,98.19 96.24,97.86 96.75,97.53 97.26,97.19 97.76,96.83 98.27,96.47 98.77,96.10 99.28,95.71 99.79,95.31 100.30,94.90 100.81,94.48 101.33,94.05 101.85,93.60 102.36,93.15 102.88,92.69 103.40,92.21 103.92,91.73 104.44,91.23 104.95,90.71 105.47,90.19 105.99,89.65 106.50,89.10 107.02,88.53 107.54,87.94 108.07,87.33 108.60,86.70 109.12,86.07 109.65,85.42 110.17,84.76 110.68,84.11 111.18,83.45 111.67,82.79 112.14,82.14 112.60,81.50 113.04,80.86 113.46,80.23 113.86,79.59 114.26,78.96 114.64,78.32 115.01,77.69 115.38,77.05 115.74,76.41 116.11,75.76 116.47,75.11 116.83,74.46 117.20,73.80 117.57,73.13 117.94,72.46 118.31,71.77 118.69,71.08 119.05,70.39 119.42,69.69 119.78,69.00 120.14,68.31 120.49,67.62 120.83,66.94 121.17,66.26 121.50,65.60 121.82,64.96 122.12,64.34 122.41,63.75 122.69,63.17 122.96,62.59 123.23,62.01 123.50,61.41 123.78,60.80 124.07,60.16 124.36,59.49 124.67,58.77 125.00,58.00 125.35,57.17 125.71,56.28 126.09,55.35 126.49,54.37 126.88,53.37 127.29,52.35 127.69,51.33 128.09,50.31 128.49,49.30 128.87,48.33 129.24,47.39 129.60,46.50 129.94,45.65 130.28,44.81 130.62,43.99 130.94,43.19 131.27,42.41 131.58,41.64 131.89,40.88 132.19,40.14 132.48,39.41 132.76,38.70 133.04,37.99 133.30,37.30 133.56,36.60 133.81,35.89 134.06,35.18 134.31,34.47 134.54,33.77 134.77,33.09 134.98,32.45 135.18,31.84 135.36,31.29 135.53,30.79 135.68,30.36 135.80,30.00 135.90,29.73 135.97,29.54 136.02,29.43 136.04,29.37 136.06,29.36 136.06,29.39 136.05,29.45 136.03,29.52 136.02,29.59 136.00,29.65 136.00,29.69 136.00,29.70 319.60,29.70 319.60,13.95 50.10,13.95" fill="#808080"/>
<polyline points="50.10,108.80 50.44,108.79 50.86,108.78 51.35,108.77 51.91,108.75 52.52,108.74 53.16,108.72 53.82,108.70 54.49,108.68 55.16,108.66 55.80,108.64 56.42,108.62 57.00,108.60 57.54,108.58 58.06,108.57 58.56,108.55 59.06,108.54 59.55,108.52 60.04,108.51 60.54,108.49 61.04,108.46 61.57,108.43 62.12,108.40 62.69,108.35 63.30,108.30 63.95,108.24 64.63,108.17 65.35,108.09 66.10,108.01 66.86,107.92 67.62,107.82 68.40,107.73 69.16,107.63 69.91,107.52 70.64,107.42 71.34,107.31 72.00,107.20 72.62,107.10 73.20,107.00 73.76,106.91 74.29,106.81 74.81,106.72 75.32,106.62 75.83,106.51 76.36,106.39 76.90,106.25 77.46,106.09 78.06,105.91 78.70,105.70 79.39,105.46 80.12,105.19 80.89,104.89 81.69,104.57 82.50,104.23 83.33,103.88 84.15,103.53 84.96,103.18 85.75,102.83 86.51,102.50 87.23,102.19 87.90,101.90 88.53,101.64 89.12,101.39 89.68,101.16 90.22,100.94 90.74,100.73 91.24,100.53 91.74,100.32 92.22,100.10 92.71,99.88 93.20,99.64 93.69,99.38 94.20,99.10 94.72,98.80 95.23,98.50 95.74,98.19 96.24,97.86 96.75,97.53 97.26,97.19 97.76,96.83 98.27,96.47 98.77,96.10 99.28,95.71 99.79,95.31 100.30,94.90 100.81,94.48 101.33,94.05 101.85,93.60 102.36,93.15 102.88,92.69 103.40,92.21 103.92,91.73 104.44,91.23 104.95,90.71 105.47,90.19 105.99,89.65 106.50,89.10 107.02,88.53 107.54,87.94 108.07,87.33 108.60,86.70 109.12,86.07 109.65,85.42 110.17,84.76 110.68,84.11 111.18,83.45 111.67,82.79 112.14,82.14 112.60,81.50 113.04,80.86 113.46,80.23 113.86,79.59 114.26,78.96 114.64,78.32 115.01,77.69 115.38,77.05 115.74,76.41 116.11,75.76 116.47,75.11 116.83,74.46 117.20,73.80 117.57,73.13 117.94,72.46 118.31,71.77 118.69,71.08 119.05,70.39 119.42,69.69 119.78,69.00 120.14,68.31 120.49,67.62 120.83,66.94 121.17,66.26 121.50,65.60 121.82,64.96 122.12,64.34 122.41,63.75 122.69,63.17 122.96,62.59 123.23,62.01 123.50,61.41 123.78,60.80 124.07,60.16 124.36,59.49 124.67,58.77 125.00,58.00 125.35,57.17 125.71,56.28 126.09,55.35 126.49,54.37 126.88,53.37 127.29,52.35 127.69,51.33 128.09,50.31 128.49,49.30 128.87,48.33 129.24,47.39 129.60,46.50 129.94,45.65 130.28,44.81 130.62,43.99 130.94,43.19 131.27,42.41 131.58,41.64 131.89,40.88 132.19,40.14 132.48,39.41 132.76,38.70 133.04,37.99 133.30,37.30 133.56,36.60 133.81,35.89 134.06,35.18 134.31,34.47 134.54,33.77 134.77,33.09 134.98,32.45 135.18,31.84 135.36,31.29 135.53,30.79 135.68,30.36 135.80,30.00 135.90,29.73 135.97,29.54 136.02,29.43 136.04,29.37 136.06,29.36 136.06,29.39 136.05,29.45 136.03,29.52 136.02,29.59 136.00,29.65 136.00,29.69 136.00,29.70 319.60,29.70" fill="none" stroke="#2020d0" stroke-width="0.5" stroke-opacity="0.7"/>
<path d="M138,13.950000000000001H177" fill="none" stroke="#2020d0" stroke-width="0.5" stroke-opacity="0.5"/>
<polygon points="50.10,102.60 50.44,102.43 50.86,102.21 51.35,101.95 51.91,101.66 52.52,101.35 53.16,101.01 53.82,100.67 54.49,100.32 55.16,99.97 55.80,99.63 56.42,99.30 57.00,99.00 57.54,98.71 58.07,98.43 58.58,98.15 59.09,97.88 59.60,97.60 60.10,97.33 60.61,97.06 61.12,96.78 61.64,96.49 62.18,96.20 62.73,95.91 63.30,95.60 63.89,95.28 64.50,94.96 65.13,94.63 65.76,94.29 66.41,93.95 67.06,93.61 67.72,93.26 68.38,92.91 69.04,92.56 69.70,92.20 70.35,91.85 71.00,91.50 71.65,91.15 72.30,90.80 72.96,90.45 73.62,90.09 74.28,89.74 74.94,89.38 75.59,89.02 76.24,88.66 76.87,88.30 77.50,87.94 78.11,87.57 78.70,87.20 79.26,86.83 79.80,86.47 80.31,86.12 80.80,85.76 81.28,85.40 81.76,85.04 82.24,84.67 82.74,84.29 83.25,83.89 83.80,83.48 84.38,83.05 85.00,82.60 85.67,82.13 86.37,81.65 87.11,81.15 87.87,80.64 88.65,80.12 89.45,79.59 90.26,79.04 91.06,78.48 91.87,77.90 92.66,77.32 93.44,76.71 94.20,76.10 94.95,75.46 95.70,74.80 96.45,74.12 97.21,73.41 97.96,72.70 98.70,71.97 99.44,71.25 100.16,70.52 100.87,69.80 101.57,69.08 102.24,68.38 102.90,67.70 103.54,67.03 104.17,66.36 104.78,65.68 105.38,65.01 105.96,64.35 106.54,63.69 107.10,63.05 107.64,62.41 108.18,61.78 108.70,61.17 109.21,60.58 109.70,60.00 110.17,59.46 110.59,58.97 110.99,58.51 111.37,58.08 111.73,57.66 112.09,57.24 112.46,56.81 112.83,56.36 113.22,55.87 113.64,55.34 114.10,54.75 114.60,54.10 115.14,53.38 115.72,52.60 116.32,51.78 116.95,50.92 117.60,50.02 118.26,49.10 118.94,48.16 119.61,47.20 120.30,46.24 120.97,45.29 121.64,44.33 122.30,43.40 122.96,42.46 123.65,41.48 124.35,40.47 125.06,39.46 125.77,38.43 126.48,37.41 127.17,36.41 127.85,35.42 128.49,34.47 129.11,33.56 129.68,32.70 130.20,31.90 130.66,31.18 131.07,30.53 131.43,29.94 131.76,29.40 132.05,28.89 132.33,28.40 132.60,27.91 132.88,27.41 133.16,26.88 133.47,26.32 133.82,25.69 134.20,25.00 134.64,24.21 135.13,23.31 135.66,22.34 136.21,21.32 136.78,20.27 137.35,19.22 137.90,18.19 138.43,17.21 138.92,16.31 139.35,15.51 139.71,14.83 140.00,14.30 50.10,14.30" fill="#4d4d4d" stroke="#000" stroke-width="0.8" stroke-linejoin="round"/>
<polygon points="175.20,14.30 215.00,67.30 216.12,68.71 217.63,70.61 219.43,72.87 221.43,75.37 223.50,77.98 225.56,80.57 227.49,83.02 229.20,85.20 230.75,87.20 232.27,89.20 233.74,91.15 235.15,93.03 236.49,94.82 237.76,96.48 238.93,97.98 240.00,99.30 240.94,100.41 241.75,101.31 242.45,102.05 243.08,102.67 243.66,103.21 244.23,103.70 244.80,104.18 245.40,104.70 246.03,105.23 246.66,105.74 247.28,106.21 247.88,106.65 248.47,107.05 249.04,107.41 249.58,107.73 250.10,108.00 250.59,108.21 251.05,108.37 251.49,108.48 251.91,108.54 252.31,108.58 252.69,108.60 253.05,108.60 253.40,108.60 253.72,108.58 254.01,108.54 254.28,108.47 254.54,108.39 254.78,108.29 255.02,108.19 255.26,108.09 255.50,108.00 255.75,107.89 255.98,107.75 256.22,107.60 256.45,107.44 256.68,107.31 256.92,107.21 257.15,107.17 257.40,107.20 257.65,107.29 257.90,107.42 258.15,107.59 258.41,107.81 258.67,108.06 258.94,108.36 259.21,108.71 259.50,109.10 259.80,109.58 260.13,110.15 260.46,110.80 260.80,111.47 261.14,112.15 261.47,112.78 261.80,113.35 262.10,113.80 262.39,114.15 262.66,114.43 262.93,114.66 263.19,114.84 263.44,114.98 263.69,115.10 263.95,115.20 264.20,115.30 264.45,115.36 264.69,115.35 264.93,115.31 265.16,115.25 265.40,115.20 265.65,115.20 265.92,115.25 266.20,115.40 266.51,115.66 266.84,116.01 267.19,116.42 267.55,116.88 267.91,117.34 268.26,117.78 268.59,118.18 268.90,118.50 269.18,118.76 269.45,118.98 269.70,119.18 269.94,119.35 270.18,119.49 270.42,119.62 270.65,119.72 270.90,119.80 271.15,119.83 271.38,119.81 271.62,119.74 271.86,119.66 272.10,119.59 272.35,119.55 272.62,119.58 272.90,119.70 273.20,119.92 273.53,120.22 273.86,120.59 274.21,120.99 274.56,121.40 274.91,121.81 275.26,122.18 275.60,122.50 275.94,122.77 276.30,123.00 276.66,123.22 277.01,123.42 277.36,123.62 277.70,123.81 278.01,124.00 278.30,124.20 278.50,124.37 278.60,124.49 278.65,124.59 278.69,124.69 278.80,124.84 279.01,125.05 279.40,125.36 280.00,125.80 280.85,126.39 281.92,127.10 283.14,127.91 284.48,128.79 285.89,129.71 287.31,130.64 288.69,131.55 290.00,132.40 291.25,133.22 292.50,134.03 293.75,134.84 295.00,135.65 296.25,136.46 297.50,137.27 298.75,138.08 300.00,138.90 301.25,139.72 302.51,140.55 303.77,141.38 305.03,142.21 306.28,143.04 307.53,143.86 308.77,144.68 310.00,145.50 311.28,146.35 312.65,147.26 314.05,148.20 315.43,149.11 316.72,149.98 317.88,150.75 318.86,151.41 319.60,151.90 319.60,14.30" fill="#666666" stroke="#000" stroke-width="0.8" stroke-linejoin="round"/>
<path d="M50.10,217.4v-10.5M50.10,14.3v10.5M70.38,217.4v-5.25M70.38,14.3v5.25M82.25,217.4v-5.25M82.25,14.3v5.25M90.66,217.4v-5.25M90.66,14.3v5.25M97.19,217.4v-5.25M97.19,14.3v5.25M102.53,217.4v-5.25M102.53,14.3v5.25M107.04,217.4v-5.25M107.04,14.3v5.25M110.95,217.4v-5.25M110.95,14.3v5.25M114.39,217.4v-5.25M114.39,14.3v5.25M117.47,217.4v-10.5M117.47,14.3v10.5M137.76,217.4v-5.25M137.76,14.3v5.25M149.62,217.4v-5.25M149.62,14.3v5.25M158.04,217.4v-5.25M158.04,14.3v5.25M164.57,217.4v-5.25M164.57,14.3v5.25M169.90,217.4v-5.25M169.90,14.3v5.25M174.41,217.4v-5.25M174.41,14.3v5.25M178.32,217.4v-5.25M178.32,14.3v5.25M181.77,217.4v-5.25M181.77,14.3v5.25M184.85,217.4v-10.5M184.85,14.3v10.5M205.13,217.4v-5.25M205.13,14.3v5.25M217.00,217.4v-5.25M217.00,14.3v5.25M225.41,217.4v-5.25M225.41,14.3v5.25M231.94,217.4v-5.25M231.94,14.3v5.25M237.28,217.4v-5.25M237.28,14.3v5.25M241.79,217.4v-5.25M241.79,14.3v5.25M245.70,217.4v-5.25M245.70,14.3v5.25M249.14,217.4v-5.25M249.14,14.3v5.25M252.22,217.4v-10.5M252.22,14.3v10.5M272.51,217.4v-5.25M272.51,14.3v5.25M284.37,217.4v-5.25M284.37,14.3v5.25M292.79,217.4v-5.25M292.79,14.3v5.25M299.32,217.4v-5.25M299.32,14.3v5.25M304.65,217.4v-5.25M304.65,14.3v5.25M309.16,217.4v-5.25M309.16,14.3v5.25M313.07,217.4v-5.25M313.07,14.3v5.25M316.52,217.4v-5.25M316.52,14.3v5.25M319.60,217.4v-10.5M319.60,14.3v10.5M339.88,217.4v-5.25M339.88,14.3v5.25M351.75,217.4v-5.25M351.75,14.3v5.25M360.16,217.4v-5.25M360.16,14.3v5.25M366.69,217.4v-5.25M366.69,14.3v5.25M372.03,217.4v-5.25M372.03,14.3v5.25M376.54,217.4v-5.25M376.54,14.3v5.25M380.45,217.4v-5.25M380.45,14.3v5.25M383.89,217.4v-5.25M383.89,14.3v5.25M319.60,217.4v-10.5M319.60,14.3v10.5M50.1,216.97h5.25M319.6,216.97h-5.25M50.1,209.04h5.25M319.6,209.04h-5.25M50.1,203.42h5.25M319.6,203.42h-5.25M50.1,199.05h5.25M319.6,199.05h-5.25M50.1,195.49h5.25M319.6,195.49h-5.25M50.1,192.47h5.25M319.6,192.47h-5.25M50.1,189.86h5.25M319.6,189.86h-5.25M50.1,187.56h5.25M319.6,187.56h-5.25M50.1,185.50h10.5M319.6,185.50h-10.5M50.1,171.95h5.25M319.6,171.95h-5.25M50.1,164.02h5.25M319.6,164.02h-5.25M50.1,158.40h5.25M319.6,158.40h-5.25M50.1,154.03h5.25M319.6,154.03h-5.25M50.1,150.47h5.25M319.6,150.47h-5.25M50.1,147.45h5.25M319.6,147.45h-5.25M50.1,144.84h5.25M319.6,144.84h-5.25M50.1,142.54h5.25M319.6,142.54h-5.25M50.1,140.48h10.5M319.6,140.48h-10.5M50.1,126.93h5.25M319.6,126.93h-5.25M50.1,119.00h5.25M319.6,119.00h-5.25M50.1,113.38h5.25M319.6,113.38h-5.25M50.1,109.01h5.25M319.6,109.01h-5.25M50.1,105.45h5.25M319.6,105.45h-5.25M50.1,102.43h5.25M319.6,102.43h-5.25M50.1,99.82h5.25M319.6,99.82h-5.25M50.1,97.52h5.25M319.6,97.52h-5.25M50.1,95.46h10.5M319.6,95.46h-10.5M50.1,81.91h5.25M319.6,81.91h-5.25M50.1,73.98h5.25M319.6,73.98h-5.25M50.1,68.36h5.25M319.6,68.36h-5.25M50.1,63.99h5.25M319.6,63.99h-5.25M50.1,60.43h5.25M319.6,60.43h-5.25M50.1,57.41h5.25M319.6,57.41h-5.25M50.1,54.80h5.25M319.6,54.80h-5.25M50.1,52.50h5.25M319.6,52.50h-5.25M50.1,50.44h10.5M319.6,50.44h-10.5M50.1,36.89h5.25M319.6,36.89h-5.25M50.1,28.96h5.25M319.6,28.96h-5.25M50.1,23.34h5.25M319.6,23.34h-5.25M50.1,18.97h5.25M319.6,18.97h-5.25M50.1,15.41h5.25M319.6,15.41h-5.25" stroke="#000" stroke-width="0.55" fill="none"/>
<g class="s" fill="#000">
<text x="50.1" y="235" text-anchor="middle" font-size="13.5">10<tspan font-size="10" dy="-5.6">−5</tspan></text>
<text x="117.475" y="235" text-anchor="middle" font-size="13.5">10<tspan font-size="10" dy="-5.6">−4</tspan></text>
<text x="184.85" y="235" text-anchor="middle" font-size="13.5">10<tspan font-size="10" dy="-5.6">−3</tspan></text>
<text x="252.225" y="235" text-anchor="middle" font-size="13.5">10<tspan font-size="10" dy="-5.6">−2</tspan></text>
<text x="319.6" y="235" text-anchor="middle" font-size="13.5">10<tspan font-size="10" dy="-5.6">−1</tspan></text>
<text x="46.5" y="190.8" text-anchor="end" font-size="13.5">10<tspan font-size="10" dy="-5.6">−9</tspan></text>
<text x="46.5" y="145.78" text-anchor="end" font-size="13.5">10<tspan font-size="10" dy="-5.6">−8</tspan></text>
<text x="46.5" y="100.75999999999999" text-anchor="end" font-size="13.5">10<tspan font-size="10" dy="-5.6">−7</tspan></text>
<text x="46.5" y="55.739999999999995" text-anchor="end" font-size="13.5">10<tspan font-size="10" dy="-5.6">−6</tspan></text>
</g>
<g class="s">
<text x="66.2" y="188.3" font-size="15.5" fill="#0000ff">ALPS</text>
<text x="66.2" y="201.1" font-size="15.4" fill="#ff0000">Next Generation</text>
<text x="244.4" y="76.6" font-size="16" letter-spacing="0.5" fill="#fff">CAST</text>
<text transform="translate(89.7,46.6) rotate(-55)" text-anchor="middle" y="5" font-size="16.4" fill="#fff">Coulomb</text>
<text transform="translate(97.2,83.1) rotate(-45)" text-anchor="middle" y="3.3" font-size="10.05" fill="#fff">FIRAS+hCMB</text>
<text transform="translate(9.7,115.3) rotate(-90) scale(1.23,0.94)" text-anchor="middle" font-size="19" font-style="italic" fill="#000">χ</text>
<text x="161" y="255.0" font-size="17" fill="#000"><tspan font-style="italic">m</tspan><tspan font-style="italic" font-size="10" dy="2.0" dx="0.5">γ′</tspan><tspan dy="-2.0" dx="0.6" font-size="13.5"> [eV]</tspan></text>
</g>
</svg></body></html>
